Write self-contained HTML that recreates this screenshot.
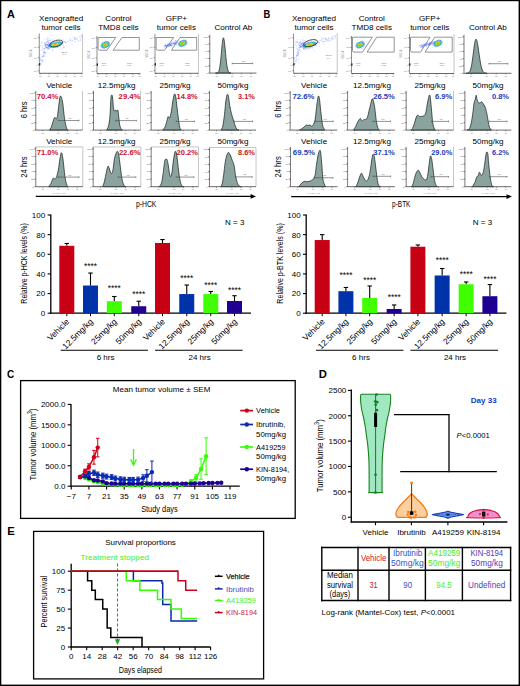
<!DOCTYPE html>
<html><head><meta charset="utf-8"><style>
html,body{margin:0;padding:0;background:#fff;}
svg{display:block;font-family:"Liberation Sans", sans-serif;}
</style></head><body>
<svg width="520" height="686" viewBox="0 0 520 686">
<rect width="520" height="686" fill="#fff"/>
<line x1="50.80" y1="214.50" x2="50.80" y2="313.80" stroke="#000" stroke-width="1.3"/>
<line x1="50.20" y1="313.20" x2="251.00" y2="313.20" stroke="#000" stroke-width="1.3"/>
<line x1="47.60" y1="313.20" x2="50.80" y2="313.20" stroke="#000" stroke-width="1.1"/>
<text x="45.20" y="316.10" font-size="8" text-anchor="end">0</text>
<line x1="47.60" y1="293.56" x2="50.80" y2="293.56" stroke="#000" stroke-width="1.1"/>
<text x="45.20" y="296.46" font-size="8" text-anchor="end">20</text>
<line x1="47.60" y1="273.92" x2="50.80" y2="273.92" stroke="#000" stroke-width="1.1"/>
<text x="45.20" y="276.82" font-size="8" text-anchor="end">40</text>
<line x1="47.60" y1="254.28" x2="50.80" y2="254.28" stroke="#000" stroke-width="1.1"/>
<text x="45.20" y="257.18" font-size="8" text-anchor="end">60</text>
<line x1="47.60" y1="234.64" x2="50.80" y2="234.64" stroke="#000" stroke-width="1.1"/>
<text x="45.20" y="237.54" font-size="8" text-anchor="end">80</text>
<line x1="47.60" y1="215.00" x2="50.80" y2="215.00" stroke="#000" stroke-width="1.1"/>
<text x="45.20" y="217.90" font-size="8" text-anchor="end">100</text>
<line x1="66.80" y1="245.83" x2="66.80" y2="243.48" stroke="#000" stroke-width="1.1"/>
<line x1="64.60" y1="243.48" x2="69.00" y2="243.48" stroke="#000" stroke-width="1.1"/>
<rect x="59.30" y="245.83" width="15.00" height="67.37" fill="#c80014"/>
<line x1="66.80" y1="313.20" x2="66.80" y2="316.20" stroke="#000" stroke-width="1.0"/>
<line x1="90.50" y1="285.51" x2="90.50" y2="273.04" stroke="#000" stroke-width="1.1"/>
<line x1="88.30" y1="273.04" x2="92.70" y2="273.04" stroke="#000" stroke-width="1.1"/>
<rect x="83.00" y="285.51" width="15.00" height="27.69" fill="#0033aa"/>
<line x1="90.50" y1="313.20" x2="90.50" y2="316.20" stroke="#000" stroke-width="1.0"/>
<text x="90.50" y="269.30" font-size="8.6" text-anchor="middle" textLength="13.00" lengthAdjust="spacingAndGlyphs">****</text>
<line x1="114.30" y1="301.22" x2="114.30" y2="296.51" stroke="#000" stroke-width="1.1"/>
<line x1="112.10" y1="296.51" x2="116.50" y2="296.51" stroke="#000" stroke-width="1.1"/>
<rect x="106.80" y="301.22" width="15.00" height="11.98" fill="#40ff00"/>
<line x1="114.30" y1="313.20" x2="114.30" y2="316.20" stroke="#000" stroke-width="1.0"/>
<text x="114.30" y="291.20" font-size="8.6" text-anchor="middle" textLength="13.00" lengthAdjust="spacingAndGlyphs">****</text>
<line x1="138.75" y1="306.23" x2="138.75" y2="301.22" stroke="#000" stroke-width="1.1"/>
<line x1="136.55" y1="301.22" x2="140.95" y2="301.22" stroke="#000" stroke-width="1.1"/>
<rect x="131.25" y="306.23" width="15.00" height="6.97" fill="#200090"/>
<line x1="138.75" y1="313.20" x2="138.75" y2="316.20" stroke="#000" stroke-width="1.0"/>
<text x="138.75" y="296.90" font-size="8.6" text-anchor="middle" textLength="13.00" lengthAdjust="spacingAndGlyphs">****</text>
<line x1="162.50" y1="242.99" x2="162.50" y2="239.55" stroke="#000" stroke-width="1.1"/>
<line x1="160.30" y1="239.55" x2="164.70" y2="239.55" stroke="#000" stroke-width="1.1"/>
<rect x="155.00" y="242.99" width="15.00" height="70.21" fill="#c80014"/>
<line x1="162.50" y1="313.20" x2="162.50" y2="316.20" stroke="#000" stroke-width="1.0"/>
<line x1="186.75" y1="294.05" x2="186.75" y2="285.02" stroke="#000" stroke-width="1.1"/>
<line x1="184.55" y1="285.02" x2="188.95" y2="285.02" stroke="#000" stroke-width="1.1"/>
<rect x="179.25" y="294.05" width="15.00" height="19.15" fill="#0033aa"/>
<line x1="186.75" y1="313.20" x2="186.75" y2="316.20" stroke="#000" stroke-width="1.0"/>
<text x="186.75" y="280.70" font-size="8.6" text-anchor="middle" textLength="13.00" lengthAdjust="spacingAndGlyphs">****</text>
<line x1="210.75" y1="294.05" x2="210.75" y2="291.50" stroke="#000" stroke-width="1.1"/>
<line x1="208.55" y1="291.50" x2="212.95" y2="291.50" stroke="#000" stroke-width="1.1"/>
<rect x="203.25" y="294.05" width="15.00" height="19.15" fill="#40ff00"/>
<line x1="210.75" y1="313.20" x2="210.75" y2="316.20" stroke="#000" stroke-width="1.0"/>
<text x="210.75" y="287.70" font-size="8.6" text-anchor="middle" textLength="13.00" lengthAdjust="spacingAndGlyphs">****</text>
<line x1="234.50" y1="301.02" x2="234.50" y2="295.72" stroke="#000" stroke-width="1.1"/>
<line x1="232.30" y1="295.72" x2="236.70" y2="295.72" stroke="#000" stroke-width="1.1"/>
<rect x="227.00" y="301.02" width="15.00" height="12.18" fill="#200090"/>
<line x1="234.50" y1="313.20" x2="234.50" y2="316.20" stroke="#000" stroke-width="1.0"/>
<text x="234.50" y="293.20" font-size="8.6" text-anchor="middle" textLength="13.00" lengthAdjust="spacingAndGlyphs">****</text>
<text x="0" y="0" font-size="9.2" text-anchor="middle" textLength="80.50" lengthAdjust="spacingAndGlyphs" transform="translate(27.20,263.40) rotate(-90)">Relative p-HCK levels (%)</text>
<text x="0" y="0" font-size="8.4" text-anchor="end" transform="translate(69.80,322.20) rotate(-45)">Vehicle</text>
<text x="0" y="0" font-size="8.4" text-anchor="end" transform="translate(93.50,322.20) rotate(-45)">12.5mg/kg</text>
<text x="0" y="0" font-size="8.4" text-anchor="end" transform="translate(117.30,322.20) rotate(-45)">25mg/kg</text>
<text x="0" y="0" font-size="8.4" text-anchor="end" transform="translate(141.75,322.20) rotate(-45)">50mg/kg</text>
<text x="0" y="0" font-size="8.4" text-anchor="end" transform="translate(165.50,322.20) rotate(-45)">Vehicle</text>
<text x="0" y="0" font-size="8.4" text-anchor="end" transform="translate(189.75,322.20) rotate(-45)">12.5mg/kg</text>
<text x="0" y="0" font-size="8.4" text-anchor="end" transform="translate(213.75,322.20) rotate(-45)">25mg/kg</text>
<text x="0" y="0" font-size="8.4" text-anchor="end" transform="translate(237.50,322.20) rotate(-45)">50mg/kg</text>
<line x1="60.60" y1="350.20" x2="148.00" y2="350.20" stroke="#000" stroke-width="1.1"/>
<line x1="155.00" y1="350.20" x2="242.60" y2="350.20" stroke="#000" stroke-width="1.1"/>
<text x="105.60" y="360.30" font-size="8" text-anchor="middle">6 hrs</text>
<text x="199.60" y="360.30" font-size="8" text-anchor="middle">24 hrs</text>
<text x="234.70" y="225.00" font-size="8" text-anchor="middle">N = 3</text>
<line x1="306.20" y1="214.50" x2="306.20" y2="313.80" stroke="#000" stroke-width="1.3"/>
<line x1="305.60" y1="313.20" x2="506.40" y2="313.20" stroke="#000" stroke-width="1.3"/>
<line x1="303.00" y1="313.20" x2="306.20" y2="313.20" stroke="#000" stroke-width="1.1"/>
<text x="300.60" y="316.10" font-size="8" text-anchor="end">0</text>
<line x1="303.00" y1="293.56" x2="306.20" y2="293.56" stroke="#000" stroke-width="1.1"/>
<text x="300.60" y="296.46" font-size="8" text-anchor="end">20</text>
<line x1="303.00" y1="273.92" x2="306.20" y2="273.92" stroke="#000" stroke-width="1.1"/>
<text x="300.60" y="276.82" font-size="8" text-anchor="end">40</text>
<line x1="303.00" y1="254.28" x2="306.20" y2="254.28" stroke="#000" stroke-width="1.1"/>
<text x="300.60" y="257.18" font-size="8" text-anchor="end">60</text>
<line x1="303.00" y1="234.64" x2="306.20" y2="234.64" stroke="#000" stroke-width="1.1"/>
<text x="300.60" y="237.54" font-size="8" text-anchor="end">80</text>
<line x1="303.00" y1="215.00" x2="306.20" y2="215.00" stroke="#000" stroke-width="1.1"/>
<text x="300.60" y="217.90" font-size="8" text-anchor="end">100</text>
<line x1="322.20" y1="240.04" x2="322.20" y2="234.64" stroke="#000" stroke-width="1.1"/>
<line x1="320.00" y1="234.64" x2="324.40" y2="234.64" stroke="#000" stroke-width="1.1"/>
<rect x="314.70" y="240.04" width="15.00" height="73.16" fill="#c80014"/>
<line x1="322.20" y1="313.20" x2="322.20" y2="316.20" stroke="#000" stroke-width="1.0"/>
<line x1="345.90" y1="291.20" x2="345.90" y2="287.47" stroke="#000" stroke-width="1.1"/>
<line x1="343.70" y1="287.47" x2="348.10" y2="287.47" stroke="#000" stroke-width="1.1"/>
<rect x="338.40" y="291.20" width="15.00" height="22.00" fill="#0033aa"/>
<line x1="345.90" y1="313.20" x2="345.90" y2="316.20" stroke="#000" stroke-width="1.0"/>
<text x="345.90" y="277.90" font-size="8.6" text-anchor="middle" textLength="13.00" lengthAdjust="spacingAndGlyphs">****</text>
<line x1="369.70" y1="297.98" x2="369.70" y2="286.00" stroke="#000" stroke-width="1.1"/>
<line x1="367.50" y1="286.00" x2="371.90" y2="286.00" stroke="#000" stroke-width="1.1"/>
<rect x="362.20" y="297.98" width="15.00" height="15.22" fill="#40ff00"/>
<line x1="369.70" y1="313.20" x2="369.70" y2="316.20" stroke="#000" stroke-width="1.0"/>
<text x="369.70" y="282.90" font-size="8.6" text-anchor="middle" textLength="13.00" lengthAdjust="spacingAndGlyphs">****</text>
<line x1="394.15" y1="308.98" x2="394.15" y2="304.95" stroke="#000" stroke-width="1.1"/>
<line x1="391.95" y1="304.95" x2="396.35" y2="304.95" stroke="#000" stroke-width="1.1"/>
<rect x="386.65" y="308.98" width="15.00" height="4.22" fill="#200090"/>
<line x1="394.15" y1="313.20" x2="394.15" y2="316.20" stroke="#000" stroke-width="1.0"/>
<text x="394.15" y="300.40" font-size="8.6" text-anchor="middle" textLength="13.00" lengthAdjust="spacingAndGlyphs">****</text>
<line x1="417.90" y1="246.72" x2="417.90" y2="244.95" stroke="#000" stroke-width="1.1"/>
<line x1="415.70" y1="244.95" x2="420.10" y2="244.95" stroke="#000" stroke-width="1.1"/>
<rect x="410.40" y="246.72" width="15.00" height="66.48" fill="#c80014"/>
<line x1="417.90" y1="313.20" x2="417.90" y2="316.20" stroke="#000" stroke-width="1.0"/>
<line x1="442.15" y1="275.49" x2="442.15" y2="268.52" stroke="#000" stroke-width="1.1"/>
<line x1="439.95" y1="268.52" x2="444.35" y2="268.52" stroke="#000" stroke-width="1.1"/>
<rect x="434.65" y="275.49" width="15.00" height="37.71" fill="#0033aa"/>
<line x1="442.15" y1="313.20" x2="442.15" y2="316.20" stroke="#000" stroke-width="1.0"/>
<text x="442.15" y="263.20" font-size="8.6" text-anchor="middle" textLength="13.00" lengthAdjust="spacingAndGlyphs">****</text>
<line x1="466.15" y1="284.23" x2="466.15" y2="281.97" stroke="#000" stroke-width="1.1"/>
<line x1="463.95" y1="281.97" x2="468.35" y2="281.97" stroke="#000" stroke-width="1.1"/>
<rect x="458.65" y="284.23" width="15.00" height="28.97" fill="#40ff00"/>
<line x1="466.15" y1="313.20" x2="466.15" y2="316.20" stroke="#000" stroke-width="1.0"/>
<text x="466.15" y="276.90" font-size="8.6" text-anchor="middle" textLength="13.00" lengthAdjust="spacingAndGlyphs">****</text>
<line x1="489.90" y1="296.21" x2="489.90" y2="284.53" stroke="#000" stroke-width="1.1"/>
<line x1="487.70" y1="284.53" x2="492.10" y2="284.53" stroke="#000" stroke-width="1.1"/>
<rect x="482.40" y="296.21" width="15.00" height="16.99" fill="#200090"/>
<line x1="489.90" y1="313.20" x2="489.90" y2="316.20" stroke="#000" stroke-width="1.0"/>
<text x="489.90" y="281.90" font-size="8.6" text-anchor="middle" textLength="13.00" lengthAdjust="spacingAndGlyphs">****</text>
<text x="0" y="0" font-size="9.2" text-anchor="middle" textLength="80.50" lengthAdjust="spacingAndGlyphs" transform="translate(282.60,263.40) rotate(-90)">Relative p-BTK levels (%)</text>
<text x="0" y="0" font-size="8.4" text-anchor="end" transform="translate(325.20,322.20) rotate(-45)">Vehicle</text>
<text x="0" y="0" font-size="8.4" text-anchor="end" transform="translate(348.90,322.20) rotate(-45)">12.5mg/kg</text>
<text x="0" y="0" font-size="8.4" text-anchor="end" transform="translate(372.70,322.20) rotate(-45)">25mg/kg</text>
<text x="0" y="0" font-size="8.4" text-anchor="end" transform="translate(397.15,322.20) rotate(-45)">50mg/kg</text>
<text x="0" y="0" font-size="8.4" text-anchor="end" transform="translate(420.90,322.20) rotate(-45)">Vehicle</text>
<text x="0" y="0" font-size="8.4" text-anchor="end" transform="translate(445.15,322.20) rotate(-45)">12.5mg/kg</text>
<text x="0" y="0" font-size="8.4" text-anchor="end" transform="translate(469.15,322.20) rotate(-45)">25mg/kg</text>
<text x="0" y="0" font-size="8.4" text-anchor="end" transform="translate(492.90,322.20) rotate(-45)">50mg/kg</text>
<line x1="316.00" y1="350.20" x2="403.40" y2="350.20" stroke="#000" stroke-width="1.1"/>
<line x1="410.40" y1="350.20" x2="498.00" y2="350.20" stroke="#000" stroke-width="1.1"/>
<text x="361.00" y="360.30" font-size="8" text-anchor="middle">6 hrs</text>
<text x="455.00" y="360.30" font-size="8" text-anchor="middle">24 hrs</text>
<text x="482.50" y="225.00" font-size="8" text-anchor="middle">N = 3</text>
<text x="61.10" y="21.20" font-size="8.1" text-anchor="middle">Xenografted</text>
<text x="61.10" y="30.00" font-size="8.1" text-anchor="middle">tumor cells</text>
<text x="118.40" y="21.20" font-size="8.1" text-anchor="middle">Control</text>
<text x="118.40" y="30.00" font-size="8.1" text-anchor="middle">TMD8 cells</text>
<text x="176.40" y="21.20" font-size="8.1" text-anchor="middle">GFP+</text>
<text x="176.40" y="30.00" font-size="8.1" text-anchor="middle">tumor cells</text>
<text x="314.00" y="21.20" font-size="8.1" text-anchor="middle">Xenografted</text>
<text x="314.00" y="30.00" font-size="8.1" text-anchor="middle">tumor cells</text>
<text x="371.70" y="21.20" font-size="8.1" text-anchor="middle">Control</text>
<text x="371.70" y="30.00" font-size="8.1" text-anchor="middle">TMD8 cells</text>
<text x="429.70" y="21.20" font-size="8.1" text-anchor="middle">GFP+</text>
<text x="429.70" y="30.00" font-size="8.1" text-anchor="middle">tumor cells</text>
<text x="233.40" y="30.00" font-size="8.1" text-anchor="middle">Control Ab</text>
<text x="487.90" y="30.00" font-size="8.1" text-anchor="middle">Control Ab</text>
<rect x="20.60" y="380.60" width="274.60" height="137.80" fill="none" stroke="#000" stroke-width="1.3"/>
<text x="161.60" y="392.20" font-size="8" text-anchor="middle" textLength="97.50" lengthAdjust="spacingAndGlyphs">Mean tumor volume ± SEM</text>
<line x1="71.00" y1="404.00" x2="71.00" y2="486.80" stroke="#000" stroke-width="1.3"/>
<line x1="70.40" y1="486.20" x2="239.80" y2="486.20" stroke="#000" stroke-width="1.3"/>
<line x1="67.60" y1="486.20" x2="71.00" y2="486.20" stroke="#000" stroke-width="1.1"/>
<text x="65.40" y="489.10" font-size="8" text-anchor="end">0.0</text>
<line x1="67.60" y1="465.75" x2="71.00" y2="465.75" stroke="#000" stroke-width="1.1"/>
<text x="65.40" y="468.65" font-size="8" text-anchor="end">500.0</text>
<line x1="67.60" y1="445.30" x2="71.00" y2="445.30" stroke="#000" stroke-width="1.1"/>
<text x="65.40" y="448.20" font-size="8" text-anchor="end">1000.0</text>
<line x1="67.60" y1="424.85" x2="71.00" y2="424.85" stroke="#000" stroke-width="1.1"/>
<text x="65.40" y="427.75" font-size="8" text-anchor="end">1500.0</text>
<line x1="67.60" y1="404.40" x2="71.00" y2="404.40" stroke="#000" stroke-width="1.1"/>
<text x="65.40" y="407.30" font-size="8" text-anchor="end">2000.0</text>
<line x1="71.28" y1="486.20" x2="71.28" y2="489.40" stroke="#000" stroke-width="1.1"/>
<text x="71.28" y="499.30" font-size="8" text-anchor="middle">−7</text>
<line x1="88.92" y1="486.20" x2="88.92" y2="489.40" stroke="#000" stroke-width="1.1"/>
<text x="88.92" y="499.30" font-size="8" text-anchor="middle">7</text>
<line x1="106.56" y1="486.20" x2="106.56" y2="489.40" stroke="#000" stroke-width="1.1"/>
<text x="106.56" y="499.30" font-size="8" text-anchor="middle">21</text>
<line x1="124.20" y1="486.20" x2="124.20" y2="489.40" stroke="#000" stroke-width="1.1"/>
<text x="124.20" y="499.30" font-size="8" text-anchor="middle">35</text>
<line x1="141.84" y1="486.20" x2="141.84" y2="489.40" stroke="#000" stroke-width="1.1"/>
<text x="141.84" y="499.30" font-size="8" text-anchor="middle">49</text>
<line x1="159.48" y1="486.20" x2="159.48" y2="489.40" stroke="#000" stroke-width="1.1"/>
<text x="159.48" y="499.30" font-size="8" text-anchor="middle">63</text>
<line x1="177.12" y1="486.20" x2="177.12" y2="489.40" stroke="#000" stroke-width="1.1"/>
<text x="177.12" y="499.30" font-size="8" text-anchor="middle">77</text>
<line x1="194.76" y1="486.20" x2="194.76" y2="489.40" stroke="#000" stroke-width="1.1"/>
<text x="194.76" y="499.30" font-size="8" text-anchor="middle">91</text>
<line x1="212.40" y1="486.20" x2="212.40" y2="489.40" stroke="#000" stroke-width="1.1"/>
<text x="212.40" y="499.30" font-size="8" text-anchor="middle">105</text>
<line x1="230.04" y1="486.20" x2="230.04" y2="489.40" stroke="#000" stroke-width="1.1"/>
<text x="230.04" y="499.30" font-size="8" text-anchor="middle">119</text>
<text x="159.40" y="511.60" font-size="9" text-anchor="middle" textLength="36.50" lengthAdjust="spacingAndGlyphs">Study days</text>
<text x="0" y="0" font-size="9.2" text-anchor="middle" transform="translate(35.7,444.5) rotate(-90)" textLength="72" lengthAdjust="spacingAndGlyphs">Tumor volume (mm<tspan font-size="6.8" dy="-3.6">3</tspan><tspan dy="3.6">)</tspan></text>
<path d="M80.10,477.00 L85.14,478.02 L88.92,479.45 L93.96,481.29 L97.74,482.31 L102.78,483.13 L106.56,483.95 L111.60,484.36 L115.38,484.65 L120.42,484.89 L124.20,485.05 L129.24,485.05 L133.02,485.05 L138.06,485.05 L141.84,485.05 L146.88,485.05 L150.66,485.05 L155.70,485.05 L159.48,485.05 L164.52,485.05 L168.30,485.05 L173.34,485.05 L177.12,484.97 L182.16,484.77 L185.94,483.95 L190.98,481.21 L196.02,478.02 L201.06,469.02 L206.10,456.22" fill="none" stroke="#33ff00" stroke-width="1.5" stroke-linejoin="round"/>
<line x1="80.10" y1="476.18" x2="80.10" y2="477.82" stroke="#33ff00" stroke-width="1.0"/>
<line x1="78.30" y1="476.18" x2="81.90" y2="476.18" stroke="#33ff00" stroke-width="1.0"/>
<line x1="78.30" y1="477.82" x2="81.90" y2="477.82" stroke="#33ff00" stroke-width="1.0"/>
<line x1="85.14" y1="477.20" x2="85.14" y2="478.84" stroke="#33ff00" stroke-width="1.0"/>
<line x1="83.34" y1="477.20" x2="86.94" y2="477.20" stroke="#33ff00" stroke-width="1.0"/>
<line x1="83.34" y1="478.84" x2="86.94" y2="478.84" stroke="#33ff00" stroke-width="1.0"/>
<line x1="88.92" y1="478.72" x2="88.92" y2="480.19" stroke="#33ff00" stroke-width="1.0"/>
<line x1="87.12" y1="478.72" x2="90.72" y2="478.72" stroke="#33ff00" stroke-width="1.0"/>
<line x1="87.12" y1="480.19" x2="90.72" y2="480.19" stroke="#33ff00" stroke-width="1.0"/>
<line x1="93.96" y1="480.68" x2="93.96" y2="481.91" stroke="#33ff00" stroke-width="1.0"/>
<line x1="92.16" y1="480.68" x2="95.76" y2="480.68" stroke="#33ff00" stroke-width="1.0"/>
<line x1="92.16" y1="481.91" x2="95.76" y2="481.91" stroke="#33ff00" stroke-width="1.0"/>
<line x1="97.74" y1="481.82" x2="97.74" y2="482.81" stroke="#33ff00" stroke-width="1.0"/>
<line x1="95.94" y1="481.82" x2="99.54" y2="481.82" stroke="#33ff00" stroke-width="1.0"/>
<line x1="95.94" y1="482.81" x2="99.54" y2="482.81" stroke="#33ff00" stroke-width="1.0"/>
<line x1="102.78" y1="482.72" x2="102.78" y2="483.54" stroke="#33ff00" stroke-width="1.0"/>
<line x1="100.98" y1="482.72" x2="104.58" y2="482.72" stroke="#33ff00" stroke-width="1.0"/>
<line x1="100.98" y1="483.54" x2="104.58" y2="483.54" stroke="#33ff00" stroke-width="1.0"/>
<line x1="106.56" y1="483.62" x2="106.56" y2="484.28" stroke="#33ff00" stroke-width="1.0"/>
<line x1="104.76" y1="483.62" x2="108.36" y2="483.62" stroke="#33ff00" stroke-width="1.0"/>
<line x1="104.76" y1="484.28" x2="108.36" y2="484.28" stroke="#33ff00" stroke-width="1.0"/>
<line x1="111.60" y1="484.03" x2="111.60" y2="484.69" stroke="#33ff00" stroke-width="1.0"/>
<line x1="109.80" y1="484.03" x2="113.40" y2="484.03" stroke="#33ff00" stroke-width="1.0"/>
<line x1="109.80" y1="484.69" x2="113.40" y2="484.69" stroke="#33ff00" stroke-width="1.0"/>
<line x1="115.38" y1="484.40" x2="115.38" y2="484.89" stroke="#33ff00" stroke-width="1.0"/>
<line x1="113.58" y1="484.40" x2="117.18" y2="484.40" stroke="#33ff00" stroke-width="1.0"/>
<line x1="113.58" y1="484.89" x2="117.18" y2="484.89" stroke="#33ff00" stroke-width="1.0"/>
<line x1="120.42" y1="484.65" x2="120.42" y2="485.14" stroke="#33ff00" stroke-width="1.0"/>
<line x1="118.62" y1="484.65" x2="122.22" y2="484.65" stroke="#33ff00" stroke-width="1.0"/>
<line x1="118.62" y1="485.14" x2="122.22" y2="485.14" stroke="#33ff00" stroke-width="1.0"/>
<line x1="124.20" y1="484.81" x2="124.20" y2="485.30" stroke="#33ff00" stroke-width="1.0"/>
<line x1="122.40" y1="484.81" x2="126.00" y2="484.81" stroke="#33ff00" stroke-width="1.0"/>
<line x1="122.40" y1="485.30" x2="126.00" y2="485.30" stroke="#33ff00" stroke-width="1.0"/>
<line x1="129.24" y1="484.81" x2="129.24" y2="485.30" stroke="#33ff00" stroke-width="1.0"/>
<line x1="127.44" y1="484.81" x2="131.04" y2="484.81" stroke="#33ff00" stroke-width="1.0"/>
<line x1="127.44" y1="485.30" x2="131.04" y2="485.30" stroke="#33ff00" stroke-width="1.0"/>
<line x1="133.02" y1="484.81" x2="133.02" y2="485.30" stroke="#33ff00" stroke-width="1.0"/>
<line x1="131.22" y1="484.81" x2="134.82" y2="484.81" stroke="#33ff00" stroke-width="1.0"/>
<line x1="131.22" y1="485.30" x2="134.82" y2="485.30" stroke="#33ff00" stroke-width="1.0"/>
<line x1="138.06" y1="484.81" x2="138.06" y2="485.30" stroke="#33ff00" stroke-width="1.0"/>
<line x1="136.26" y1="484.81" x2="139.86" y2="484.81" stroke="#33ff00" stroke-width="1.0"/>
<line x1="136.26" y1="485.30" x2="139.86" y2="485.30" stroke="#33ff00" stroke-width="1.0"/>
<line x1="141.84" y1="484.81" x2="141.84" y2="485.30" stroke="#33ff00" stroke-width="1.0"/>
<line x1="140.04" y1="484.81" x2="143.64" y2="484.81" stroke="#33ff00" stroke-width="1.0"/>
<line x1="140.04" y1="485.30" x2="143.64" y2="485.30" stroke="#33ff00" stroke-width="1.0"/>
<line x1="146.88" y1="484.81" x2="146.88" y2="485.30" stroke="#33ff00" stroke-width="1.0"/>
<line x1="145.08" y1="484.81" x2="148.68" y2="484.81" stroke="#33ff00" stroke-width="1.0"/>
<line x1="145.08" y1="485.30" x2="148.68" y2="485.30" stroke="#33ff00" stroke-width="1.0"/>
<line x1="150.66" y1="484.81" x2="150.66" y2="485.30" stroke="#33ff00" stroke-width="1.0"/>
<line x1="148.86" y1="484.81" x2="152.46" y2="484.81" stroke="#33ff00" stroke-width="1.0"/>
<line x1="148.86" y1="485.30" x2="152.46" y2="485.30" stroke="#33ff00" stroke-width="1.0"/>
<line x1="155.70" y1="484.81" x2="155.70" y2="485.30" stroke="#33ff00" stroke-width="1.0"/>
<line x1="153.90" y1="484.81" x2="157.50" y2="484.81" stroke="#33ff00" stroke-width="1.0"/>
<line x1="153.90" y1="485.30" x2="157.50" y2="485.30" stroke="#33ff00" stroke-width="1.0"/>
<line x1="159.48" y1="484.81" x2="159.48" y2="485.30" stroke="#33ff00" stroke-width="1.0"/>
<line x1="157.68" y1="484.81" x2="161.28" y2="484.81" stroke="#33ff00" stroke-width="1.0"/>
<line x1="157.68" y1="485.30" x2="161.28" y2="485.30" stroke="#33ff00" stroke-width="1.0"/>
<line x1="164.52" y1="484.81" x2="164.52" y2="485.30" stroke="#33ff00" stroke-width="1.0"/>
<line x1="162.72" y1="484.81" x2="166.32" y2="484.81" stroke="#33ff00" stroke-width="1.0"/>
<line x1="162.72" y1="485.30" x2="166.32" y2="485.30" stroke="#33ff00" stroke-width="1.0"/>
<line x1="168.30" y1="484.81" x2="168.30" y2="485.30" stroke="#33ff00" stroke-width="1.0"/>
<line x1="166.50" y1="484.81" x2="170.10" y2="484.81" stroke="#33ff00" stroke-width="1.0"/>
<line x1="166.50" y1="485.30" x2="170.10" y2="485.30" stroke="#33ff00" stroke-width="1.0"/>
<line x1="173.34" y1="484.81" x2="173.34" y2="485.30" stroke="#33ff00" stroke-width="1.0"/>
<line x1="171.54" y1="484.81" x2="175.14" y2="484.81" stroke="#33ff00" stroke-width="1.0"/>
<line x1="171.54" y1="485.30" x2="175.14" y2="485.30" stroke="#33ff00" stroke-width="1.0"/>
<line x1="177.12" y1="484.73" x2="177.12" y2="485.22" stroke="#33ff00" stroke-width="1.0"/>
<line x1="175.32" y1="484.73" x2="178.92" y2="484.73" stroke="#33ff00" stroke-width="1.0"/>
<line x1="175.32" y1="485.22" x2="178.92" y2="485.22" stroke="#33ff00" stroke-width="1.0"/>
<line x1="182.16" y1="484.44" x2="182.16" y2="485.10" stroke="#33ff00" stroke-width="1.0"/>
<line x1="180.36" y1="484.44" x2="183.96" y2="484.44" stroke="#33ff00" stroke-width="1.0"/>
<line x1="180.36" y1="485.10" x2="183.96" y2="485.10" stroke="#33ff00" stroke-width="1.0"/>
<line x1="185.94" y1="483.46" x2="185.94" y2="484.44" stroke="#33ff00" stroke-width="1.0"/>
<line x1="184.14" y1="483.46" x2="187.74" y2="483.46" stroke="#33ff00" stroke-width="1.0"/>
<line x1="184.14" y1="484.44" x2="187.74" y2="484.44" stroke="#33ff00" stroke-width="1.0"/>
<line x1="190.98" y1="479.98" x2="190.98" y2="482.44" stroke="#33ff00" stroke-width="1.0"/>
<line x1="189.18" y1="479.98" x2="192.78" y2="479.98" stroke="#33ff00" stroke-width="1.0"/>
<line x1="189.18" y1="482.44" x2="192.78" y2="482.44" stroke="#33ff00" stroke-width="1.0"/>
<line x1="196.02" y1="474.75" x2="196.02" y2="481.29" stroke="#33ff00" stroke-width="1.0"/>
<line x1="194.22" y1="474.75" x2="197.82" y2="474.75" stroke="#33ff00" stroke-width="1.0"/>
<line x1="194.22" y1="481.29" x2="197.82" y2="481.29" stroke="#33ff00" stroke-width="1.0"/>
<line x1="201.06" y1="458.80" x2="201.06" y2="479.25" stroke="#33ff00" stroke-width="1.0"/>
<line x1="199.26" y1="458.80" x2="202.86" y2="458.80" stroke="#33ff00" stroke-width="1.0"/>
<line x1="199.26" y1="479.25" x2="202.86" y2="479.25" stroke="#33ff00" stroke-width="1.0"/>
<line x1="206.10" y1="437.82" x2="206.10" y2="474.63" stroke="#33ff00" stroke-width="1.0"/>
<line x1="204.30" y1="437.82" x2="207.90" y2="437.82" stroke="#33ff00" stroke-width="1.0"/>
<line x1="204.30" y1="474.63" x2="207.90" y2="474.63" stroke="#33ff00" stroke-width="1.0"/>
<circle cx="80.10" cy="477.00" r="2.2" fill="#33ff00"/>
<circle cx="85.14" cy="478.02" r="2.2" fill="#33ff00"/>
<circle cx="88.92" cy="479.45" r="2.2" fill="#33ff00"/>
<circle cx="93.96" cy="481.29" r="2.2" fill="#33ff00"/>
<circle cx="97.74" cy="482.31" r="2.2" fill="#33ff00"/>
<circle cx="102.78" cy="483.13" r="2.2" fill="#33ff00"/>
<circle cx="106.56" cy="483.95" r="2.2" fill="#33ff00"/>
<circle cx="111.60" cy="484.36" r="2.2" fill="#33ff00"/>
<circle cx="115.38" cy="484.65" r="2.2" fill="#33ff00"/>
<circle cx="120.42" cy="484.89" r="2.2" fill="#33ff00"/>
<circle cx="124.20" cy="485.05" r="2.2" fill="#33ff00"/>
<circle cx="129.24" cy="485.05" r="2.2" fill="#33ff00"/>
<circle cx="133.02" cy="485.05" r="2.2" fill="#33ff00"/>
<circle cx="138.06" cy="485.05" r="2.2" fill="#33ff00"/>
<circle cx="141.84" cy="485.05" r="2.2" fill="#33ff00"/>
<circle cx="146.88" cy="485.05" r="2.2" fill="#33ff00"/>
<circle cx="150.66" cy="485.05" r="2.2" fill="#33ff00"/>
<circle cx="155.70" cy="485.05" r="2.2" fill="#33ff00"/>
<circle cx="159.48" cy="485.05" r="2.2" fill="#33ff00"/>
<circle cx="164.52" cy="485.05" r="2.2" fill="#33ff00"/>
<circle cx="168.30" cy="485.05" r="2.2" fill="#33ff00"/>
<circle cx="173.34" cy="485.05" r="2.2" fill="#33ff00"/>
<circle cx="177.12" cy="484.97" r="2.2" fill="#33ff00"/>
<circle cx="182.16" cy="484.77" r="2.2" fill="#33ff00"/>
<circle cx="185.94" cy="483.95" r="2.2" fill="#33ff00"/>
<circle cx="190.98" cy="481.21" r="2.2" fill="#33ff00"/>
<circle cx="196.02" cy="478.02" r="2.2" fill="#33ff00"/>
<circle cx="201.06" cy="469.02" r="2.2" fill="#33ff00"/>
<circle cx="206.10" cy="456.22" r="2.2" fill="#33ff00"/>
<path d="M80.10,477.00 L85.14,476.30 L88.92,478.02 L93.96,480.19 L97.74,480.51 L102.78,481.41 L106.56,483.13 L111.60,483.50 L115.38,483.66 L120.42,483.66 L124.20,483.66 L129.24,483.66 L133.02,483.66 L138.06,483.66 L141.84,483.66 L146.88,483.66 L150.66,483.66 L155.70,483.66 L159.48,483.66 L164.52,483.66 L168.30,483.66 L173.34,483.66 L177.12,483.66 L182.16,483.66 L185.94,483.66 L190.98,483.58 L194.76,483.50 L199.80,483.34 L203.58,483.17 L208.62,483.01 L212.40,482.93 L217.44,482.85 L221.22,482.76" fill="none" stroke="#1e0096" stroke-width="1.5" stroke-linejoin="round"/>
<line x1="80.10" y1="476.59" x2="80.10" y2="477.41" stroke="#1e0096" stroke-width="1.0"/>
<line x1="78.30" y1="476.59" x2="81.90" y2="476.59" stroke="#1e0096" stroke-width="1.0"/>
<line x1="78.30" y1="477.41" x2="81.90" y2="477.41" stroke="#1e0096" stroke-width="1.0"/>
<line x1="85.14" y1="475.89" x2="85.14" y2="476.71" stroke="#1e0096" stroke-width="1.0"/>
<line x1="83.34" y1="475.89" x2="86.94" y2="475.89" stroke="#1e0096" stroke-width="1.0"/>
<line x1="83.34" y1="476.71" x2="86.94" y2="476.71" stroke="#1e0096" stroke-width="1.0"/>
<line x1="88.92" y1="477.61" x2="88.92" y2="478.43" stroke="#1e0096" stroke-width="1.0"/>
<line x1="87.12" y1="477.61" x2="90.72" y2="477.61" stroke="#1e0096" stroke-width="1.0"/>
<line x1="87.12" y1="478.43" x2="90.72" y2="478.43" stroke="#1e0096" stroke-width="1.0"/>
<line x1="93.96" y1="479.78" x2="93.96" y2="480.60" stroke="#1e0096" stroke-width="1.0"/>
<line x1="92.16" y1="479.78" x2="95.76" y2="479.78" stroke="#1e0096" stroke-width="1.0"/>
<line x1="92.16" y1="480.60" x2="95.76" y2="480.60" stroke="#1e0096" stroke-width="1.0"/>
<line x1="97.74" y1="480.11" x2="97.74" y2="480.92" stroke="#1e0096" stroke-width="1.0"/>
<line x1="95.94" y1="480.11" x2="99.54" y2="480.11" stroke="#1e0096" stroke-width="1.0"/>
<line x1="95.94" y1="480.92" x2="99.54" y2="480.92" stroke="#1e0096" stroke-width="1.0"/>
<line x1="102.78" y1="481.01" x2="102.78" y2="481.82" stroke="#1e0096" stroke-width="1.0"/>
<line x1="100.98" y1="481.01" x2="104.58" y2="481.01" stroke="#1e0096" stroke-width="1.0"/>
<line x1="100.98" y1="481.82" x2="104.58" y2="481.82" stroke="#1e0096" stroke-width="1.0"/>
<line x1="106.56" y1="482.72" x2="106.56" y2="483.54" stroke="#1e0096" stroke-width="1.0"/>
<line x1="104.76" y1="482.72" x2="108.36" y2="482.72" stroke="#1e0096" stroke-width="1.0"/>
<line x1="104.76" y1="483.54" x2="108.36" y2="483.54" stroke="#1e0096" stroke-width="1.0"/>
<line x1="111.60" y1="483.09" x2="111.60" y2="483.91" stroke="#1e0096" stroke-width="1.0"/>
<line x1="109.80" y1="483.09" x2="113.40" y2="483.09" stroke="#1e0096" stroke-width="1.0"/>
<line x1="109.80" y1="483.91" x2="113.40" y2="483.91" stroke="#1e0096" stroke-width="1.0"/>
<line x1="115.38" y1="483.26" x2="115.38" y2="484.07" stroke="#1e0096" stroke-width="1.0"/>
<line x1="113.58" y1="483.26" x2="117.18" y2="483.26" stroke="#1e0096" stroke-width="1.0"/>
<line x1="113.58" y1="484.07" x2="117.18" y2="484.07" stroke="#1e0096" stroke-width="1.0"/>
<line x1="120.42" y1="483.26" x2="120.42" y2="484.07" stroke="#1e0096" stroke-width="1.0"/>
<line x1="118.62" y1="483.26" x2="122.22" y2="483.26" stroke="#1e0096" stroke-width="1.0"/>
<line x1="118.62" y1="484.07" x2="122.22" y2="484.07" stroke="#1e0096" stroke-width="1.0"/>
<line x1="124.20" y1="483.26" x2="124.20" y2="484.07" stroke="#1e0096" stroke-width="1.0"/>
<line x1="122.40" y1="483.26" x2="126.00" y2="483.26" stroke="#1e0096" stroke-width="1.0"/>
<line x1="122.40" y1="484.07" x2="126.00" y2="484.07" stroke="#1e0096" stroke-width="1.0"/>
<line x1="129.24" y1="483.26" x2="129.24" y2="484.07" stroke="#1e0096" stroke-width="1.0"/>
<line x1="127.44" y1="483.26" x2="131.04" y2="483.26" stroke="#1e0096" stroke-width="1.0"/>
<line x1="127.44" y1="484.07" x2="131.04" y2="484.07" stroke="#1e0096" stroke-width="1.0"/>
<line x1="133.02" y1="483.26" x2="133.02" y2="484.07" stroke="#1e0096" stroke-width="1.0"/>
<line x1="131.22" y1="483.26" x2="134.82" y2="483.26" stroke="#1e0096" stroke-width="1.0"/>
<line x1="131.22" y1="484.07" x2="134.82" y2="484.07" stroke="#1e0096" stroke-width="1.0"/>
<line x1="138.06" y1="483.26" x2="138.06" y2="484.07" stroke="#1e0096" stroke-width="1.0"/>
<line x1="136.26" y1="483.26" x2="139.86" y2="483.26" stroke="#1e0096" stroke-width="1.0"/>
<line x1="136.26" y1="484.07" x2="139.86" y2="484.07" stroke="#1e0096" stroke-width="1.0"/>
<line x1="141.84" y1="483.26" x2="141.84" y2="484.07" stroke="#1e0096" stroke-width="1.0"/>
<line x1="140.04" y1="483.26" x2="143.64" y2="483.26" stroke="#1e0096" stroke-width="1.0"/>
<line x1="140.04" y1="484.07" x2="143.64" y2="484.07" stroke="#1e0096" stroke-width="1.0"/>
<line x1="146.88" y1="483.26" x2="146.88" y2="484.07" stroke="#1e0096" stroke-width="1.0"/>
<line x1="145.08" y1="483.26" x2="148.68" y2="483.26" stroke="#1e0096" stroke-width="1.0"/>
<line x1="145.08" y1="484.07" x2="148.68" y2="484.07" stroke="#1e0096" stroke-width="1.0"/>
<line x1="150.66" y1="483.26" x2="150.66" y2="484.07" stroke="#1e0096" stroke-width="1.0"/>
<line x1="148.86" y1="483.26" x2="152.46" y2="483.26" stroke="#1e0096" stroke-width="1.0"/>
<line x1="148.86" y1="484.07" x2="152.46" y2="484.07" stroke="#1e0096" stroke-width="1.0"/>
<line x1="155.70" y1="483.26" x2="155.70" y2="484.07" stroke="#1e0096" stroke-width="1.0"/>
<line x1="153.90" y1="483.26" x2="157.50" y2="483.26" stroke="#1e0096" stroke-width="1.0"/>
<line x1="153.90" y1="484.07" x2="157.50" y2="484.07" stroke="#1e0096" stroke-width="1.0"/>
<line x1="159.48" y1="483.26" x2="159.48" y2="484.07" stroke="#1e0096" stroke-width="1.0"/>
<line x1="157.68" y1="483.26" x2="161.28" y2="483.26" stroke="#1e0096" stroke-width="1.0"/>
<line x1="157.68" y1="484.07" x2="161.28" y2="484.07" stroke="#1e0096" stroke-width="1.0"/>
<line x1="164.52" y1="483.26" x2="164.52" y2="484.07" stroke="#1e0096" stroke-width="1.0"/>
<line x1="162.72" y1="483.26" x2="166.32" y2="483.26" stroke="#1e0096" stroke-width="1.0"/>
<line x1="162.72" y1="484.07" x2="166.32" y2="484.07" stroke="#1e0096" stroke-width="1.0"/>
<line x1="168.30" y1="483.26" x2="168.30" y2="484.07" stroke="#1e0096" stroke-width="1.0"/>
<line x1="166.50" y1="483.26" x2="170.10" y2="483.26" stroke="#1e0096" stroke-width="1.0"/>
<line x1="166.50" y1="484.07" x2="170.10" y2="484.07" stroke="#1e0096" stroke-width="1.0"/>
<line x1="173.34" y1="483.26" x2="173.34" y2="484.07" stroke="#1e0096" stroke-width="1.0"/>
<line x1="171.54" y1="483.26" x2="175.14" y2="483.26" stroke="#1e0096" stroke-width="1.0"/>
<line x1="171.54" y1="484.07" x2="175.14" y2="484.07" stroke="#1e0096" stroke-width="1.0"/>
<line x1="177.12" y1="483.26" x2="177.12" y2="484.07" stroke="#1e0096" stroke-width="1.0"/>
<line x1="175.32" y1="483.26" x2="178.92" y2="483.26" stroke="#1e0096" stroke-width="1.0"/>
<line x1="175.32" y1="484.07" x2="178.92" y2="484.07" stroke="#1e0096" stroke-width="1.0"/>
<line x1="182.16" y1="483.26" x2="182.16" y2="484.07" stroke="#1e0096" stroke-width="1.0"/>
<line x1="180.36" y1="483.26" x2="183.96" y2="483.26" stroke="#1e0096" stroke-width="1.0"/>
<line x1="180.36" y1="484.07" x2="183.96" y2="484.07" stroke="#1e0096" stroke-width="1.0"/>
<line x1="185.94" y1="483.26" x2="185.94" y2="484.07" stroke="#1e0096" stroke-width="1.0"/>
<line x1="184.14" y1="483.26" x2="187.74" y2="483.26" stroke="#1e0096" stroke-width="1.0"/>
<line x1="184.14" y1="484.07" x2="187.74" y2="484.07" stroke="#1e0096" stroke-width="1.0"/>
<line x1="190.98" y1="483.17" x2="190.98" y2="483.99" stroke="#1e0096" stroke-width="1.0"/>
<line x1="189.18" y1="483.17" x2="192.78" y2="483.17" stroke="#1e0096" stroke-width="1.0"/>
<line x1="189.18" y1="483.99" x2="192.78" y2="483.99" stroke="#1e0096" stroke-width="1.0"/>
<line x1="194.76" y1="483.09" x2="194.76" y2="483.91" stroke="#1e0096" stroke-width="1.0"/>
<line x1="192.96" y1="483.09" x2="196.56" y2="483.09" stroke="#1e0096" stroke-width="1.0"/>
<line x1="192.96" y1="483.91" x2="196.56" y2="483.91" stroke="#1e0096" stroke-width="1.0"/>
<line x1="199.80" y1="482.93" x2="199.80" y2="483.75" stroke="#1e0096" stroke-width="1.0"/>
<line x1="198.00" y1="482.93" x2="201.60" y2="482.93" stroke="#1e0096" stroke-width="1.0"/>
<line x1="198.00" y1="483.75" x2="201.60" y2="483.75" stroke="#1e0096" stroke-width="1.0"/>
<line x1="203.58" y1="482.76" x2="203.58" y2="483.58" stroke="#1e0096" stroke-width="1.0"/>
<line x1="201.78" y1="482.76" x2="205.38" y2="482.76" stroke="#1e0096" stroke-width="1.0"/>
<line x1="201.78" y1="483.58" x2="205.38" y2="483.58" stroke="#1e0096" stroke-width="1.0"/>
<line x1="208.62" y1="482.60" x2="208.62" y2="483.42" stroke="#1e0096" stroke-width="1.0"/>
<line x1="206.82" y1="482.60" x2="210.42" y2="482.60" stroke="#1e0096" stroke-width="1.0"/>
<line x1="206.82" y1="483.42" x2="210.42" y2="483.42" stroke="#1e0096" stroke-width="1.0"/>
<line x1="212.40" y1="482.52" x2="212.40" y2="483.34" stroke="#1e0096" stroke-width="1.0"/>
<line x1="210.60" y1="482.52" x2="214.20" y2="482.52" stroke="#1e0096" stroke-width="1.0"/>
<line x1="210.60" y1="483.34" x2="214.20" y2="483.34" stroke="#1e0096" stroke-width="1.0"/>
<line x1="217.44" y1="482.44" x2="217.44" y2="483.26" stroke="#1e0096" stroke-width="1.0"/>
<line x1="215.64" y1="482.44" x2="219.24" y2="482.44" stroke="#1e0096" stroke-width="1.0"/>
<line x1="215.64" y1="483.26" x2="219.24" y2="483.26" stroke="#1e0096" stroke-width="1.0"/>
<line x1="221.22" y1="482.36" x2="221.22" y2="483.17" stroke="#1e0096" stroke-width="1.0"/>
<line x1="219.42" y1="482.36" x2="223.02" y2="482.36" stroke="#1e0096" stroke-width="1.0"/>
<line x1="219.42" y1="483.17" x2="223.02" y2="483.17" stroke="#1e0096" stroke-width="1.0"/>
<circle cx="80.10" cy="477.00" r="2.2" fill="#1e0096"/>
<circle cx="85.14" cy="476.30" r="2.2" fill="#1e0096"/>
<circle cx="88.92" cy="478.02" r="2.2" fill="#1e0096"/>
<circle cx="93.96" cy="480.19" r="2.2" fill="#1e0096"/>
<circle cx="97.74" cy="480.51" r="2.2" fill="#1e0096"/>
<circle cx="102.78" cy="481.41" r="2.2" fill="#1e0096"/>
<circle cx="106.56" cy="483.13" r="2.2" fill="#1e0096"/>
<circle cx="111.60" cy="483.50" r="2.2" fill="#1e0096"/>
<circle cx="115.38" cy="483.66" r="2.2" fill="#1e0096"/>
<circle cx="120.42" cy="483.66" r="2.2" fill="#1e0096"/>
<circle cx="124.20" cy="483.66" r="2.2" fill="#1e0096"/>
<circle cx="129.24" cy="483.66" r="2.2" fill="#1e0096"/>
<circle cx="133.02" cy="483.66" r="2.2" fill="#1e0096"/>
<circle cx="138.06" cy="483.66" r="2.2" fill="#1e0096"/>
<circle cx="141.84" cy="483.66" r="2.2" fill="#1e0096"/>
<circle cx="146.88" cy="483.66" r="2.2" fill="#1e0096"/>
<circle cx="150.66" cy="483.66" r="2.2" fill="#1e0096"/>
<circle cx="155.70" cy="483.66" r="2.2" fill="#1e0096"/>
<circle cx="159.48" cy="483.66" r="2.2" fill="#1e0096"/>
<circle cx="164.52" cy="483.66" r="2.2" fill="#1e0096"/>
<circle cx="168.30" cy="483.66" r="2.2" fill="#1e0096"/>
<circle cx="173.34" cy="483.66" r="2.2" fill="#1e0096"/>
<circle cx="177.12" cy="483.66" r="2.2" fill="#1e0096"/>
<circle cx="182.16" cy="483.66" r="2.2" fill="#1e0096"/>
<circle cx="185.94" cy="483.66" r="2.2" fill="#1e0096"/>
<circle cx="190.98" cy="483.58" r="2.2" fill="#1e0096"/>
<circle cx="194.76" cy="483.50" r="2.2" fill="#1e0096"/>
<circle cx="199.80" cy="483.34" r="2.2" fill="#1e0096"/>
<circle cx="203.58" cy="483.17" r="2.2" fill="#1e0096"/>
<circle cx="208.62" cy="483.01" r="2.2" fill="#1e0096"/>
<circle cx="212.40" cy="482.93" r="2.2" fill="#1e0096"/>
<circle cx="217.44" cy="482.85" r="2.2" fill="#1e0096"/>
<circle cx="221.22" cy="482.76" r="2.2" fill="#1e0096"/>
<path d="M80.10,477.00 L85.14,475.97 L88.92,473.77 L93.96,472.78 L97.74,474.71 L102.78,475.69 L106.56,476.59 L111.60,477.12 L115.38,478.43 L120.42,479.25 L124.20,479.66 L129.24,479.86 L133.02,479.86 L138.06,479.66 L143.10,478.02 L146.88,475.81 L151.92,472.09" fill="none" stroke="#0a2ab0" stroke-width="1.5" stroke-linejoin="round"/>
<line x1="80.10" y1="476.18" x2="80.10" y2="477.82" stroke="#0a2ab0" stroke-width="1.0"/>
<line x1="78.30" y1="476.18" x2="81.90" y2="476.18" stroke="#0a2ab0" stroke-width="1.0"/>
<line x1="78.30" y1="477.82" x2="81.90" y2="477.82" stroke="#0a2ab0" stroke-width="1.0"/>
<line x1="85.14" y1="474.34" x2="85.14" y2="477.61" stroke="#0a2ab0" stroke-width="1.0"/>
<line x1="83.34" y1="474.34" x2="86.94" y2="474.34" stroke="#0a2ab0" stroke-width="1.0"/>
<line x1="83.34" y1="477.61" x2="86.94" y2="477.61" stroke="#0a2ab0" stroke-width="1.0"/>
<line x1="88.92" y1="471.52" x2="88.92" y2="476.02" stroke="#0a2ab0" stroke-width="1.0"/>
<line x1="87.12" y1="471.52" x2="90.72" y2="471.52" stroke="#0a2ab0" stroke-width="1.0"/>
<line x1="87.12" y1="476.02" x2="90.72" y2="476.02" stroke="#0a2ab0" stroke-width="1.0"/>
<line x1="93.96" y1="470.13" x2="93.96" y2="475.44" stroke="#0a2ab0" stroke-width="1.0"/>
<line x1="92.16" y1="470.13" x2="95.76" y2="470.13" stroke="#0a2ab0" stroke-width="1.0"/>
<line x1="92.16" y1="475.44" x2="95.76" y2="475.44" stroke="#0a2ab0" stroke-width="1.0"/>
<line x1="97.74" y1="472.05" x2="97.74" y2="477.37" stroke="#0a2ab0" stroke-width="1.0"/>
<line x1="95.94" y1="472.05" x2="99.54" y2="472.05" stroke="#0a2ab0" stroke-width="1.0"/>
<line x1="95.94" y1="477.37" x2="99.54" y2="477.37" stroke="#0a2ab0" stroke-width="1.0"/>
<line x1="102.78" y1="473.15" x2="102.78" y2="478.22" stroke="#0a2ab0" stroke-width="1.0"/>
<line x1="100.98" y1="473.15" x2="104.58" y2="473.15" stroke="#0a2ab0" stroke-width="1.0"/>
<line x1="100.98" y1="478.22" x2="104.58" y2="478.22" stroke="#0a2ab0" stroke-width="1.0"/>
<line x1="106.56" y1="474.13" x2="106.56" y2="479.04" stroke="#0a2ab0" stroke-width="1.0"/>
<line x1="104.76" y1="474.13" x2="108.36" y2="474.13" stroke="#0a2ab0" stroke-width="1.0"/>
<line x1="104.76" y1="479.04" x2="108.36" y2="479.04" stroke="#0a2ab0" stroke-width="1.0"/>
<line x1="111.60" y1="474.67" x2="111.60" y2="479.57" stroke="#0a2ab0" stroke-width="1.0"/>
<line x1="109.80" y1="474.67" x2="113.40" y2="474.67" stroke="#0a2ab0" stroke-width="1.0"/>
<line x1="109.80" y1="479.57" x2="113.40" y2="479.57" stroke="#0a2ab0" stroke-width="1.0"/>
<line x1="115.38" y1="475.97" x2="115.38" y2="480.88" stroke="#0a2ab0" stroke-width="1.0"/>
<line x1="113.58" y1="475.97" x2="117.18" y2="475.97" stroke="#0a2ab0" stroke-width="1.0"/>
<line x1="113.58" y1="480.88" x2="117.18" y2="480.88" stroke="#0a2ab0" stroke-width="1.0"/>
<line x1="120.42" y1="476.79" x2="120.42" y2="481.70" stroke="#0a2ab0" stroke-width="1.0"/>
<line x1="118.62" y1="476.79" x2="122.22" y2="476.79" stroke="#0a2ab0" stroke-width="1.0"/>
<line x1="118.62" y1="481.70" x2="122.22" y2="481.70" stroke="#0a2ab0" stroke-width="1.0"/>
<line x1="124.20" y1="477.20" x2="124.20" y2="482.11" stroke="#0a2ab0" stroke-width="1.0"/>
<line x1="122.40" y1="477.20" x2="126.00" y2="477.20" stroke="#0a2ab0" stroke-width="1.0"/>
<line x1="122.40" y1="482.11" x2="126.00" y2="482.11" stroke="#0a2ab0" stroke-width="1.0"/>
<line x1="129.24" y1="477.41" x2="129.24" y2="482.31" stroke="#0a2ab0" stroke-width="1.0"/>
<line x1="127.44" y1="477.41" x2="131.04" y2="477.41" stroke="#0a2ab0" stroke-width="1.0"/>
<line x1="127.44" y1="482.31" x2="131.04" y2="482.31" stroke="#0a2ab0" stroke-width="1.0"/>
<line x1="133.02" y1="477.41" x2="133.02" y2="482.31" stroke="#0a2ab0" stroke-width="1.0"/>
<line x1="131.22" y1="477.41" x2="134.82" y2="477.41" stroke="#0a2ab0" stroke-width="1.0"/>
<line x1="131.22" y1="482.31" x2="134.82" y2="482.31" stroke="#0a2ab0" stroke-width="1.0"/>
<line x1="138.06" y1="477.12" x2="138.06" y2="482.19" stroke="#0a2ab0" stroke-width="1.0"/>
<line x1="136.26" y1="477.12" x2="139.86" y2="477.12" stroke="#0a2ab0" stroke-width="1.0"/>
<line x1="136.26" y1="482.19" x2="139.86" y2="482.19" stroke="#0a2ab0" stroke-width="1.0"/>
<line x1="143.10" y1="474.75" x2="143.10" y2="481.29" stroke="#0a2ab0" stroke-width="1.0"/>
<line x1="141.30" y1="474.75" x2="144.90" y2="474.75" stroke="#0a2ab0" stroke-width="1.0"/>
<line x1="141.30" y1="481.29" x2="144.90" y2="481.29" stroke="#0a2ab0" stroke-width="1.0"/>
<line x1="146.88" y1="469.68" x2="146.88" y2="481.95" stroke="#0a2ab0" stroke-width="1.0"/>
<line x1="145.08" y1="469.68" x2="148.68" y2="469.68" stroke="#0a2ab0" stroke-width="1.0"/>
<line x1="145.08" y1="481.95" x2="148.68" y2="481.95" stroke="#0a2ab0" stroke-width="1.0"/>
<line x1="151.92" y1="461.05" x2="151.92" y2="483.13" stroke="#0a2ab0" stroke-width="1.0"/>
<line x1="150.12" y1="461.05" x2="153.72" y2="461.05" stroke="#0a2ab0" stroke-width="1.0"/>
<line x1="150.12" y1="483.13" x2="153.72" y2="483.13" stroke="#0a2ab0" stroke-width="1.0"/>
<circle cx="80.10" cy="477.00" r="2.2" fill="#0a2ab0"/>
<circle cx="85.14" cy="475.97" r="2.2" fill="#0a2ab0"/>
<circle cx="88.92" cy="473.77" r="2.2" fill="#0a2ab0"/>
<circle cx="93.96" cy="472.78" r="2.2" fill="#0a2ab0"/>
<circle cx="97.74" cy="474.71" r="2.2" fill="#0a2ab0"/>
<circle cx="102.78" cy="475.69" r="2.2" fill="#0a2ab0"/>
<circle cx="106.56" cy="476.59" r="2.2" fill="#0a2ab0"/>
<circle cx="111.60" cy="477.12" r="2.2" fill="#0a2ab0"/>
<circle cx="115.38" cy="478.43" r="2.2" fill="#0a2ab0"/>
<circle cx="120.42" cy="479.25" r="2.2" fill="#0a2ab0"/>
<circle cx="124.20" cy="479.66" r="2.2" fill="#0a2ab0"/>
<circle cx="129.24" cy="479.86" r="2.2" fill="#0a2ab0"/>
<circle cx="133.02" cy="479.86" r="2.2" fill="#0a2ab0"/>
<circle cx="138.06" cy="479.66" r="2.2" fill="#0a2ab0"/>
<circle cx="143.10" cy="478.02" r="2.2" fill="#0a2ab0"/>
<circle cx="146.88" cy="475.81" r="2.2" fill="#0a2ab0"/>
<circle cx="151.92" cy="472.09" r="2.2" fill="#0a2ab0"/>
<path d="M80.10,477.00 L85.14,471.19 L88.92,466.90 L93.96,457.28 L97.74,447.59" fill="none" stroke="#cc0018" stroke-width="1.5" stroke-linejoin="round"/>
<line x1="80.10" y1="476.18" x2="80.10" y2="477.82" stroke="#cc0018" stroke-width="1.0"/>
<line x1="78.30" y1="476.18" x2="81.90" y2="476.18" stroke="#cc0018" stroke-width="1.0"/>
<line x1="78.30" y1="477.82" x2="81.90" y2="477.82" stroke="#cc0018" stroke-width="1.0"/>
<line x1="85.14" y1="469.14" x2="85.14" y2="473.23" stroke="#cc0018" stroke-width="1.0"/>
<line x1="83.34" y1="469.14" x2="86.94" y2="469.14" stroke="#cc0018" stroke-width="1.0"/>
<line x1="83.34" y1="473.23" x2="86.94" y2="473.23" stroke="#cc0018" stroke-width="1.0"/>
<line x1="88.92" y1="463.83" x2="88.92" y2="469.96" stroke="#cc0018" stroke-width="1.0"/>
<line x1="87.12" y1="463.83" x2="90.72" y2="463.83" stroke="#cc0018" stroke-width="1.0"/>
<line x1="87.12" y1="469.96" x2="90.72" y2="469.96" stroke="#cc0018" stroke-width="1.0"/>
<line x1="93.96" y1="450.41" x2="93.96" y2="464.15" stroke="#cc0018" stroke-width="1.0"/>
<line x1="92.16" y1="450.41" x2="95.76" y2="450.41" stroke="#cc0018" stroke-width="1.0"/>
<line x1="92.16" y1="464.15" x2="95.76" y2="464.15" stroke="#cc0018" stroke-width="1.0"/>
<line x1="97.74" y1="438.31" x2="97.74" y2="456.87" stroke="#cc0018" stroke-width="1.0"/>
<line x1="95.94" y1="438.31" x2="99.54" y2="438.31" stroke="#cc0018" stroke-width="1.0"/>
<line x1="95.94" y1="456.87" x2="99.54" y2="456.87" stroke="#cc0018" stroke-width="1.0"/>
<circle cx="80.10" cy="477.00" r="2.2" fill="#cc0018"/>
<circle cx="85.14" cy="471.19" r="2.2" fill="#cc0018"/>
<circle cx="88.92" cy="466.90" r="2.2" fill="#cc0018"/>
<circle cx="93.96" cy="457.28" r="2.2" fill="#cc0018"/>
<circle cx="97.74" cy="447.59" r="2.2" fill="#cc0018"/>
<path d="M133.5,449 L133.5,464" fill="none" stroke="#33ff00" stroke-width="1.3"/>
<path d="M130.6,459.2 L133.5,465.2 L136.4,459.2" fill="none" stroke="#33ff00" stroke-width="1.3" fill="none"/>
<line x1="240.20" y1="410.60" x2="253.00" y2="410.60" stroke="#cc0018" stroke-width="1.7"/>
<circle cx="246.8" cy="410.6" r="2.2" fill="#cc0018"/>
<text x="256.10" y="413.30" font-size="7.8" textLength="23.90" lengthAdjust="spacingAndGlyphs">Vehicle</text>
<line x1="240.20" y1="424.50" x2="253.00" y2="424.50" stroke="#0a2ab0" stroke-width="1.7"/>
<circle cx="246.8" cy="424.5" r="2.2" fill="#0a2ab0"/>
<text x="256.10" y="427.20" font-size="7.8" textLength="29.40" lengthAdjust="spacingAndGlyphs">Ibrutinib,</text>
<text x="256.10" y="436.70" font-size="7.8" textLength="30.00" lengthAdjust="spacingAndGlyphs">50mg/kg</text>
<line x1="240.20" y1="447.00" x2="253.00" y2="447.00" stroke="#33ff00" stroke-width="1.7"/>
<circle cx="246.8" cy="447.0" r="2.2" fill="#33ff00"/>
<text x="256.10" y="449.70" font-size="7.8" textLength="29.40" lengthAdjust="spacingAndGlyphs">A419259</text>
<text x="256.10" y="459.20" font-size="7.8" textLength="30.00" lengthAdjust="spacingAndGlyphs">50mg/kg</text>
<line x1="240.20" y1="469.20" x2="253.00" y2="469.20" stroke="#1e0096" stroke-width="1.7"/>
<circle cx="246.8" cy="469.2" r="2.2" fill="#1e0096"/>
<text x="256.10" y="471.90" font-size="7.8" textLength="33.10" lengthAdjust="spacingAndGlyphs">KIN-8194,</text>
<text x="256.10" y="481.40" font-size="7.8" textLength="30.00" lengthAdjust="spacingAndGlyphs">50mg/kg</text>
<line x1="351.30" y1="389.60" x2="351.30" y2="522.60" stroke="#000" stroke-width="1.3"/>
<line x1="350.70" y1="522.00" x2="507.40" y2="522.00" stroke="#000" stroke-width="1.3"/>
<line x1="347.90" y1="517.20" x2="351.30" y2="517.20" stroke="#000" stroke-width="1.1"/>
<text x="346.30" y="520.10" font-size="8" text-anchor="end">0</text>
<line x1="347.90" y1="491.84" x2="351.30" y2="491.84" stroke="#000" stroke-width="1.1"/>
<text x="346.30" y="494.74" font-size="8" text-anchor="end">500</text>
<line x1="347.90" y1="466.48" x2="351.30" y2="466.48" stroke="#000" stroke-width="1.1"/>
<text x="346.30" y="469.38" font-size="8" text-anchor="end">1000</text>
<line x1="347.90" y1="441.12" x2="351.30" y2="441.12" stroke="#000" stroke-width="1.1"/>
<text x="346.30" y="444.02" font-size="8" text-anchor="end">1500</text>
<line x1="347.90" y1="415.76" x2="351.30" y2="415.76" stroke="#000" stroke-width="1.1"/>
<text x="346.30" y="418.66" font-size="8" text-anchor="end">2000</text>
<line x1="347.90" y1="390.40" x2="351.30" y2="390.40" stroke="#000" stroke-width="1.1"/>
<text x="346.30" y="393.30" font-size="8" text-anchor="end">2500</text>
<line x1="375.50" y1="522.00" x2="375.50" y2="525.20" stroke="#000" stroke-width="1.1"/>
<text x="375.50" y="535.20" font-size="8" text-anchor="middle">Vehicle</text>
<line x1="411.40" y1="522.00" x2="411.40" y2="525.20" stroke="#000" stroke-width="1.1"/>
<text x="411.40" y="535.20" font-size="8" text-anchor="middle">Ibrutinib</text>
<line x1="447.90" y1="522.00" x2="447.90" y2="525.20" stroke="#000" stroke-width="1.1"/>
<text x="447.90" y="535.20" font-size="8" text-anchor="middle">A419259</text>
<line x1="483.60" y1="522.00" x2="483.60" y2="525.20" stroke="#000" stroke-width="1.1"/>
<text x="483.60" y="535.20" font-size="8" text-anchor="middle">KIN-8194</text>
<text x="0" y="0" font-size="9.2" text-anchor="middle" transform="translate(323.0,455.7) rotate(-90)" textLength="73" lengthAdjust="spacingAndGlyphs">Tumor volume (mm<tspan font-size="6.8" dy="-3.6">3</tspan><tspan dy="3.6">)</tspan></text>
<text x="483.70" y="403.30" font-size="8" text-anchor="middle" font-weight="bold" fill="#1040c4" textLength="26.00" lengthAdjust="spacingAndGlyphs">Day 33</text>
<line x1="394.00" y1="414.60" x2="449.00" y2="414.60" stroke="#000" stroke-width="1.3"/>
<line x1="449.00" y1="414.00" x2="449.00" y2="472.20" stroke="#000" stroke-width="1.3"/>
<line x1="400.20" y1="471.60" x2="496.80" y2="471.60" stroke="#000" stroke-width="1.3"/>
<text x="456.6" y="437.7" font-size="8" textLength="33.2" lengthAdjust="spacingAndGlyphs"><tspan font-style="italic">P</tspan>&lt;0.0001</text>
<path d="M362.00,394.30 C361.83,394.35 361.25,394.20 361.00,394.60 C360.75,395.00 360.50,394.97 360.50,396.70 C360.50,398.43 360.72,402.45 361.00,405.00 C361.28,407.55 361.73,409.73 362.20,412.00 C362.67,414.27 363.28,416.10 363.80,418.60 C364.32,421.10 364.87,424.22 365.30,427.00 C365.73,429.78 366.03,432.63 366.40,435.30 C366.77,437.97 367.17,440.20 367.50,443.00 C367.83,445.80 368.17,449.27 368.40,452.10 C368.63,454.93 368.78,457.20 368.90,460.00 C369.02,462.80 369.06,465.57 369.10,468.90 C369.14,472.23 369.14,476.23 369.15,480.00 C369.16,483.77 369.08,489.43 369.15,491.50 C369.23,493.57 367.53,492.25 369.60,492.40 C371.68,492.55 379.53,492.55 381.60,492.40 C383.68,492.25 381.98,493.57 382.05,491.50 C382.12,489.43 382.04,483.77 382.05,480.00 C382.06,476.23 382.06,472.23 382.10,468.90 C382.14,465.57 382.18,462.80 382.30,460.00 C382.42,457.20 382.57,454.93 382.80,452.10 C383.03,449.27 383.37,445.80 383.70,443.00 C384.03,440.20 384.43,437.97 384.80,435.30 C385.17,432.63 385.47,429.78 385.90,427.00 C386.33,424.22 386.88,421.10 387.40,418.60 C387.92,416.10 388.53,414.27 389.00,412.00 C389.47,409.73 389.92,407.55 390.20,405.00 C390.48,402.45 390.70,398.43 390.70,396.70 C390.70,394.97 390.45,395.00 390.20,394.60 C389.95,394.20 389.37,394.35 389.20,394.30 Z" fill="#a0e8c0" stroke="#18801e" stroke-width="1.1" stroke-linejoin="round"/>
<line x1="375.60" y1="395.00" x2="375.60" y2="492.50" stroke="#2a3a2a" stroke-width="0.8"/>
<rect x="374.10" y="412.70" width="3.00" height="14.30" fill="#000"/>
<circle cx="376.50" cy="394.50" r="1.35" fill="#177a30"/>
<circle cx="375.30" cy="401.30" r="1.35" fill="#177a30"/>
<circle cx="377.20" cy="402.20" r="1.35" fill="#177a30"/>
<circle cx="375.70" cy="404.80" r="1.35" fill="#177a30"/>
<circle cx="376.90" cy="410.20" r="1.35" fill="#177a30"/>
<circle cx="375.50" cy="474.80" r="1.35" fill="#177a30"/>
<circle cx="375.50" cy="492.50" r="1.35" fill="#177a30"/>
<path d="M411.20,493.90 C410.90,494.25 410.17,495.15 409.40,496.00 C408.63,496.85 407.60,498.00 406.60,499.00 C405.60,500.00 404.65,500.70 403.40,502.00 C402.15,503.30 400.27,505.18 399.10,506.80 C397.93,508.42 396.92,510.33 396.40,511.70 C395.88,513.07 395.80,514.15 396.00,515.00 C396.20,515.85 397.08,516.42 397.60,516.80 C398.12,517.18 394.68,517.22 399.10,517.30 C403.52,517.38 419.68,517.38 424.10,517.30 C428.52,517.22 425.08,517.18 425.60,516.80 C426.12,516.42 427.00,515.85 427.20,515.00 C427.40,514.15 427.32,513.07 426.80,511.70 C426.28,510.33 425.27,508.42 424.10,506.80 C422.93,505.18 421.05,503.30 419.80,502.00 C418.55,500.70 417.60,500.00 416.60,499.00 C415.60,498.00 414.57,496.85 413.80,496.00 C413.03,495.15 412.30,494.25 412.00,493.90 Z" fill="#fccf9f" stroke="#f57a14" stroke-width="1.2" stroke-linejoin="round"/>
<line x1="411.60" y1="483.00" x2="411.60" y2="513.00" stroke="#3a2008" stroke-width="0.9"/>
<circle cx="411.6" cy="482.9" r="1.4" fill="#f57a14"/>
<circle cx="408.20" cy="512.00" r="1.2" fill="#f57a14"/>
<circle cx="415.30" cy="511.80" r="1.2" fill="#f57a14"/>
<circle cx="409.60" cy="517.00" r="1.2" fill="#f57a14"/>
<circle cx="414.40" cy="517.40" r="1.2" fill="#f57a14"/>
<circle cx="411.20" cy="518.00" r="1.2" fill="#f57a14"/>
<circle cx="407.60" cy="514.60" r="1.2" fill="#f57a14"/>
<circle cx="416.00" cy="515.00" r="1.2" fill="#f57a14"/>
<rect x="409.80" y="511.30" width="3.60" height="3.60" fill="#000"/>
<path d="M447.60,511.20 C446.90,511.42 445.10,512.10 443.40,512.50 C441.70,512.90 439.28,513.25 437.40,513.60 C435.52,513.95 432.10,514.27 432.10,514.60 C432.10,514.93 435.52,515.23 437.40,515.60 C439.28,515.97 441.70,516.37 443.40,516.80 C445.10,517.23 446.80,517.97 447.60,518.20 C448.40,518.43 447.40,518.43 448.20,518.20 C449.00,517.97 450.70,517.23 452.40,516.80 C454.10,516.37 456.52,515.97 458.40,515.60 C460.28,515.23 463.70,514.93 463.70,514.60 C463.70,514.27 460.28,513.95 458.40,513.60 C456.52,513.25 454.10,512.90 452.40,512.50 C450.70,512.10 448.90,511.42 448.20,511.20 Z" fill="#6a8ee0" stroke="#1440c0" stroke-width="1.1" stroke-linejoin="round"/>
<line x1="437.00" y1="514.60" x2="459.00" y2="514.60" stroke="#1746c8" stroke-width="0.6" stroke-dasharray="1,1"/>
<rect x="446.30" y="513.60" width="3.20" height="2.00" fill="#0a1a60"/>
<path d="M483.30,509.60 C482.68,509.65 481.05,509.67 479.60,509.90 C478.15,510.13 476.10,510.52 474.60,511.00 C473.10,511.48 471.63,512.13 470.60,512.80 C469.57,513.47 468.83,514.33 468.40,515.00 C467.97,515.67 467.88,516.33 468.00,516.80 C468.12,517.27 464.08,517.63 469.10,517.80 C474.12,517.97 493.08,517.97 498.10,517.80 C503.12,517.63 499.08,517.27 499.20,516.80 C499.32,516.33 499.23,515.67 498.80,515.00 C498.37,514.33 497.63,513.47 496.60,512.80 C495.57,512.13 494.10,511.48 492.60,511.00 C491.10,510.52 489.05,510.13 487.60,509.90 C486.15,509.67 484.52,509.65 483.90,509.60 Z" fill="#f08ed0" stroke="#d8103a" stroke-width="1.1" stroke-linejoin="round"/>
<rect x="482.00" y="511.60" width="3.40" height="5.00" fill="#1a0a0a"/>
<circle cx="483.60" cy="509.80" r="1.0" fill="#dd1038"/>
<circle cx="483.60" cy="518.00" r="1.0" fill="#dd1038"/>
<circle cx="487.80" cy="514.40" r="1.0" fill="#dd1038"/>
<circle cx="480.00" cy="514.00" r="1.0" fill="#dd1038"/>
<line x1="321.80" y1="546.80" x2="321.80" y2="601.20" stroke="#000" stroke-width="1.4"/>
<line x1="358.00" y1="546.80" x2="358.00" y2="601.20" stroke="#000" stroke-width="1.4"/>
<line x1="389.00" y1="546.80" x2="389.00" y2="601.20" stroke="#000" stroke-width="1.4"/>
<line x1="425.40" y1="546.80" x2="425.40" y2="601.20" stroke="#000" stroke-width="1.4"/>
<line x1="462.40" y1="546.80" x2="462.40" y2="601.20" stroke="#000" stroke-width="1.4"/>
<line x1="510.60" y1="546.80" x2="510.60" y2="601.20" stroke="#000" stroke-width="1.4"/>
<line x1="321.10" y1="547.50" x2="511.30" y2="547.50" stroke="#000" stroke-width="1.4"/>
<line x1="321.10" y1="570.30" x2="511.30" y2="570.30" stroke="#000" stroke-width="1.4"/>
<line x1="321.10" y1="600.50" x2="511.30" y2="600.50" stroke="#000" stroke-width="1.4"/>
<text x="373.60" y="561.20" font-size="8.4" text-anchor="middle" fill="#d0142e" textLength="25.40" lengthAdjust="spacingAndGlyphs">Vehicle</text>
<text x="407.70" y="556.30" font-size="8.4" text-anchor="middle" fill="#2a58c8" textLength="29.30" lengthAdjust="spacingAndGlyphs">Ibrutinib</text>
<text x="407.40" y="565.90" font-size="8.4" text-anchor="middle" fill="#2a58c8" textLength="32.80" lengthAdjust="spacingAndGlyphs">50mg/kg</text>
<text x="444.20" y="556.30" font-size="8.4" text-anchor="middle" fill="#44ee22" textLength="32.30" lengthAdjust="spacingAndGlyphs">A419259</text>
<text x="444.20" y="565.90" font-size="8.4" text-anchor="middle" fill="#44ee22" textLength="32.30" lengthAdjust="spacingAndGlyphs">50mg/kg</text>
<text x="486.80" y="556.30" font-size="8.4" text-anchor="middle" fill="#4c3cbc" textLength="32.80" lengthAdjust="spacingAndGlyphs">KIN-8194</text>
<text x="486.90" y="565.90" font-size="8.4" text-anchor="middle" fill="#4c3cbc" textLength="31.80" lengthAdjust="spacingAndGlyphs">50mg/kg</text>
<text x="339.90" y="578.20" font-size="8.4" text-anchor="middle" textLength="26.00" lengthAdjust="spacingAndGlyphs">Median</text>
<text x="339.90" y="587.70" font-size="8.4" text-anchor="middle" textLength="26.00" lengthAdjust="spacingAndGlyphs">survival</text>
<text x="339.90" y="596.60" font-size="8.4" text-anchor="middle" textLength="20.60" lengthAdjust="spacingAndGlyphs">(days)</text>
<text x="373.55" y="587.90" font-size="8.4" text-anchor="middle" fill="#d0142e" textLength="8.30" lengthAdjust="spacingAndGlyphs">31</text>
<text x="407.70" y="587.90" font-size="8.4" text-anchor="middle" fill="#2a58c8" textLength="8.80" lengthAdjust="spacingAndGlyphs">90</text>
<text x="443.90" y="588.10" font-size="8.4" text-anchor="middle" fill="#44ee22" textLength="15.20" lengthAdjust="spacingAndGlyphs">94.5</text>
<text x="486.70" y="588.10" font-size="8.4" text-anchor="middle" fill="#4c3cbc" textLength="37.20" lengthAdjust="spacingAndGlyphs">Undefined</text>
<text x="321.6" y="614.8" font-size="8" textLength="133.4" lengthAdjust="spacingAndGlyphs">Log-rank (Mantel-Cox) test, <tspan font-style="italic">P</tspan>&lt;0.0001</text>
<rect x="33.60" y="531.40" width="230.00" height="147.50" fill="none" stroke="#000" stroke-width="1.3"/>
<text x="140.50" y="545.30" font-size="8" text-anchor="middle">Survival proportions</text>
<text x="114.80" y="560.30" font-size="8" text-anchor="middle" fill="#3ef01c" textLength="68.50" lengthAdjust="spacingAndGlyphs">Treatment stopped</text>
<line x1="71.20" y1="563.70" x2="71.20" y2="647.60" stroke="#000" stroke-width="1.3"/>
<line x1="70.60" y1="647.00" x2="210.60" y2="647.00" stroke="#000" stroke-width="1.3"/>
<line x1="67.80" y1="647.00" x2="71.20" y2="647.00" stroke="#000" stroke-width="1.1"/>
<text x="65.20" y="649.90" font-size="8" text-anchor="end">0</text>
<line x1="67.80" y1="628.05" x2="71.20" y2="628.05" stroke="#000" stroke-width="1.1"/>
<text x="65.20" y="630.95" font-size="8" text-anchor="end">25</text>
<line x1="67.80" y1="609.10" x2="71.20" y2="609.10" stroke="#000" stroke-width="1.1"/>
<text x="65.20" y="612.00" font-size="8" text-anchor="end">50</text>
<line x1="67.80" y1="590.15" x2="71.20" y2="590.15" stroke="#000" stroke-width="1.1"/>
<text x="65.20" y="593.05" font-size="8" text-anchor="end">75</text>
<line x1="67.80" y1="571.20" x2="71.20" y2="571.20" stroke="#000" stroke-width="1.1"/>
<text x="65.20" y="574.10" font-size="8" text-anchor="end">100</text>
<line x1="71.20" y1="647.00" x2="71.20" y2="650.20" stroke="#000" stroke-width="1.1"/>
<text x="71.20" y="659.30" font-size="8" text-anchor="middle">0</text>
<line x1="86.69" y1="647.00" x2="86.69" y2="650.20" stroke="#000" stroke-width="1.1"/>
<text x="86.69" y="659.30" font-size="8" text-anchor="middle">14</text>
<line x1="102.18" y1="647.00" x2="102.18" y2="650.20" stroke="#000" stroke-width="1.1"/>
<text x="102.18" y="659.30" font-size="8" text-anchor="middle">28</text>
<line x1="117.67" y1="647.00" x2="117.67" y2="650.20" stroke="#000" stroke-width="1.1"/>
<text x="117.67" y="659.30" font-size="8" text-anchor="middle">42</text>
<line x1="133.16" y1="647.00" x2="133.16" y2="650.20" stroke="#000" stroke-width="1.1"/>
<text x="133.16" y="659.30" font-size="8" text-anchor="middle">56</text>
<line x1="148.66" y1="647.00" x2="148.66" y2="650.20" stroke="#000" stroke-width="1.1"/>
<text x="148.66" y="659.30" font-size="8" text-anchor="middle">70</text>
<line x1="164.15" y1="647.00" x2="164.15" y2="650.20" stroke="#000" stroke-width="1.1"/>
<text x="164.15" y="659.30" font-size="8" text-anchor="middle">84</text>
<line x1="179.64" y1="647.00" x2="179.64" y2="650.20" stroke="#000" stroke-width="1.1"/>
<text x="179.64" y="659.30" font-size="8" text-anchor="middle">98</text>
<line x1="195.13" y1="647.00" x2="195.13" y2="650.20" stroke="#000" stroke-width="1.1"/>
<text x="195.13" y="659.30" font-size="8" text-anchor="middle">112</text>
<line x1="210.62" y1="647.00" x2="210.62" y2="650.20" stroke="#000" stroke-width="1.1"/>
<text x="210.62" y="659.30" font-size="8" text-anchor="middle">126</text>
<text x="140.30" y="672.50" font-size="9" text-anchor="middle" textLength="43.10" lengthAdjust="spacingAndGlyphs">Days elapsed</text>
<text x="0" y="0" font-size="9.2" text-anchor="middle" textLength="51.50" lengthAdjust="spacingAndGlyphs" transform="translate(47.00,601.70) rotate(-90)">Percent survival</text>
<line x1="117.50" y1="563.50" x2="117.50" y2="641.00" stroke="#1fa02a" stroke-width="1.1" stroke-dasharray="3,2"/>
<path d="M114.9,639.2 L117.5,645.0 L120.1,639.2 Z" fill="#1fa02a" stroke="none" stroke-width="1"/>
<path d="M71.20,571.20 L87.58,571.20 L87.58,580.68 L91.78,580.68 L91.78,590.15 L95.32,590.15 L95.32,599.62 L102.74,599.62 L102.74,609.10 L107.16,609.10 L107.16,628.05 L110.81,628.05 L110.81,637.52 L142.02,637.52 L142.02,647.00 L142.02,647.00" fill="none" stroke="#000" stroke-width="1.5" stroke-linejoin="miter"/>
<path d="M71.20,571.20 L133.39,571.20 L133.39,580.68 L161.93,580.68 L161.93,582.95 L162.71,582.95 L162.71,604.40 L171.01,604.40 L171.01,620.92 L197.12,620.92" fill="none" stroke="#0a2aa8" stroke-width="1.5" stroke-linejoin="miter"/>
<path d="M71.20,571.20 L126.30,571.20 L126.30,580.68 L139.80,580.68 L139.80,590.15 L157.51,590.15 L157.51,599.62 L171.01,599.62 L171.01,609.10 L181.30,609.10 L181.30,618.58 L197.12,618.58" fill="none" stroke="#33ff00" stroke-width="1.5" stroke-linejoin="miter"/>
<path d="M71.20,571.20 L177.98,571.20 L177.98,580.68 L185.72,580.68 L185.72,590.15 L197.12,590.15" fill="none" stroke="#cc0018" stroke-width="1.5" stroke-linejoin="miter"/>
<line x1="71.20" y1="571.20" x2="177.98" y2="571.20" stroke="#cc0018" stroke-width="1.6"/>
<line x1="214.90" y1="576.30" x2="222.60" y2="576.30" stroke="#000" stroke-width="1.5"/>
<line x1="218.70" y1="574.70" x2="218.70" y2="576.30" stroke="#000" stroke-width="1.4"/>
<text x="226.10" y="578.90" font-size="7.5" fill="#222" textLength="23.50" lengthAdjust="spacingAndGlyphs" stroke="#222" stroke-width="0.25">Vehicle</text>
<line x1="214.90" y1="588.90" x2="222.60" y2="588.90" stroke="#0a2aa8" stroke-width="1.5"/>
<line x1="218.70" y1="587.30" x2="218.70" y2="588.90" stroke="#0a2aa8" stroke-width="1.4"/>
<text x="226.10" y="591.50" font-size="7.5" fill="#3556c4" textLength="27.80" lengthAdjust="spacingAndGlyphs">Ibrutinib</text>
<line x1="214.90" y1="600.50" x2="222.60" y2="600.50" stroke="#33ff00" stroke-width="1.5"/>
<line x1="218.70" y1="598.90" x2="218.70" y2="600.50" stroke="#33ff00" stroke-width="1.4"/>
<text x="226.10" y="603.10" font-size="7.5" fill="#3cf01e" textLength="29.70" lengthAdjust="spacingAndGlyphs">A419259</text>
<line x1="214.90" y1="612.60" x2="222.60" y2="612.60" stroke="#cc0018" stroke-width="1.5"/>
<line x1="218.70" y1="611.00" x2="218.70" y2="612.60" stroke="#cc0018" stroke-width="1.4"/>
<text x="226.10" y="615.20" font-size="7.5" fill="#d0203e" textLength="31.00" lengthAdjust="spacingAndGlyphs">KIN-8194</text>
<defs><filter id="bl" x="-50%" y="-50%" width="200%" height="200%"><feGaussianBlur stdDeviation="0.4"/></filter><filter id="bl2" x="-50%" y="-50%" width="200%" height="200%"><feGaussianBlur stdDeviation="0.9"/></filter></defs>
<line x1="82.50" y1="33.50" x2="82.50" y2="73.30" stroke="#b8b8b8" stroke-width="0.8"/>
<line x1="39.30" y1="33.50" x2="39.30" y2="73.30" stroke="#444" stroke-width="0.6"/>
<line x1="39.30" y1="73.30" x2="82.50" y2="73.30" stroke="#444" stroke-width="0.8"/>
<line x1="38.00" y1="70.70" x2="39.30" y2="70.70" stroke="#444" stroke-width="0.5"/>
<text x="37.50" y="71.60" font-size="2.4" fill="#6a6a6a" text-anchor="end">-10²</text>
<line x1="38.00" y1="64.70" x2="39.30" y2="64.70" stroke="#444" stroke-width="0.5"/>
<text x="37.50" y="65.60" font-size="2.4" fill="#6a6a6a" text-anchor="end">0</text>
<line x1="38.00" y1="57.70" x2="39.30" y2="57.70" stroke="#444" stroke-width="0.5"/>
<text x="37.50" y="58.60" font-size="2.4" fill="#6a6a6a" text-anchor="end">10²</text>
<line x1="38.00" y1="47.30" x2="39.30" y2="47.30" stroke="#444" stroke-width="0.5"/>
<text x="37.50" y="48.20" font-size="2.4" fill="#6a6a6a" text-anchor="end">10³</text>
<line x1="38.00" y1="37.80" x2="39.30" y2="37.80" stroke="#444" stroke-width="0.5"/>
<text x="37.50" y="38.70" font-size="2.4" fill="#6a6a6a" text-anchor="end">10⁴</text>
<line x1="40.16" y1="73.30" x2="40.16" y2="74.50" stroke="#444" stroke-width="0.5"/>
<text x="40.16" y="76.90" font-size="2.3" fill="#6a6a6a" text-anchor="middle">10</text>
<line x1="48.80" y1="73.30" x2="48.80" y2="74.50" stroke="#444" stroke-width="0.5"/>
<text x="48.80" y="76.90" font-size="2.3" fill="#6a6a6a" text-anchor="middle">10</text>
<line x1="57.44" y1="73.30" x2="57.44" y2="74.50" stroke="#444" stroke-width="0.5"/>
<text x="57.44" y="76.90" font-size="2.3" fill="#6a6a6a" text-anchor="middle">10</text>
<line x1="66.08" y1="73.30" x2="66.08" y2="74.50" stroke="#444" stroke-width="0.5"/>
<text x="66.08" y="76.90" font-size="2.3" fill="#6a6a6a" text-anchor="middle">10</text>
<line x1="74.72" y1="73.30" x2="74.72" y2="74.50" stroke="#444" stroke-width="0.5"/>
<text x="74.72" y="76.90" font-size="2.3" fill="#6a6a6a" text-anchor="middle">10</text>
<line x1="81.64" y1="73.30" x2="81.64" y2="74.50" stroke="#444" stroke-width="0.5"/>
<text x="81.64" y="76.90" font-size="2.3" fill="#6a6a6a" text-anchor="middle">10</text>
<text x="0" y="0" font-size="2.6" fill="#888" text-anchor="middle" transform="translate(31.80,53.40) rotate(-90)">SSC-A</text>
<rect x="39.10" y="63.10" width="1.20" height="2.40" fill="#222"/>
<g fill="#4f6fff" fill-opacity="0.50"><circle cx="51.0" cy="47.6" r="0.42"/><circle cx="45.3" cy="43.9" r="0.42"/><circle cx="47.4" cy="44.5" r="0.42"/><circle cx="42.3" cy="61.8" r="0.42"/><circle cx="57.7" cy="45.8" r="0.42"/><circle cx="81.2" cy="36.3" r="0.42"/><circle cx="52.9" cy="49.1" r="0.42"/><circle cx="50.1" cy="45.3" r="0.42"/><circle cx="49.6" cy="45.2" r="0.42"/><circle cx="74.7" cy="38.4" r="0.42"/><circle cx="47.2" cy="44.2" r="0.42"/><circle cx="49.6" cy="48.3" r="0.42"/><circle cx="41.7" cy="56.3" r="0.42"/><circle cx="49.7" cy="40.6" r="0.42"/><circle cx="44.8" cy="43.1" r="0.42"/><circle cx="54.7" cy="42.6" r="0.42"/><circle cx="59.0" cy="46.3" r="0.42"/><circle cx="64.5" cy="41.3" r="0.42"/><circle cx="77.4" cy="38.7" r="0.42"/><circle cx="44.9" cy="49.1" r="0.42"/><circle cx="73.5" cy="36.7" r="0.42"/><circle cx="57.8" cy="41.1" r="0.42"/><circle cx="49.1" cy="43.4" r="0.42"/><circle cx="48.3" cy="45.5" r="0.42"/><circle cx="43.7" cy="52.3" r="0.42"/><circle cx="48.8" cy="45.2" r="0.42"/><circle cx="64.0" cy="42.2" r="0.42"/><circle cx="43.3" cy="47.8" r="0.42"/><circle cx="44.5" cy="45.5" r="0.42"/><circle cx="59.4" cy="40.3" r="0.42"/><circle cx="45.7" cy="45.7" r="0.42"/><circle cx="58.0" cy="44.2" r="0.42"/><circle cx="48.6" cy="46.4" r="0.42"/><circle cx="44.0" cy="52.4" r="0.42"/><circle cx="40.7" cy="54.8" r="0.42"/><circle cx="72.1" cy="38.1" r="0.42"/><circle cx="45.1" cy="48.2" r="0.42"/><circle cx="50.1" cy="45.3" r="0.42"/><circle cx="40.7" cy="60.3" r="0.42"/><circle cx="47.4" cy="44.9" r="0.42"/><circle cx="50.1" cy="44.6" r="0.42"/><circle cx="48.3" cy="46.5" r="0.42"/><circle cx="50.1" cy="47.0" r="0.42"/><circle cx="45.2" cy="44.5" r="0.42"/><circle cx="51.3" cy="48.1" r="0.42"/><circle cx="62.0" cy="41.9" r="0.42"/><circle cx="49.1" cy="46.4" r="0.42"/><circle cx="50.1" cy="45.2" r="0.42"/><circle cx="46.6" cy="47.5" r="0.42"/><circle cx="47.1" cy="43.9" r="0.42"/><circle cx="45.9" cy="46.9" r="0.42"/><circle cx="44.6" cy="43.4" r="0.42"/><circle cx="72.5" cy="40.6" r="0.42"/><circle cx="68.2" cy="41.3" r="0.42"/><circle cx="64.2" cy="47.2" r="0.42"/><circle cx="48.0" cy="44.5" r="0.42"/><circle cx="42.2" cy="56.5" r="0.42"/><circle cx="48.4" cy="44.3" r="0.42"/><circle cx="62.9" cy="39.3" r="0.42"/><circle cx="59.0" cy="46.8" r="0.42"/><circle cx="47.4" cy="44.7" r="0.42"/><circle cx="50.4" cy="40.5" r="0.42"/><circle cx="47.7" cy="41.1" r="0.42"/><circle cx="56.1" cy="47.6" r="0.42"/><circle cx="58.9" cy="45.4" r="0.42"/><circle cx="40.4" cy="59.5" r="0.42"/><circle cx="50.8" cy="47.0" r="0.42"/><circle cx="45.7" cy="46.1" r="0.42"/><circle cx="46.4" cy="47.8" r="0.42"/><circle cx="64.0" cy="47.3" r="0.42"/><circle cx="62.6" cy="43.4" r="0.42"/><circle cx="41.0" cy="63.3" r="0.42"/><circle cx="72.4" cy="40.2" r="0.42"/><circle cx="45.9" cy="46.6" r="0.42"/><circle cx="56.1" cy="46.4" r="0.42"/><circle cx="48.6" cy="47.9" r="0.42"/><circle cx="46.8" cy="45.2" r="0.42"/><circle cx="51.8" cy="46.7" r="0.42"/><circle cx="80.3" cy="34.8" r="0.42"/><circle cx="44.8" cy="53.0" r="0.42"/><circle cx="42.0" cy="61.3" r="0.42"/><circle cx="48.4" cy="40.4" r="0.42"/><circle cx="43.0" cy="55.2" r="0.42"/><circle cx="54.5" cy="47.0" r="0.42"/><circle cx="50.8" cy="43.7" r="0.42"/><circle cx="45.6" cy="52.9" r="0.42"/><circle cx="42.0" cy="50.5" r="0.42"/><circle cx="70.8" cy="40.2" r="0.42"/><circle cx="44.9" cy="53.5" r="0.42"/><circle cx="58.8" cy="43.9" r="0.42"/><circle cx="46.1" cy="45.7" r="0.42"/><circle cx="47.1" cy="44.9" r="0.42"/><circle cx="52.6" cy="46.2" r="0.42"/><circle cx="57.5" cy="43.8" r="0.42"/><circle cx="75.2" cy="41.3" r="0.42"/><circle cx="63.3" cy="45.7" r="0.42"/><circle cx="46.0" cy="56.3" r="0.42"/><circle cx="47.9" cy="41.7" r="0.42"/><circle cx="49.9" cy="45.3" r="0.42"/><circle cx="61.7" cy="43.7" r="0.42"/><circle cx="44.2" cy="54.9" r="0.42"/><circle cx="72.1" cy="44.2" r="0.42"/><circle cx="60.9" cy="45.7" r="0.42"/><circle cx="48.0" cy="48.9" r="0.42"/><circle cx="49.7" cy="46.4" r="0.42"/><circle cx="59.0" cy="45.4" r="0.42"/><circle cx="46.1" cy="47.5" r="0.42"/><circle cx="63.2" cy="41.0" r="0.42"/><circle cx="47.0" cy="42.0" r="0.42"/><circle cx="52.5" cy="43.1" r="0.42"/><circle cx="63.7" cy="47.0" r="0.42"/><circle cx="50.6" cy="42.3" r="0.42"/><circle cx="41.4" cy="42.6" r="0.42"/><circle cx="51.0" cy="46.8" r="0.42"/><circle cx="49.8" cy="45.5" r="0.42"/><circle cx="49.1" cy="46.6" r="0.42"/><circle cx="48.5" cy="42.4" r="0.42"/><circle cx="41.9" cy="59.5" r="0.42"/><circle cx="53.5" cy="44.9" r="0.42"/><circle cx="39.7" cy="59.5" r="0.42"/><circle cx="49.7" cy="42.0" r="0.42"/><circle cx="44.3" cy="49.0" r="0.42"/><circle cx="81.9" cy="35.9" r="0.42"/><circle cx="74.7" cy="41.8" r="0.42"/><circle cx="43.3" cy="56.6" r="0.42"/><circle cx="48.2" cy="42.5" r="0.42"/><circle cx="53.6" cy="47.0" r="0.42"/><circle cx="53.3" cy="42.9" r="0.42"/><circle cx="47.4" cy="47.3" r="0.42"/><circle cx="45.9" cy="45.2" r="0.42"/><circle cx="61.4" cy="44.1" r="0.42"/><circle cx="51.0" cy="44.0" r="0.42"/><circle cx="51.4" cy="44.5" r="0.42"/><circle cx="44.0" cy="55.1" r="0.42"/><circle cx="48.2" cy="45.6" r="0.42"/><circle cx="42.2" cy="61.7" r="0.42"/><circle cx="44.9" cy="42.9" r="0.42"/><circle cx="75.1" cy="38.5" r="0.42"/><circle cx="40.7" cy="57.4" r="0.42"/><circle cx="74.8" cy="39.2" r="0.42"/><circle cx="51.7" cy="39.8" r="0.42"/><circle cx="76.7" cy="39.2" r="0.42"/><circle cx="43.1" cy="54.8" r="0.42"/><circle cx="47.4" cy="40.2" r="0.42"/><circle cx="75.9" cy="37.3" r="0.42"/><circle cx="50.0" cy="44.8" r="0.42"/><circle cx="53.1" cy="47.5" r="0.42"/><circle cx="43.2" cy="50.3" r="0.42"/><circle cx="41.6" cy="60.3" r="0.42"/><circle cx="43.6" cy="52.8" r="0.42"/><circle cx="66.6" cy="42.4" r="0.42"/><circle cx="65.6" cy="42.0" r="0.42"/><circle cx="81.8" cy="36.1" r="0.42"/><circle cx="44.6" cy="50.9" r="0.42"/><circle cx="62.9" cy="39.9" r="0.42"/><circle cx="48.2" cy="48.8" r="0.42"/><circle cx="47.8" cy="44.3" r="0.42"/><circle cx="47.7" cy="48.4" r="0.42"/><circle cx="75.5" cy="38.6" r="0.42"/><circle cx="44.6" cy="56.2" r="0.42"/><circle cx="52.9" cy="50.5" r="0.42"/><circle cx="47.3" cy="39.8" r="0.42"/><circle cx="57.6" cy="42.8" r="0.42"/><circle cx="49.1" cy="46.2" r="0.42"/><circle cx="64.3" cy="41.4" r="0.42"/><circle cx="47.1" cy="47.7" r="0.42"/><circle cx="45.3" cy="46.4" r="0.42"/><circle cx="54.1" cy="44.6" r="0.42"/><circle cx="44.8" cy="44.6" r="0.42"/><circle cx="50.2" cy="46.3" r="0.42"/><circle cx="48.4" cy="44.4" r="0.42"/><circle cx="78.9" cy="41.0" r="0.42"/><circle cx="80.2" cy="40.5" r="0.42"/><circle cx="46.1" cy="46.4" r="0.42"/><circle cx="51.2" cy="43.4" r="0.42"/><circle cx="42.9" cy="57.8" r="0.42"/><circle cx="52.6" cy="50.1" r="0.42"/><circle cx="47.9" cy="47.6" r="0.42"/><circle cx="42.7" cy="49.1" r="0.42"/><circle cx="57.9" cy="41.5" r="0.42"/><circle cx="61.1" cy="43.5" r="0.42"/><circle cx="62.3" cy="42.1" r="0.42"/><circle cx="74.8" cy="37.5" r="0.42"/><circle cx="55.3" cy="46.3" r="0.42"/><circle cx="45.4" cy="44.9" r="0.42"/><circle cx="47.7" cy="37.4" r="0.42"/><circle cx="46.8" cy="42.7" r="0.42"/><circle cx="43.4" cy="56.2" r="0.42"/><circle cx="51.4" cy="42.8" r="0.42"/><circle cx="57.2" cy="39.6" r="0.42"/><circle cx="42.0" cy="60.4" r="0.42"/><circle cx="50.3" cy="45.5" r="0.42"/><circle cx="42.2" cy="42.2" r="0.42"/><circle cx="70.0" cy="38.8" r="0.42"/><circle cx="50.3" cy="44.0" r="0.42"/><circle cx="49.3" cy="45.8" r="0.42"/><circle cx="44.1" cy="52.1" r="0.42"/><circle cx="46.6" cy="44.5" r="0.42"/><circle cx="46.9" cy="47.5" r="0.42"/><circle cx="43.0" cy="48.5" r="0.42"/><circle cx="56.8" cy="41.5" r="0.42"/><circle cx="49.0" cy="39.9" r="0.42"/><circle cx="62.4" cy="48.6" r="0.42"/><circle cx="41.5" cy="45.7" r="0.42"/><circle cx="44.9" cy="52.5" r="0.42"/><circle cx="77.4" cy="37.8" r="0.42"/><circle cx="45.6" cy="53.4" r="0.42"/><circle cx="52.3" cy="42.7" r="0.42"/><circle cx="50.0" cy="45.9" r="0.42"/><circle cx="76.0" cy="39.5" r="0.42"/><circle cx="44.3" cy="51.7" r="0.42"/><circle cx="61.5" cy="43.2" r="0.42"/><circle cx="40.5" cy="46.1" r="0.42"/><circle cx="79.9" cy="36.9" r="0.42"/><circle cx="48.7" cy="48.4" r="0.42"/><circle cx="47.1" cy="47.5" r="0.42"/><circle cx="70.1" cy="40.7" r="0.42"/><circle cx="44.7" cy="39.4" r="0.42"/><circle cx="51.1" cy="45.0" r="0.42"/><circle cx="45.1" cy="52.7" r="0.42"/><circle cx="71.9" cy="41.2" r="0.42"/><circle cx="56.4" cy="45.3" r="0.42"/><circle cx="46.2" cy="44.6" r="0.42"/><circle cx="51.0" cy="43.1" r="0.42"/><circle cx="48.4" cy="41.2" r="0.42"/><circle cx="58.9" cy="46.1" r="0.42"/><circle cx="50.8" cy="45.9" r="0.42"/><circle cx="48.0" cy="46.9" r="0.42"/><circle cx="57.0" cy="47.5" r="0.42"/><circle cx="49.8" cy="46.5" r="0.42"/><circle cx="47.1" cy="48.5" r="0.42"/><circle cx="46.2" cy="43.2" r="0.42"/><circle cx="45.6" cy="43.7" r="0.42"/><circle cx="50.0" cy="44.0" r="0.42"/><circle cx="59.8" cy="49.0" r="0.42"/><circle cx="54.1" cy="41.5" r="0.42"/><circle cx="62.5" cy="43.9" r="0.42"/><circle cx="43.1" cy="56.7" r="0.42"/><circle cx="47.3" cy="45.0" r="0.42"/><circle cx="45.0" cy="48.5" r="0.42"/><circle cx="47.4" cy="49.9" r="0.42"/><circle cx="51.1" cy="44.4" r="0.42"/><circle cx="41.5" cy="43.6" r="0.42"/><circle cx="66.8" cy="45.2" r="0.42"/><circle cx="67.9" cy="40.9" r="0.42"/><circle cx="80.5" cy="38.1" r="0.42"/><circle cx="81.1" cy="38.9" r="0.42"/><circle cx="46.0" cy="47.2" r="0.42"/><circle cx="47.4" cy="41.8" r="0.42"/><circle cx="57.7" cy="46.4" r="0.42"/><circle cx="78.6" cy="41.0" r="0.42"/><circle cx="74.1" cy="38.8" r="0.42"/><circle cx="50.8" cy="44.7" r="0.42"/><circle cx="47.0" cy="44.5" r="0.42"/><circle cx="45.9" cy="47.7" r="0.42"/><circle cx="49.2" cy="49.8" r="0.42"/><circle cx="53.9" cy="44.5" r="0.42"/><circle cx="49.6" cy="40.4" r="0.42"/><circle cx="42.3" cy="56.9" r="0.42"/><circle cx="77.0" cy="39.9" r="0.42"/><circle cx="53.9" cy="43.6" r="0.42"/><circle cx="53.4" cy="47.6" r="0.42"/><circle cx="48.1" cy="42.8" r="0.42"/><circle cx="48.4" cy="46.0" r="0.42"/><circle cx="51.3" cy="43.6" r="0.42"/><circle cx="45.3" cy="45.4" r="0.42"/><circle cx="46.4" cy="38.6" r="0.42"/><circle cx="42.5" cy="45.3" r="0.42"/><circle cx="56.4" cy="44.2" r="0.42"/><circle cx="49.8" cy="45.6" r="0.42"/><circle cx="45.2" cy="41.8" r="0.42"/><circle cx="50.6" cy="42.4" r="0.42"/><circle cx="49.6" cy="38.3" r="0.42"/><circle cx="44.6" cy="42.4" r="0.42"/><circle cx="47.1" cy="45.6" r="0.42"/><circle cx="48.2" cy="48.0" r="0.42"/><circle cx="65.6" cy="42.9" r="0.42"/><circle cx="65.2" cy="41.7" r="0.42"/><circle cx="49.9" cy="48.9" r="0.42"/><circle cx="42.2" cy="61.9" r="0.42"/><circle cx="44.8" cy="51.8" r="0.42"/><circle cx="69.9" cy="40.2" r="0.42"/><circle cx="59.4" cy="43.4" r="0.42"/><circle cx="52.1" cy="40.0" r="0.42"/><circle cx="60.2" cy="43.6" r="0.42"/><circle cx="65.6" cy="42.3" r="0.42"/><circle cx="51.0" cy="42.9" r="0.42"/><circle cx="46.6" cy="47.4" r="0.42"/><circle cx="43.2" cy="59.7" r="0.42"/><circle cx="80.4" cy="39.8" r="0.42"/><circle cx="50.7" cy="43.0" r="0.42"/><circle cx="48.2" cy="38.6" r="0.42"/><circle cx="47.3" cy="39.8" r="0.42"/><circle cx="55.7" cy="45.0" r="0.42"/><circle cx="57.7" cy="47.3" r="0.42"/><circle cx="47.7" cy="46.8" r="0.42"/><circle cx="53.0" cy="41.3" r="0.42"/><circle cx="44.2" cy="44.9" r="0.42"/><circle cx="44.6" cy="48.3" r="0.42"/><circle cx="46.5" cy="42.0" r="0.42"/><circle cx="42.4" cy="60.2" r="0.42"/><circle cx="63.2" cy="47.6" r="0.42"/><circle cx="62.1" cy="42.8" r="0.42"/><circle cx="60.2" cy="46.8" r="0.42"/><circle cx="43.9" cy="52.8" r="0.42"/><circle cx="70.2" cy="39.4" r="0.42"/><circle cx="40.3" cy="60.9" r="0.42"/><circle cx="45.8" cy="44.9" r="0.42"/><circle cx="40.3" cy="58.7" r="0.42"/><circle cx="48.6" cy="43.5" r="0.42"/><circle cx="43.8" cy="55.3" r="0.42"/><circle cx="49.5" cy="44.0" r="0.42"/><circle cx="39.6" cy="60.2" r="0.42"/><circle cx="55.1" cy="47.7" r="0.42"/><circle cx="62.6" cy="44.1" r="0.42"/><circle cx="42.5" cy="47.5" r="0.42"/><circle cx="54.5" cy="45.8" r="0.42"/><circle cx="53.7" cy="45.4" r="0.42"/><circle cx="47.8" cy="44.6" r="0.42"/><circle cx="52.3" cy="43.9" r="0.42"/><circle cx="54.1" cy="38.7" r="0.42"/><circle cx="48.2" cy="44.3" r="0.42"/><circle cx="52.1" cy="46.1" r="0.42"/><circle cx="48.8" cy="48.1" r="0.42"/><circle cx="52.3" cy="46.7" r="0.42"/><circle cx="53.2" cy="40.9" r="0.42"/><circle cx="47.4" cy="46.8" r="0.42"/><circle cx="79.8" cy="36.6" r="0.42"/><circle cx="52.8" cy="44.3" r="0.42"/><circle cx="44.8" cy="52.4" r="0.42"/></g>
<g transform="translate(55.20,44.60) rotate(-15)" filter="url(#bl)"><ellipse cx="0" cy="0" rx="7.20" ry="2.60" fill="#4a66ff"/><ellipse cx="0" cy="0" rx="6.19" ry="2.24" fill="#22c0e8"/><ellipse cx="0" cy="0" rx="5.18" ry="1.87" fill="#3ee03a"/><ellipse cx="0" cy="0" rx="3.46" ry="1.25" fill="#c8e830"/><ellipse cx="0" cy="0" rx="2.30" ry="0.83" fill="#ff9a1a"/><ellipse cx="0" cy="0" rx="1.01" ry="0.36" fill="#f04a10"/></g>
<ellipse cx="56.30" cy="43.50" rx="6.7" ry="3.0" transform="rotate(-15 56.30 43.50)" fill="none" stroke="#222" stroke-width="0.7"/>
<text x="64.20" y="52.50" font-size="2.4" fill="#666" text-anchor="middle">CD45</text>
<text x="64.20" y="55.30" font-size="2.4" fill="#666" text-anchor="middle">0.1</text>
<line x1="337.20" y1="33.50" x2="337.20" y2="73.30" stroke="#b8b8b8" stroke-width="0.8"/>
<line x1="293.60" y1="33.50" x2="293.60" y2="73.30" stroke="#444" stroke-width="0.6"/>
<line x1="293.60" y1="73.30" x2="337.20" y2="73.30" stroke="#444" stroke-width="0.8"/>
<line x1="292.30" y1="70.70" x2="293.60" y2="70.70" stroke="#444" stroke-width="0.5"/>
<text x="291.80" y="71.60" font-size="2.4" fill="#6a6a6a" text-anchor="end">-10²</text>
<line x1="292.30" y1="64.70" x2="293.60" y2="64.70" stroke="#444" stroke-width="0.5"/>
<text x="291.80" y="65.60" font-size="2.4" fill="#6a6a6a" text-anchor="end">0</text>
<line x1="292.30" y1="57.70" x2="293.60" y2="57.70" stroke="#444" stroke-width="0.5"/>
<text x="291.80" y="58.60" font-size="2.4" fill="#6a6a6a" text-anchor="end">10²</text>
<line x1="292.30" y1="47.30" x2="293.60" y2="47.30" stroke="#444" stroke-width="0.5"/>
<text x="291.80" y="48.20" font-size="2.4" fill="#6a6a6a" text-anchor="end">10³</text>
<line x1="292.30" y1="37.80" x2="293.60" y2="37.80" stroke="#444" stroke-width="0.5"/>
<text x="291.80" y="38.70" font-size="2.4" fill="#6a6a6a" text-anchor="end">10⁴</text>
<line x1="294.47" y1="73.30" x2="294.47" y2="74.50" stroke="#444" stroke-width="0.5"/>
<text x="294.47" y="76.90" font-size="2.3" fill="#6a6a6a" text-anchor="middle">10</text>
<line x1="303.19" y1="73.30" x2="303.19" y2="74.50" stroke="#444" stroke-width="0.5"/>
<text x="303.19" y="76.90" font-size="2.3" fill="#6a6a6a" text-anchor="middle">10</text>
<line x1="311.91" y1="73.30" x2="311.91" y2="74.50" stroke="#444" stroke-width="0.5"/>
<text x="311.91" y="76.90" font-size="2.3" fill="#6a6a6a" text-anchor="middle">10</text>
<line x1="320.63" y1="73.30" x2="320.63" y2="74.50" stroke="#444" stroke-width="0.5"/>
<text x="320.63" y="76.90" font-size="2.3" fill="#6a6a6a" text-anchor="middle">10</text>
<line x1="329.35" y1="73.30" x2="329.35" y2="74.50" stroke="#444" stroke-width="0.5"/>
<text x="329.35" y="76.90" font-size="2.3" fill="#6a6a6a" text-anchor="middle">10</text>
<line x1="336.33" y1="73.30" x2="336.33" y2="74.50" stroke="#444" stroke-width="0.5"/>
<text x="336.33" y="76.90" font-size="2.3" fill="#6a6a6a" text-anchor="middle">10</text>
<text x="0" y="0" font-size="2.6" fill="#888" text-anchor="middle" transform="translate(286.10,53.40) rotate(-90)">SSC-A</text>
<rect x="293.40" y="63.10" width="1.20" height="2.40" fill="#222"/>
<g fill="#4f6fff" fill-opacity="0.50"><circle cx="297.3" cy="54.9" r="0.42"/><circle cx="302.6" cy="43.7" r="0.42"/><circle cx="309.4" cy="48.2" r="0.42"/><circle cx="303.3" cy="43.0" r="0.42"/><circle cx="303.4" cy="44.5" r="0.42"/><circle cx="300.1" cy="42.7" r="0.42"/><circle cx="300.4" cy="47.7" r="0.42"/><circle cx="316.1" cy="43.9" r="0.42"/><circle cx="302.6" cy="43.3" r="0.42"/><circle cx="328.0" cy="40.4" r="0.42"/><circle cx="300.0" cy="42.4" r="0.42"/><circle cx="304.8" cy="43.7" r="0.42"/><circle cx="306.4" cy="46.6" r="0.42"/><circle cx="310.6" cy="42.4" r="0.42"/><circle cx="307.2" cy="44.8" r="0.42"/><circle cx="296.5" cy="55.3" r="0.42"/><circle cx="309.2" cy="43.0" r="0.42"/><circle cx="315.5" cy="45.6" r="0.42"/><circle cx="298.2" cy="59.0" r="0.42"/><circle cx="295.4" cy="42.6" r="0.42"/><circle cx="304.0" cy="47.9" r="0.42"/><circle cx="298.8" cy="50.7" r="0.42"/><circle cx="302.3" cy="45.3" r="0.42"/><circle cx="311.2" cy="41.1" r="0.42"/><circle cx="305.6" cy="40.9" r="0.42"/><circle cx="298.4" cy="49.9" r="0.42"/><circle cx="302.7" cy="45.2" r="0.42"/><circle cx="302.6" cy="40.5" r="0.42"/><circle cx="308.7" cy="43.0" r="0.42"/><circle cx="297.9" cy="53.5" r="0.42"/><circle cx="297.4" cy="39.3" r="0.42"/><circle cx="303.0" cy="44.2" r="0.42"/><circle cx="303.1" cy="48.8" r="0.42"/><circle cx="309.5" cy="42.7" r="0.42"/><circle cx="307.8" cy="46.4" r="0.42"/><circle cx="304.4" cy="42.1" r="0.42"/><circle cx="336.2" cy="34.6" r="0.42"/><circle cx="333.6" cy="38.8" r="0.42"/><circle cx="298.2" cy="49.5" r="0.42"/><circle cx="301.7" cy="43.8" r="0.42"/><circle cx="310.3" cy="45.2" r="0.42"/><circle cx="305.3" cy="43.5" r="0.42"/><circle cx="303.5" cy="44.6" r="0.42"/><circle cx="328.9" cy="38.5" r="0.42"/><circle cx="297.7" cy="42.4" r="0.42"/><circle cx="307.0" cy="46.9" r="0.42"/><circle cx="296.5" cy="48.4" r="0.42"/><circle cx="301.4" cy="46.1" r="0.42"/><circle cx="304.0" cy="49.4" r="0.42"/><circle cx="311.7" cy="41.8" r="0.42"/><circle cx="321.6" cy="38.8" r="0.42"/><circle cx="307.0" cy="47.0" r="0.42"/><circle cx="301.2" cy="47.0" r="0.42"/><circle cx="302.5" cy="46.6" r="0.42"/><circle cx="323.3" cy="38.9" r="0.42"/><circle cx="302.0" cy="47.6" r="0.42"/><circle cx="297.4" cy="55.0" r="0.42"/><circle cx="326.9" cy="38.3" r="0.42"/><circle cx="303.5" cy="43.6" r="0.42"/><circle cx="309.7" cy="44.9" r="0.42"/><circle cx="303.3" cy="37.3" r="0.42"/><circle cx="298.9" cy="44.7" r="0.42"/><circle cx="311.9" cy="47.4" r="0.42"/><circle cx="303.8" cy="42.7" r="0.42"/><circle cx="308.9" cy="46.4" r="0.42"/><circle cx="326.1" cy="41.8" r="0.42"/><circle cx="305.5" cy="45.4" r="0.42"/><circle cx="302.1" cy="43.2" r="0.42"/><circle cx="296.7" cy="56.0" r="0.42"/><circle cx="308.3" cy="46.4" r="0.42"/><circle cx="302.9" cy="47.0" r="0.42"/><circle cx="300.4" cy="45.9" r="0.42"/><circle cx="297.6" cy="53.3" r="0.42"/><circle cx="322.9" cy="38.1" r="0.42"/><circle cx="306.1" cy="48.6" r="0.42"/><circle cx="331.2" cy="39.6" r="0.42"/><circle cx="327.8" cy="41.1" r="0.42"/><circle cx="296.1" cy="45.8" r="0.42"/><circle cx="303.6" cy="46.6" r="0.42"/><circle cx="333.3" cy="38.8" r="0.42"/><circle cx="304.1" cy="43.0" r="0.42"/><circle cx="306.0" cy="43.7" r="0.42"/><circle cx="312.5" cy="44.7" r="0.42"/><circle cx="307.3" cy="46.7" r="0.42"/><circle cx="312.5" cy="45.9" r="0.42"/><circle cx="294.8" cy="58.6" r="0.42"/><circle cx="301.4" cy="44.0" r="0.42"/><circle cx="299.5" cy="48.4" r="0.42"/><circle cx="325.3" cy="38.4" r="0.42"/><circle cx="300.0" cy="42.9" r="0.42"/><circle cx="334.7" cy="36.1" r="0.42"/><circle cx="324.4" cy="41.3" r="0.42"/><circle cx="301.5" cy="39.2" r="0.42"/><circle cx="330.3" cy="40.4" r="0.42"/><circle cx="325.1" cy="38.3" r="0.42"/><circle cx="301.6" cy="43.6" r="0.42"/><circle cx="299.0" cy="47.4" r="0.42"/><circle cx="299.5" cy="45.8" r="0.42"/><circle cx="324.2" cy="38.8" r="0.42"/><circle cx="296.0" cy="42.0" r="0.42"/><circle cx="296.4" cy="54.3" r="0.42"/><circle cx="296.2" cy="60.1" r="0.42"/><circle cx="293.6" cy="59.2" r="0.42"/><circle cx="326.4" cy="39.0" r="0.42"/><circle cx="333.0" cy="36.7" r="0.42"/><circle cx="308.9" cy="45.7" r="0.42"/><circle cx="300.7" cy="51.8" r="0.42"/><circle cx="309.0" cy="46.5" r="0.42"/><circle cx="295.7" cy="61.0" r="0.42"/><circle cx="323.0" cy="41.6" r="0.42"/><circle cx="303.4" cy="48.7" r="0.42"/><circle cx="306.1" cy="44.5" r="0.42"/><circle cx="306.9" cy="45.8" r="0.42"/><circle cx="303.6" cy="39.8" r="0.42"/><circle cx="325.5" cy="39.1" r="0.42"/><circle cx="308.2" cy="42.7" r="0.42"/><circle cx="315.3" cy="45.9" r="0.42"/><circle cx="299.3" cy="43.2" r="0.42"/><circle cx="308.8" cy="41.9" r="0.42"/><circle cx="307.5" cy="43.1" r="0.42"/><circle cx="296.9" cy="61.1" r="0.42"/><circle cx="302.7" cy="44.6" r="0.42"/><circle cx="298.4" cy="53.9" r="0.42"/><circle cx="299.0" cy="49.1" r="0.42"/><circle cx="299.9" cy="47.2" r="0.42"/><circle cx="300.0" cy="47.7" r="0.42"/><circle cx="315.9" cy="44.8" r="0.42"/><circle cx="307.1" cy="43.4" r="0.42"/><circle cx="304.0" cy="45.4" r="0.42"/><circle cx="303.1" cy="42.1" r="0.42"/><circle cx="307.3" cy="41.9" r="0.42"/><circle cx="306.0" cy="42.3" r="0.42"/><circle cx="304.4" cy="40.4" r="0.42"/><circle cx="311.4" cy="43.4" r="0.42"/><circle cx="326.7" cy="39.8" r="0.42"/><circle cx="304.2" cy="43.0" r="0.42"/><circle cx="301.7" cy="46.4" r="0.42"/><circle cx="305.5" cy="43.1" r="0.42"/><circle cx="298.0" cy="51.5" r="0.42"/><circle cx="301.0" cy="46.1" r="0.42"/><circle cx="297.8" cy="51.6" r="0.42"/><circle cx="299.4" cy="47.5" r="0.42"/><circle cx="316.2" cy="43.4" r="0.42"/><circle cx="329.9" cy="40.4" r="0.42"/><circle cx="307.7" cy="42.0" r="0.42"/><circle cx="309.2" cy="48.5" r="0.42"/><circle cx="322.7" cy="41.3" r="0.42"/><circle cx="305.8" cy="46.8" r="0.42"/><circle cx="299.5" cy="50.4" r="0.42"/><circle cx="298.6" cy="52.0" r="0.42"/><circle cx="304.7" cy="46.4" r="0.42"/><circle cx="293.9" cy="44.2" r="0.42"/><circle cx="332.2" cy="37.9" r="0.42"/><circle cx="305.0" cy="41.3" r="0.42"/><circle cx="305.9" cy="48.5" r="0.42"/><circle cx="311.6" cy="44.1" r="0.42"/><circle cx="302.3" cy="46.2" r="0.42"/><circle cx="309.7" cy="42.1" r="0.42"/><circle cx="305.0" cy="47.6" r="0.42"/><circle cx="328.8" cy="38.2" r="0.42"/><circle cx="328.1" cy="39.1" r="0.42"/><circle cx="325.2" cy="39.2" r="0.42"/><circle cx="317.7" cy="42.2" r="0.42"/><circle cx="334.8" cy="38.3" r="0.42"/><circle cx="323.3" cy="41.9" r="0.42"/><circle cx="295.1" cy="57.5" r="0.42"/><circle cx="305.8" cy="41.1" r="0.42"/><circle cx="312.6" cy="47.7" r="0.42"/><circle cx="304.0" cy="48.0" r="0.42"/><circle cx="301.2" cy="46.5" r="0.42"/><circle cx="298.4" cy="55.4" r="0.42"/><circle cx="296.4" cy="56.7" r="0.42"/><circle cx="305.4" cy="44.8" r="0.42"/><circle cx="303.1" cy="44.0" r="0.42"/><circle cx="307.3" cy="48.9" r="0.42"/><circle cx="306.0" cy="48.6" r="0.42"/><circle cx="303.2" cy="44.3" r="0.42"/><circle cx="300.5" cy="45.1" r="0.42"/><circle cx="301.8" cy="44.7" r="0.42"/><circle cx="330.5" cy="38.3" r="0.42"/><circle cx="300.0" cy="49.5" r="0.42"/><circle cx="315.8" cy="44.8" r="0.42"/><circle cx="310.3" cy="46.6" r="0.42"/><circle cx="319.1" cy="42.3" r="0.42"/><circle cx="307.9" cy="44.9" r="0.42"/><circle cx="299.5" cy="43.2" r="0.42"/><circle cx="318.6" cy="42.2" r="0.42"/><circle cx="328.8" cy="37.9" r="0.42"/><circle cx="297.9" cy="52.9" r="0.42"/><circle cx="305.8" cy="44.0" r="0.42"/><circle cx="307.5" cy="43.8" r="0.42"/><circle cx="306.2" cy="47.6" r="0.42"/><circle cx="312.9" cy="42.0" r="0.42"/><circle cx="296.6" cy="46.9" r="0.42"/><circle cx="300.9" cy="41.3" r="0.42"/><circle cx="311.0" cy="43.0" r="0.42"/><circle cx="302.3" cy="47.2" r="0.42"/><circle cx="332.7" cy="38.8" r="0.42"/><circle cx="308.6" cy="46.6" r="0.42"/><circle cx="294.9" cy="58.9" r="0.42"/><circle cx="334.8" cy="35.6" r="0.42"/><circle cx="306.1" cy="46.2" r="0.42"/><circle cx="312.2" cy="48.6" r="0.42"/><circle cx="310.3" cy="48.1" r="0.42"/><circle cx="325.4" cy="40.5" r="0.42"/><circle cx="332.2" cy="39.7" r="0.42"/><circle cx="296.4" cy="58.9" r="0.42"/><circle cx="296.6" cy="41.8" r="0.42"/><circle cx="304.0" cy="44.4" r="0.42"/><circle cx="319.6" cy="41.9" r="0.42"/><circle cx="323.2" cy="41.6" r="0.42"/><circle cx="296.8" cy="55.4" r="0.42"/><circle cx="305.7" cy="44.5" r="0.42"/><circle cx="298.8" cy="41.1" r="0.42"/><circle cx="300.2" cy="43.1" r="0.42"/><circle cx="298.5" cy="62.7" r="0.42"/><circle cx="303.2" cy="45.1" r="0.42"/><circle cx="303.2" cy="41.8" r="0.42"/><circle cx="310.6" cy="40.4" r="0.42"/><circle cx="309.6" cy="45.5" r="0.42"/><circle cx="303.2" cy="45.5" r="0.42"/><circle cx="296.5" cy="42.6" r="0.42"/><circle cx="300.4" cy="46.0" r="0.42"/><circle cx="323.9" cy="43.5" r="0.42"/><circle cx="308.1" cy="41.1" r="0.42"/><circle cx="306.8" cy="43.6" r="0.42"/><circle cx="295.3" cy="63.2" r="0.42"/><circle cx="300.5" cy="46.4" r="0.42"/><circle cx="303.2" cy="49.1" r="0.42"/><circle cx="303.4" cy="48.8" r="0.42"/><circle cx="329.2" cy="40.1" r="0.42"/><circle cx="312.2" cy="45.3" r="0.42"/><circle cx="335.3" cy="37.2" r="0.42"/><circle cx="331.5" cy="37.5" r="0.42"/><circle cx="301.5" cy="46.3" r="0.42"/><circle cx="300.7" cy="44.7" r="0.42"/><circle cx="305.6" cy="47.6" r="0.42"/><circle cx="302.2" cy="42.8" r="0.42"/><circle cx="304.6" cy="43.7" r="0.42"/><circle cx="316.6" cy="41.1" r="0.42"/><circle cx="301.2" cy="44.9" r="0.42"/><circle cx="313.5" cy="42.0" r="0.42"/><circle cx="297.6" cy="55.3" r="0.42"/><circle cx="318.6" cy="41.9" r="0.42"/><circle cx="327.2" cy="40.3" r="0.42"/><circle cx="304.3" cy="43.0" r="0.42"/><circle cx="295.9" cy="61.9" r="0.42"/><circle cx="304.4" cy="47.1" r="0.42"/><circle cx="303.9" cy="43.8" r="0.42"/><circle cx="319.5" cy="46.6" r="0.42"/><circle cx="320.0" cy="40.1" r="0.42"/><circle cx="303.0" cy="45.2" r="0.42"/><circle cx="314.1" cy="50.3" r="0.42"/><circle cx="302.5" cy="43.1" r="0.42"/><circle cx="309.2" cy="44.2" r="0.42"/><circle cx="305.5" cy="49.1" r="0.42"/><circle cx="303.2" cy="44.6" r="0.42"/><circle cx="309.8" cy="43.3" r="0.42"/><circle cx="299.9" cy="47.1" r="0.42"/><circle cx="306.7" cy="46.4" r="0.42"/><circle cx="319.7" cy="44.0" r="0.42"/><circle cx="306.3" cy="46.4" r="0.42"/><circle cx="297.1" cy="59.2" r="0.42"/><circle cx="332.6" cy="37.5" r="0.42"/><circle cx="301.5" cy="44.2" r="0.42"/><circle cx="316.8" cy="40.6" r="0.42"/><circle cx="304.7" cy="48.8" r="0.42"/><circle cx="308.7" cy="44.8" r="0.42"/><circle cx="299.6" cy="45.5" r="0.42"/><circle cx="305.0" cy="49.0" r="0.42"/><circle cx="304.2" cy="46.6" r="0.42"/><circle cx="315.7" cy="40.8" r="0.42"/><circle cx="295.9" cy="59.8" r="0.42"/><circle cx="300.6" cy="43.2" r="0.42"/><circle cx="300.6" cy="51.8" r="0.42"/><circle cx="313.4" cy="41.9" r="0.42"/><circle cx="298.1" cy="56.3" r="0.42"/><circle cx="303.7" cy="45.0" r="0.42"/><circle cx="304.0" cy="44.8" r="0.42"/><circle cx="301.9" cy="44.0" r="0.42"/><circle cx="300.6" cy="41.7" r="0.42"/><circle cx="298.1" cy="52.3" r="0.42"/><circle cx="316.5" cy="44.2" r="0.42"/><circle cx="298.8" cy="44.6" r="0.42"/><circle cx="305.0" cy="46.3" r="0.42"/><circle cx="297.3" cy="41.7" r="0.42"/><circle cx="297.8" cy="42.6" r="0.42"/><circle cx="306.1" cy="39.1" r="0.42"/><circle cx="298.2" cy="53.9" r="0.42"/><circle cx="300.3" cy="45.2" r="0.42"/><circle cx="300.9" cy="46.9" r="0.42"/><circle cx="313.3" cy="39.8" r="0.42"/><circle cx="310.6" cy="44.1" r="0.42"/><circle cx="300.9" cy="45.7" r="0.42"/><circle cx="297.8" cy="52.7" r="0.42"/><circle cx="299.1" cy="45.8" r="0.42"/><circle cx="308.0" cy="49.8" r="0.42"/><circle cx="335.3" cy="35.9" r="0.42"/><circle cx="302.8" cy="45.3" r="0.42"/><circle cx="321.2" cy="40.9" r="0.42"/><circle cx="321.3" cy="37.6" r="0.42"/><circle cx="320.9" cy="40.3" r="0.42"/><circle cx="298.4" cy="54.6" r="0.42"/><circle cx="301.6" cy="43.4" r="0.42"/><circle cx="335.7" cy="36.5" r="0.42"/><circle cx="298.0" cy="53.6" r="0.42"/><circle cx="303.9" cy="43.8" r="0.42"/><circle cx="305.7" cy="44.5" r="0.42"/><circle cx="300.0" cy="46.8" r="0.42"/><circle cx="319.8" cy="40.2" r="0.42"/><circle cx="325.3" cy="38.1" r="0.42"/><circle cx="296.5" cy="57.1" r="0.42"/><circle cx="298.0" cy="55.6" r="0.42"/><circle cx="302.3" cy="45.7" r="0.42"/><circle cx="297.3" cy="53.2" r="0.42"/><circle cx="311.8" cy="44.7" r="0.42"/><circle cx="300.7" cy="46.4" r="0.42"/><circle cx="300.1" cy="42.4" r="0.42"/><circle cx="317.9" cy="43.1" r="0.42"/><circle cx="307.7" cy="43.4" r="0.42"/><circle cx="301.0" cy="46.6" r="0.42"/><circle cx="328.5" cy="41.2" r="0.42"/><circle cx="297.6" cy="49.7" r="0.42"/><circle cx="297.6" cy="48.3" r="0.42"/><circle cx="295.7" cy="44.7" r="0.42"/><circle cx="327.9" cy="39.5" r="0.42"/><circle cx="299.3" cy="45.4" r="0.42"/><circle cx="314.4" cy="42.4" r="0.42"/><circle cx="299.2" cy="45.3" r="0.42"/><circle cx="321.8" cy="39.5" r="0.42"/></g>
<g transform="translate(309.60,44.80) rotate(-15)" filter="url(#bl)"><ellipse cx="0" cy="0" rx="7.20" ry="2.60" fill="#4a66ff"/><ellipse cx="0" cy="0" rx="6.19" ry="2.24" fill="#22c0e8"/><ellipse cx="0" cy="0" rx="5.18" ry="1.87" fill="#3ee03a"/><ellipse cx="0" cy="0" rx="3.46" ry="1.25" fill="#c8e830"/><ellipse cx="0" cy="0" rx="2.30" ry="0.83" fill="#ff9a1a"/><ellipse cx="0" cy="0" rx="1.01" ry="0.36" fill="#f04a10"/></g>
<ellipse cx="310.70" cy="43.10" rx="7.2" ry="3.1" transform="rotate(-15 310.70 43.10)" fill="none" stroke="#222" stroke-width="0.7"/>
<text x="328.50" y="56.20" font-size="2.4" fill="#666" text-anchor="middle">CD45</text>
<text x="328.50" y="59.00" font-size="2.4" fill="#666" text-anchor="middle">0.1</text>
<line x1="97.00" y1="36.00" x2="97.00" y2="73.60" stroke="#444" stroke-width="0.6"/>
<line x1="97.00" y1="73.60" x2="140.50" y2="73.60" stroke="#444" stroke-width="0.8"/>
<line x1="95.70" y1="71.00" x2="97.00" y2="71.00" stroke="#444" stroke-width="0.5"/>
<text x="95.20" y="71.90" font-size="2.4" fill="#6a6a6a" text-anchor="end">-10²</text>
<line x1="95.70" y1="65.00" x2="97.00" y2="65.00" stroke="#444" stroke-width="0.5"/>
<text x="95.20" y="65.90" font-size="2.4" fill="#6a6a6a" text-anchor="end">0</text>
<line x1="95.70" y1="58.00" x2="97.00" y2="58.00" stroke="#444" stroke-width="0.5"/>
<text x="95.20" y="58.90" font-size="2.4" fill="#6a6a6a" text-anchor="end">10²</text>
<line x1="95.70" y1="47.60" x2="97.00" y2="47.60" stroke="#444" stroke-width="0.5"/>
<text x="95.20" y="48.50" font-size="2.4" fill="#6a6a6a" text-anchor="end">10³</text>
<line x1="95.70" y1="38.10" x2="97.00" y2="38.10" stroke="#444" stroke-width="0.5"/>
<text x="95.20" y="39.00" font-size="2.4" fill="#6a6a6a" text-anchor="end">10⁴</text>
<line x1="97.87" y1="73.60" x2="97.87" y2="74.80" stroke="#444" stroke-width="0.5"/>
<text x="97.87" y="77.20" font-size="2.3" fill="#6a6a6a" text-anchor="middle">10</text>
<line x1="106.57" y1="73.60" x2="106.57" y2="74.80" stroke="#444" stroke-width="0.5"/>
<text x="106.57" y="77.20" font-size="2.3" fill="#6a6a6a" text-anchor="middle">10</text>
<line x1="115.27" y1="73.60" x2="115.27" y2="74.80" stroke="#444" stroke-width="0.5"/>
<text x="115.27" y="77.20" font-size="2.3" fill="#6a6a6a" text-anchor="middle">10</text>
<line x1="123.97" y1="73.60" x2="123.97" y2="74.80" stroke="#444" stroke-width="0.5"/>
<text x="123.97" y="77.20" font-size="2.3" fill="#6a6a6a" text-anchor="middle">10</text>
<line x1="132.67" y1="73.60" x2="132.67" y2="74.80" stroke="#444" stroke-width="0.5"/>
<text x="132.67" y="77.20" font-size="2.3" fill="#6a6a6a" text-anchor="middle">10</text>
<line x1="139.63" y1="73.60" x2="139.63" y2="74.80" stroke="#444" stroke-width="0.5"/>
<text x="139.63" y="77.20" font-size="2.3" fill="#6a6a6a" text-anchor="middle">10</text>
<text x="0" y="0" font-size="2.6" fill="#888" text-anchor="middle" transform="translate(89.50,54.80) rotate(-90)">SSC-A</text>
<rect x="96.80" y="63.40" width="1.20" height="2.40" fill="#222"/>
<path d="M98.10,37.50 L115.70,37.50 L107.00,50.20 L99.60,50.20 Q98.10,50.20 98.10,48.70 Z" fill="none" stroke="#707070" stroke-width="0.75" stroke-linejoin="round"/>
<path d="M122.00,37.50 L139.30,37.50 L139.30,50.20 L113.10,50.20 Z" fill="none" stroke="#707070" stroke-width="0.75" stroke-linejoin="round"/>
<g fill="#6b8cff" fill-opacity="0.50"><circle cx="107.8" cy="43.5" r="0.38"/><circle cx="107.2" cy="45.7" r="0.38"/><circle cx="99.7" cy="42.6" r="0.38"/><circle cx="105.4" cy="45.5" r="0.38"/><circle cx="107.7" cy="46.4" r="0.38"/><circle cx="108.5" cy="44.1" r="0.38"/><circle cx="104.8" cy="46.4" r="0.38"/><circle cx="104.1" cy="46.9" r="0.38"/><circle cx="100.6" cy="46.1" r="0.38"/><circle cx="104.9" cy="40.9" r="0.38"/><circle cx="108.3" cy="45.4" r="0.38"/><circle cx="105.5" cy="42.6" r="0.38"/><circle cx="104.0" cy="47.8" r="0.38"/><circle cx="102.9" cy="37.9" r="0.38"/><circle cx="102.8" cy="42.4" r="0.38"/><circle cx="105.0" cy="44.0" r="0.38"/><circle cx="102.7" cy="43.1" r="0.38"/><circle cx="108.5" cy="41.9" r="0.38"/><circle cx="111.3" cy="43.7" r="0.38"/><circle cx="102.1" cy="46.4" r="0.38"/><circle cx="107.1" cy="42.7" r="0.38"/><circle cx="107.6" cy="41.1" r="0.38"/><circle cx="102.6" cy="47.1" r="0.38"/><circle cx="104.6" cy="42.2" r="0.38"/><circle cx="106.9" cy="46.6" r="0.38"/><circle cx="105.3" cy="41.2" r="0.38"/><circle cx="104.4" cy="45.6" r="0.38"/><circle cx="107.7" cy="48.5" r="0.38"/><circle cx="104.6" cy="43.8" r="0.38"/><circle cx="105.3" cy="47.2" r="0.38"/><circle cx="102.6" cy="47.4" r="0.38"/><circle cx="97.2" cy="46.4" r="0.38"/><circle cx="103.4" cy="45.7" r="0.38"/><circle cx="107.5" cy="42.4" r="0.38"/><circle cx="105.1" cy="45.3" r="0.38"/><circle cx="107.2" cy="42.9" r="0.38"/><circle cx="102.4" cy="41.0" r="0.38"/><circle cx="113.0" cy="44.4" r="0.38"/><circle cx="104.7" cy="41.8" r="0.38"/><circle cx="108.2" cy="43.7" r="0.38"/></g>
<g transform="translate(105.40,44.80) rotate(-25)" filter="url(#bl)"><ellipse cx="0" cy="0" rx="4.60" ry="3.00" fill="#4a66ff"/><ellipse cx="0" cy="0" rx="3.96" ry="2.58" fill="#22c0e8"/><ellipse cx="0" cy="0" rx="3.31" ry="2.16" fill="#3ee03a"/><ellipse cx="0" cy="0" rx="2.21" ry="1.44" fill="#c8e830"/><ellipse cx="0" cy="0" rx="1.47" ry="0.96" fill="#ff9a1a"/><ellipse cx="0" cy="0" rx="0.64" ry="0.42" fill="#f04a10"/></g>
<text x="101.50" y="63.80" font-size="2.2" fill="#666" text-anchor="start">GFP-</text>
<text x="101.50" y="66.40" font-size="2.2" fill="#666" text-anchor="start">99.8</text>
<text x="127.00" y="63.80" font-size="2.2" fill="#666" text-anchor="start">GFP+</text>
<text x="127.00" y="66.40" font-size="2.2" fill="#666" text-anchor="start">0.02</text>
<line x1="351.50" y1="36.00" x2="351.50" y2="73.50" stroke="#444" stroke-width="0.6"/>
<line x1="351.50" y1="73.50" x2="394.20" y2="73.50" stroke="#444" stroke-width="0.8"/>
<line x1="350.20" y1="70.90" x2="351.50" y2="70.90" stroke="#444" stroke-width="0.5"/>
<text x="349.70" y="71.80" font-size="2.4" fill="#6a6a6a" text-anchor="end">-10²</text>
<line x1="350.20" y1="64.90" x2="351.50" y2="64.90" stroke="#444" stroke-width="0.5"/>
<text x="349.70" y="65.80" font-size="2.4" fill="#6a6a6a" text-anchor="end">0</text>
<line x1="350.20" y1="57.90" x2="351.50" y2="57.90" stroke="#444" stroke-width="0.5"/>
<text x="349.70" y="58.80" font-size="2.4" fill="#6a6a6a" text-anchor="end">10²</text>
<line x1="350.20" y1="47.50" x2="351.50" y2="47.50" stroke="#444" stroke-width="0.5"/>
<text x="349.70" y="48.40" font-size="2.4" fill="#6a6a6a" text-anchor="end">10³</text>
<line x1="350.20" y1="38.00" x2="351.50" y2="38.00" stroke="#444" stroke-width="0.5"/>
<text x="349.70" y="38.90" font-size="2.4" fill="#6a6a6a" text-anchor="end">10⁴</text>
<line x1="352.35" y1="73.50" x2="352.35" y2="74.70" stroke="#444" stroke-width="0.5"/>
<text x="352.35" y="77.10" font-size="2.3" fill="#6a6a6a" text-anchor="middle">10</text>
<line x1="360.89" y1="73.50" x2="360.89" y2="74.70" stroke="#444" stroke-width="0.5"/>
<text x="360.89" y="77.10" font-size="2.3" fill="#6a6a6a" text-anchor="middle">10</text>
<line x1="369.43" y1="73.50" x2="369.43" y2="74.70" stroke="#444" stroke-width="0.5"/>
<text x="369.43" y="77.10" font-size="2.3" fill="#6a6a6a" text-anchor="middle">10</text>
<line x1="377.97" y1="73.50" x2="377.97" y2="74.70" stroke="#444" stroke-width="0.5"/>
<text x="377.97" y="77.10" font-size="2.3" fill="#6a6a6a" text-anchor="middle">10</text>
<line x1="386.51" y1="73.50" x2="386.51" y2="74.70" stroke="#444" stroke-width="0.5"/>
<text x="386.51" y="77.10" font-size="2.3" fill="#6a6a6a" text-anchor="middle">10</text>
<line x1="393.35" y1="73.50" x2="393.35" y2="74.70" stroke="#444" stroke-width="0.5"/>
<text x="393.35" y="77.10" font-size="2.3" fill="#6a6a6a" text-anchor="middle">10</text>
<text x="0" y="0" font-size="2.6" fill="#888" text-anchor="middle" transform="translate(344.00,54.75) rotate(-90)">SSC-A</text>
<rect x="351.30" y="63.30" width="1.20" height="2.40" fill="#222"/>
<path d="M352.50,37.20 L372.30,37.20 L362.50,52.10 L354.00,52.10 Q352.50,52.10 352.50,50.60 Z" fill="none" stroke="#707070" stroke-width="0.75" stroke-linejoin="round"/>
<path d="M376.70,37.20 L394.20,37.20 L394.20,52.10 L367.10,52.10 Z" fill="none" stroke="#707070" stroke-width="0.75" stroke-linejoin="round"/>
<g fill="#6b8cff" fill-opacity="0.50"><circle cx="364.5" cy="46.5" r="0.38"/><circle cx="360.3" cy="46.3" r="0.38"/><circle cx="356.9" cy="44.1" r="0.38"/><circle cx="358.5" cy="42.3" r="0.38"/><circle cx="360.3" cy="44.5" r="0.38"/><circle cx="364.5" cy="38.1" r="0.38"/><circle cx="358.2" cy="43.0" r="0.38"/><circle cx="358.8" cy="45.6" r="0.38"/><circle cx="361.4" cy="44.9" r="0.38"/><circle cx="358.8" cy="45.8" r="0.38"/><circle cx="361.3" cy="41.1" r="0.38"/><circle cx="359.4" cy="42.1" r="0.38"/><circle cx="356.7" cy="45.1" r="0.38"/><circle cx="360.4" cy="45.0" r="0.38"/><circle cx="357.6" cy="44.4" r="0.38"/><circle cx="357.5" cy="45.6" r="0.38"/><circle cx="362.3" cy="48.3" r="0.38"/><circle cx="364.0" cy="43.2" r="0.38"/><circle cx="358.8" cy="42.9" r="0.38"/><circle cx="361.1" cy="48.8" r="0.38"/><circle cx="362.3" cy="40.4" r="0.38"/><circle cx="356.4" cy="42.2" r="0.38"/><circle cx="361.7" cy="44.8" r="0.38"/><circle cx="361.1" cy="48.4" r="0.38"/><circle cx="357.7" cy="43.1" r="0.38"/><circle cx="366.1" cy="45.5" r="0.38"/><circle cx="357.9" cy="40.7" r="0.38"/><circle cx="355.6" cy="39.9" r="0.38"/><circle cx="360.4" cy="44.9" r="0.38"/><circle cx="363.2" cy="44.5" r="0.38"/><circle cx="358.1" cy="43.3" r="0.38"/><circle cx="365.9" cy="41.3" r="0.38"/><circle cx="360.7" cy="44.9" r="0.38"/><circle cx="362.1" cy="44.0" r="0.38"/><circle cx="361.7" cy="46.4" r="0.38"/><circle cx="359.8" cy="43.9" r="0.38"/><circle cx="359.6" cy="42.9" r="0.38"/><circle cx="359.6" cy="44.2" r="0.38"/><circle cx="360.8" cy="47.5" r="0.38"/><circle cx="364.1" cy="43.9" r="0.38"/></g>
<g transform="translate(360.20,44.80) rotate(-25)" filter="url(#bl)"><ellipse cx="0" cy="0" rx="4.60" ry="3.00" fill="#4a66ff"/><ellipse cx="0" cy="0" rx="3.96" ry="2.58" fill="#22c0e8"/><ellipse cx="0" cy="0" rx="3.31" ry="2.16" fill="#3ee03a"/><ellipse cx="0" cy="0" rx="2.21" ry="1.44" fill="#c8e830"/><ellipse cx="0" cy="0" rx="1.47" ry="0.96" fill="#ff9a1a"/><ellipse cx="0" cy="0" rx="0.64" ry="0.42" fill="#f04a10"/></g>
<text x="356.00" y="63.70" font-size="2.2" fill="#666" text-anchor="start">GFP-</text>
<text x="356.00" y="66.30" font-size="2.2" fill="#666" text-anchor="start">99.8</text>
<text x="381.50" y="63.70" font-size="2.2" fill="#666" text-anchor="start">GFP+</text>
<text x="381.50" y="66.30" font-size="2.2" fill="#666" text-anchor="start">0.02</text>
<line x1="198.50" y1="34.00" x2="198.50" y2="73.30" stroke="#b8b8b8" stroke-width="0.8"/>
<line x1="155.00" y1="34.00" x2="155.00" y2="73.30" stroke="#444" stroke-width="0.6"/>
<line x1="155.00" y1="73.30" x2="198.50" y2="73.30" stroke="#444" stroke-width="0.8"/>
<line x1="153.70" y1="70.70" x2="155.00" y2="70.70" stroke="#444" stroke-width="0.5"/>
<text x="153.20" y="71.60" font-size="2.4" fill="#6a6a6a" text-anchor="end">-10²</text>
<line x1="153.70" y1="64.70" x2="155.00" y2="64.70" stroke="#444" stroke-width="0.5"/>
<text x="153.20" y="65.60" font-size="2.4" fill="#6a6a6a" text-anchor="end">0</text>
<line x1="153.70" y1="57.70" x2="155.00" y2="57.70" stroke="#444" stroke-width="0.5"/>
<text x="153.20" y="58.60" font-size="2.4" fill="#6a6a6a" text-anchor="end">10²</text>
<line x1="153.70" y1="47.30" x2="155.00" y2="47.30" stroke="#444" stroke-width="0.5"/>
<text x="153.20" y="48.20" font-size="2.4" fill="#6a6a6a" text-anchor="end">10³</text>
<line x1="153.70" y1="37.80" x2="155.00" y2="37.80" stroke="#444" stroke-width="0.5"/>
<text x="153.20" y="38.70" font-size="2.4" fill="#6a6a6a" text-anchor="end">10⁴</text>
<line x1="155.87" y1="73.30" x2="155.87" y2="74.50" stroke="#444" stroke-width="0.5"/>
<text x="155.87" y="76.90" font-size="2.3" fill="#6a6a6a" text-anchor="middle">10</text>
<line x1="164.57" y1="73.30" x2="164.57" y2="74.50" stroke="#444" stroke-width="0.5"/>
<text x="164.57" y="76.90" font-size="2.3" fill="#6a6a6a" text-anchor="middle">10</text>
<line x1="173.27" y1="73.30" x2="173.27" y2="74.50" stroke="#444" stroke-width="0.5"/>
<text x="173.27" y="76.90" font-size="2.3" fill="#6a6a6a" text-anchor="middle">10</text>
<line x1="181.97" y1="73.30" x2="181.97" y2="74.50" stroke="#444" stroke-width="0.5"/>
<text x="181.97" y="76.90" font-size="2.3" fill="#6a6a6a" text-anchor="middle">10</text>
<line x1="190.67" y1="73.30" x2="190.67" y2="74.50" stroke="#444" stroke-width="0.5"/>
<text x="190.67" y="76.90" font-size="2.3" fill="#6a6a6a" text-anchor="middle">10</text>
<line x1="197.63" y1="73.30" x2="197.63" y2="74.50" stroke="#444" stroke-width="0.5"/>
<text x="197.63" y="76.90" font-size="2.3" fill="#6a6a6a" text-anchor="middle">10</text>
<text x="0" y="0" font-size="2.6" fill="#888" text-anchor="middle" transform="translate(147.50,53.65) rotate(-90)">SSC-A</text>
<rect x="154.80" y="63.10" width="1.20" height="2.40" fill="#222"/>
<path d="M156.10,37.50 L173.70,37.50 L164.50,50.20 L157.60,50.20 Q156.10,50.20 156.10,48.70 Z" fill="none" stroke="#707070" stroke-width="0.75" stroke-linejoin="round"/>
<path d="M180.00,37.50 L196.70,37.50 L196.70,50.20 L171.40,50.20 Z" fill="none" stroke="#707070" stroke-width="0.75" stroke-linejoin="round"/>
<g fill="#4a6cff" fill-opacity="0.45"><circle cx="168.0" cy="45.4" r="0.45"/><circle cx="166.1" cy="45.9" r="0.45"/><circle cx="166.3" cy="45.6" r="0.45"/><circle cx="168.1" cy="45.4" r="0.45"/><circle cx="170.4" cy="45.1" r="0.45"/><circle cx="165.7" cy="44.8" r="0.45"/><circle cx="171.0" cy="45.2" r="0.45"/><circle cx="177.2" cy="41.1" r="0.45"/><circle cx="170.9" cy="45.2" r="0.45"/><circle cx="169.4" cy="46.2" r="0.45"/><circle cx="169.1" cy="44.7" r="0.45"/><circle cx="169.0" cy="45.8" r="0.45"/><circle cx="171.3" cy="43.2" r="0.45"/><circle cx="174.8" cy="41.7" r="0.45"/><circle cx="173.3" cy="43.3" r="0.45"/><circle cx="166.9" cy="46.8" r="0.45"/><circle cx="170.7" cy="44.7" r="0.45"/><circle cx="171.9" cy="43.0" r="0.45"/><circle cx="169.7" cy="45.7" r="0.45"/><circle cx="168.3" cy="46.4" r="0.45"/><circle cx="169.7" cy="43.5" r="0.45"/><circle cx="176.2" cy="44.0" r="0.45"/><circle cx="165.5" cy="45.8" r="0.45"/><circle cx="174.1" cy="42.7" r="0.45"/><circle cx="169.6" cy="43.7" r="0.45"/><circle cx="167.1" cy="45.7" r="0.45"/><circle cx="172.5" cy="43.5" r="0.45"/><circle cx="177.3" cy="41.8" r="0.45"/><circle cx="164.1" cy="46.8" r="0.45"/><circle cx="167.7" cy="45.2" r="0.45"/><circle cx="166.3" cy="45.8" r="0.45"/><circle cx="168.5" cy="46.2" r="0.45"/><circle cx="173.3" cy="42.9" r="0.45"/><circle cx="174.9" cy="43.1" r="0.45"/><circle cx="175.9" cy="42.5" r="0.45"/><circle cx="164.8" cy="47.0" r="0.45"/><circle cx="164.6" cy="46.3" r="0.45"/><circle cx="175.7" cy="43.0" r="0.45"/><circle cx="176.7" cy="43.9" r="0.45"/><circle cx="170.8" cy="44.5" r="0.45"/><circle cx="167.0" cy="46.9" r="0.45"/><circle cx="171.7" cy="45.6" r="0.45"/><circle cx="174.0" cy="43.4" r="0.45"/><circle cx="169.8" cy="45.5" r="0.45"/><circle cx="171.0" cy="42.3" r="0.45"/><circle cx="166.5" cy="45.9" r="0.45"/><circle cx="173.9" cy="43.2" r="0.45"/><circle cx="171.4" cy="45.0" r="0.45"/><circle cx="171.8" cy="43.8" r="0.45"/><circle cx="170.0" cy="44.2" r="0.45"/><circle cx="169.4" cy="45.9" r="0.45"/><circle cx="174.8" cy="43.2" r="0.45"/><circle cx="172.4" cy="41.9" r="0.45"/><circle cx="170.3" cy="44.2" r="0.45"/><circle cx="168.6" cy="45.0" r="0.45"/><circle cx="175.3" cy="41.0" r="0.45"/><circle cx="166.7" cy="45.0" r="0.45"/><circle cx="169.9" cy="44.4" r="0.45"/><circle cx="164.8" cy="45.7" r="0.45"/><circle cx="168.5" cy="46.1" r="0.45"/><circle cx="167.8" cy="45.2" r="0.45"/><circle cx="165.5" cy="45.5" r="0.45"/><circle cx="170.6" cy="44.9" r="0.45"/><circle cx="165.4" cy="47.9" r="0.45"/><circle cx="166.0" cy="45.6" r="0.45"/><circle cx="169.9" cy="44.5" r="0.45"/><circle cx="171.3" cy="44.7" r="0.45"/><circle cx="166.2" cy="47.6" r="0.45"/><circle cx="172.5" cy="44.6" r="0.45"/><circle cx="167.8" cy="45.3" r="0.45"/><circle cx="165.9" cy="46.6" r="0.45"/><circle cx="167.2" cy="45.5" r="0.45"/><circle cx="177.2" cy="42.8" r="0.45"/><circle cx="175.0" cy="43.3" r="0.45"/><circle cx="167.9" cy="45.5" r="0.45"/><circle cx="170.7" cy="44.1" r="0.45"/><circle cx="170.6" cy="45.0" r="0.45"/><circle cx="165.0" cy="45.1" r="0.45"/><circle cx="175.1" cy="41.9" r="0.45"/><circle cx="175.4" cy="40.7" r="0.45"/><circle cx="167.1" cy="45.3" r="0.45"/><circle cx="167.2" cy="45.9" r="0.45"/><circle cx="170.3" cy="44.7" r="0.45"/><circle cx="165.4" cy="45.8" r="0.45"/><circle cx="174.6" cy="44.6" r="0.45"/><circle cx="176.1" cy="42.4" r="0.45"/><circle cx="167.8" cy="44.5" r="0.45"/><circle cx="169.6" cy="43.9" r="0.45"/><circle cx="174.5" cy="44.1" r="0.45"/><circle cx="165.4" cy="45.4" r="0.45"/><circle cx="173.3" cy="43.3" r="0.45"/><circle cx="166.6" cy="45.6" r="0.45"/><circle cx="178.5" cy="43.2" r="0.45"/><circle cx="176.7" cy="42.8" r="0.45"/><circle cx="175.2" cy="43.7" r="0.45"/><circle cx="173.4" cy="43.1" r="0.45"/><circle cx="178.5" cy="40.4" r="0.45"/><circle cx="169.0" cy="44.0" r="0.45"/><circle cx="166.9" cy="46.9" r="0.45"/><circle cx="172.1" cy="45.4" r="0.45"/><circle cx="170.5" cy="43.8" r="0.45"/><circle cx="171.4" cy="43.0" r="0.45"/><circle cx="166.1" cy="46.7" r="0.45"/><circle cx="173.8" cy="45.1" r="0.45"/><circle cx="169.5" cy="46.1" r="0.45"/><circle cx="168.9" cy="44.1" r="0.45"/><circle cx="168.0" cy="45.0" r="0.45"/><circle cx="171.5" cy="43.6" r="0.45"/><circle cx="170.1" cy="45.3" r="0.45"/><circle cx="176.7" cy="40.8" r="0.45"/><circle cx="174.4" cy="44.8" r="0.45"/><circle cx="176.2" cy="44.2" r="0.45"/><circle cx="171.1" cy="45.6" r="0.45"/><circle cx="174.3" cy="43.8" r="0.45"/><circle cx="174.6" cy="43.2" r="0.45"/><circle cx="170.1" cy="45.8" r="0.45"/><circle cx="167.9" cy="45.0" r="0.45"/><circle cx="171.9" cy="45.3" r="0.45"/><circle cx="175.5" cy="40.3" r="0.45"/><circle cx="175.5" cy="42.9" r="0.45"/><circle cx="170.7" cy="44.9" r="0.45"/><circle cx="174.4" cy="43.0" r="0.45"/><circle cx="175.2" cy="44.2" r="0.45"/><circle cx="165.1" cy="46.0" r="0.45"/><circle cx="171.9" cy="43.9" r="0.45"/><circle cx="176.6" cy="41.6" r="0.45"/><circle cx="166.9" cy="43.9" r="0.45"/><circle cx="173.1" cy="43.7" r="0.45"/><circle cx="166.6" cy="46.1" r="0.45"/><circle cx="171.7" cy="43.4" r="0.45"/><circle cx="171.3" cy="45.7" r="0.45"/><circle cx="173.4" cy="43.2" r="0.45"/><circle cx="175.8" cy="42.6" r="0.45"/><circle cx="167.0" cy="43.9" r="0.45"/><circle cx="175.4" cy="43.1" r="0.45"/><circle cx="175.8" cy="42.0" r="0.45"/><circle cx="170.4" cy="45.1" r="0.45"/><circle cx="171.6" cy="45.4" r="0.45"/><circle cx="165.1" cy="45.8" r="0.45"/><circle cx="177.2" cy="41.8" r="0.45"/><circle cx="167.1" cy="45.0" r="0.45"/><circle cx="173.3" cy="43.0" r="0.45"/><circle cx="165.6" cy="45.8" r="0.45"/><circle cx="164.9" cy="43.8" r="0.45"/><circle cx="166.3" cy="47.1" r="0.45"/><circle cx="169.6" cy="45.0" r="0.45"/><circle cx="169.5" cy="44.2" r="0.45"/><circle cx="177.0" cy="42.0" r="0.45"/><circle cx="172.3" cy="43.9" r="0.45"/><circle cx="173.3" cy="41.8" r="0.45"/></g>
<g transform="translate(182.70,43.30) rotate(-25)" filter="url(#bl)"><ellipse cx="0" cy="0" rx="4.60" ry="3.00" fill="#4a66ff"/><ellipse cx="0" cy="0" rx="3.96" ry="2.58" fill="#22c0e8"/><ellipse cx="0" cy="0" rx="3.31" ry="2.16" fill="#3ee03a"/><ellipse cx="0" cy="0" rx="2.21" ry="1.44" fill="#c8e830"/><ellipse cx="0" cy="0" rx="1.47" ry="0.96" fill="#ff9a1a"/><ellipse cx="0" cy="0" rx="0.64" ry="0.42" fill="#f04a10"/></g>
<text x="159.50" y="63.50" font-size="2.2" fill="#666" text-anchor="start">GFP-</text>
<text x="159.50" y="66.10" font-size="2.2" fill="#666" text-anchor="start">99.8</text>
<text x="185.00" y="63.50" font-size="2.2" fill="#666" text-anchor="start">GFP+</text>
<text x="185.00" y="66.10" font-size="2.2" fill="#666" text-anchor="start">0.02</text>
<line x1="454.00" y1="34.00" x2="454.00" y2="73.50" stroke="#b8b8b8" stroke-width="0.8"/>
<line x1="409.50" y1="34.00" x2="409.50" y2="73.50" stroke="#444" stroke-width="0.6"/>
<line x1="409.50" y1="73.50" x2="454.00" y2="73.50" stroke="#444" stroke-width="0.8"/>
<line x1="408.20" y1="70.90" x2="409.50" y2="70.90" stroke="#444" stroke-width="0.5"/>
<text x="407.70" y="71.80" font-size="2.4" fill="#6a6a6a" text-anchor="end">-10²</text>
<line x1="408.20" y1="64.90" x2="409.50" y2="64.90" stroke="#444" stroke-width="0.5"/>
<text x="407.70" y="65.80" font-size="2.4" fill="#6a6a6a" text-anchor="end">0</text>
<line x1="408.20" y1="57.90" x2="409.50" y2="57.90" stroke="#444" stroke-width="0.5"/>
<text x="407.70" y="58.80" font-size="2.4" fill="#6a6a6a" text-anchor="end">10²</text>
<line x1="408.20" y1="47.50" x2="409.50" y2="47.50" stroke="#444" stroke-width="0.5"/>
<text x="407.70" y="48.40" font-size="2.4" fill="#6a6a6a" text-anchor="end">10³</text>
<line x1="408.20" y1="38.00" x2="409.50" y2="38.00" stroke="#444" stroke-width="0.5"/>
<text x="407.70" y="38.90" font-size="2.4" fill="#6a6a6a" text-anchor="end">10⁴</text>
<line x1="410.39" y1="73.50" x2="410.39" y2="74.70" stroke="#444" stroke-width="0.5"/>
<text x="410.39" y="77.10" font-size="2.3" fill="#6a6a6a" text-anchor="middle">10</text>
<line x1="419.29" y1="73.50" x2="419.29" y2="74.70" stroke="#444" stroke-width="0.5"/>
<text x="419.29" y="77.10" font-size="2.3" fill="#6a6a6a" text-anchor="middle">10</text>
<line x1="428.19" y1="73.50" x2="428.19" y2="74.70" stroke="#444" stroke-width="0.5"/>
<text x="428.19" y="77.10" font-size="2.3" fill="#6a6a6a" text-anchor="middle">10</text>
<line x1="437.09" y1="73.50" x2="437.09" y2="74.70" stroke="#444" stroke-width="0.5"/>
<text x="437.09" y="77.10" font-size="2.3" fill="#6a6a6a" text-anchor="middle">10</text>
<line x1="445.99" y1="73.50" x2="445.99" y2="74.70" stroke="#444" stroke-width="0.5"/>
<text x="445.99" y="77.10" font-size="2.3" fill="#6a6a6a" text-anchor="middle">10</text>
<line x1="453.11" y1="73.50" x2="453.11" y2="74.70" stroke="#444" stroke-width="0.5"/>
<text x="453.11" y="77.10" font-size="2.3" fill="#6a6a6a" text-anchor="middle">10</text>
<text x="0" y="0" font-size="2.6" fill="#888" text-anchor="middle" transform="translate(402.00,53.75) rotate(-90)">SSC-A</text>
<rect x="409.30" y="63.30" width="1.20" height="2.40" fill="#222"/>
<path d="M410.50,37.20 L430.10,37.20 L420.50,52.10 L412.00,52.10 Q410.50,52.10 410.50,50.60 Z" fill="none" stroke="#707070" stroke-width="0.75" stroke-linejoin="round"/>
<path d="M434.70,37.20 L452.20,37.20 L452.20,52.10 L425.10,52.10 Z" fill="none" stroke="#707070" stroke-width="0.75" stroke-linejoin="round"/>
<g fill="#4a6cff" fill-opacity="0.45"><circle cx="424.5" cy="44.6" r="0.45"/><circle cx="434.7" cy="43.8" r="0.45"/><circle cx="424.0" cy="45.3" r="0.45"/><circle cx="426.2" cy="43.7" r="0.45"/><circle cx="427.6" cy="43.8" r="0.45"/><circle cx="425.2" cy="43.8" r="0.45"/><circle cx="429.6" cy="43.9" r="0.45"/><circle cx="424.0" cy="45.2" r="0.45"/><circle cx="420.5" cy="47.1" r="0.45"/><circle cx="426.0" cy="43.8" r="0.45"/><circle cx="422.2" cy="46.4" r="0.45"/><circle cx="424.9" cy="44.9" r="0.45"/><circle cx="432.9" cy="41.2" r="0.45"/><circle cx="430.5" cy="44.4" r="0.45"/><circle cx="429.0" cy="44.7" r="0.45"/><circle cx="431.6" cy="41.4" r="0.45"/><circle cx="421.8" cy="44.3" r="0.45"/><circle cx="424.3" cy="45.2" r="0.45"/><circle cx="422.7" cy="45.6" r="0.45"/><circle cx="424.7" cy="45.0" r="0.45"/><circle cx="429.4" cy="44.6" r="0.45"/><circle cx="422.0" cy="45.4" r="0.45"/><circle cx="426.7" cy="45.2" r="0.45"/><circle cx="433.9" cy="42.3" r="0.45"/><circle cx="423.2" cy="43.9" r="0.45"/><circle cx="429.2" cy="44.2" r="0.45"/><circle cx="424.6" cy="45.0" r="0.45"/><circle cx="424.8" cy="44.3" r="0.45"/><circle cx="420.1" cy="46.0" r="0.45"/><circle cx="429.5" cy="43.1" r="0.45"/><circle cx="429.9" cy="43.8" r="0.45"/><circle cx="421.2" cy="47.5" r="0.45"/><circle cx="434.3" cy="43.2" r="0.45"/><circle cx="431.3" cy="43.1" r="0.45"/><circle cx="422.7" cy="46.8" r="0.45"/><circle cx="422.5" cy="46.5" r="0.45"/><circle cx="427.2" cy="43.1" r="0.45"/><circle cx="429.3" cy="42.9" r="0.45"/><circle cx="430.6" cy="43.1" r="0.45"/><circle cx="432.9" cy="43.2" r="0.45"/><circle cx="430.8" cy="44.0" r="0.45"/><circle cx="424.0" cy="43.1" r="0.45"/><circle cx="421.7" cy="46.9" r="0.45"/><circle cx="429.9" cy="43.7" r="0.45"/><circle cx="434.0" cy="42.3" r="0.45"/><circle cx="422.8" cy="46.6" r="0.45"/><circle cx="421.0" cy="45.1" r="0.45"/><circle cx="422.7" cy="46.5" r="0.45"/><circle cx="421.9" cy="46.5" r="0.45"/><circle cx="435.1" cy="42.5" r="0.45"/><circle cx="431.9" cy="43.1" r="0.45"/><circle cx="430.0" cy="43.7" r="0.45"/><circle cx="431.4" cy="42.1" r="0.45"/><circle cx="433.8" cy="43.6" r="0.45"/><circle cx="421.9" cy="45.6" r="0.45"/><circle cx="432.2" cy="43.7" r="0.45"/><circle cx="426.6" cy="46.5" r="0.45"/><circle cx="428.4" cy="43.8" r="0.45"/><circle cx="424.6" cy="44.7" r="0.45"/><circle cx="423.3" cy="45.7" r="0.45"/><circle cx="423.2" cy="45.8" r="0.45"/><circle cx="428.5" cy="44.9" r="0.45"/><circle cx="434.5" cy="42.4" r="0.45"/><circle cx="433.8" cy="42.6" r="0.45"/><circle cx="428.1" cy="44.7" r="0.45"/><circle cx="429.9" cy="42.6" r="0.45"/><circle cx="428.1" cy="44.4" r="0.45"/><circle cx="432.8" cy="41.5" r="0.45"/><circle cx="434.2" cy="43.4" r="0.45"/><circle cx="436.6" cy="42.0" r="0.45"/><circle cx="421.9" cy="46.1" r="0.45"/><circle cx="433.7" cy="43.3" r="0.45"/><circle cx="422.7" cy="46.7" r="0.45"/><circle cx="422.5" cy="45.0" r="0.45"/><circle cx="432.5" cy="45.1" r="0.45"/><circle cx="418.8" cy="46.5" r="0.45"/><circle cx="431.9" cy="44.4" r="0.45"/><circle cx="423.7" cy="45.1" r="0.45"/><circle cx="420.5" cy="47.2" r="0.45"/><circle cx="433.1" cy="43.3" r="0.45"/><circle cx="422.8" cy="45.4" r="0.45"/><circle cx="430.5" cy="44.3" r="0.45"/><circle cx="428.7" cy="44.9" r="0.45"/><circle cx="428.0" cy="45.0" r="0.45"/><circle cx="422.8" cy="47.4" r="0.45"/><circle cx="430.6" cy="43.1" r="0.45"/><circle cx="424.5" cy="45.6" r="0.45"/><circle cx="427.7" cy="43.2" r="0.45"/><circle cx="426.1" cy="46.2" r="0.45"/><circle cx="429.9" cy="42.5" r="0.45"/><circle cx="430.0" cy="45.2" r="0.45"/><circle cx="430.6" cy="42.6" r="0.45"/><circle cx="426.8" cy="45.5" r="0.45"/><circle cx="425.6" cy="44.3" r="0.45"/><circle cx="435.2" cy="43.2" r="0.45"/><circle cx="433.9" cy="42.3" r="0.45"/><circle cx="426.9" cy="44.8" r="0.45"/><circle cx="422.3" cy="46.8" r="0.45"/><circle cx="432.3" cy="43.7" r="0.45"/><circle cx="425.3" cy="44.4" r="0.45"/><circle cx="423.8" cy="45.1" r="0.45"/><circle cx="431.2" cy="43.8" r="0.45"/><circle cx="428.0" cy="44.5" r="0.45"/><circle cx="429.4" cy="43.6" r="0.45"/><circle cx="429.8" cy="42.4" r="0.45"/><circle cx="429.9" cy="43.4" r="0.45"/><circle cx="428.7" cy="43.1" r="0.45"/><circle cx="429.0" cy="43.6" r="0.45"/><circle cx="429.1" cy="44.2" r="0.45"/><circle cx="426.1" cy="44.4" r="0.45"/><circle cx="434.4" cy="41.2" r="0.45"/><circle cx="427.7" cy="44.4" r="0.45"/><circle cx="422.0" cy="46.2" r="0.45"/><circle cx="428.7" cy="44.5" r="0.45"/><circle cx="431.3" cy="43.4" r="0.45"/><circle cx="432.7" cy="42.9" r="0.45"/><circle cx="421.9" cy="45.8" r="0.45"/><circle cx="425.8" cy="45.3" r="0.45"/><circle cx="425.8" cy="45.2" r="0.45"/><circle cx="435.4" cy="41.7" r="0.45"/><circle cx="426.3" cy="44.8" r="0.45"/><circle cx="420.8" cy="45.5" r="0.45"/><circle cx="427.0" cy="44.2" r="0.45"/><circle cx="426.0" cy="44.8" r="0.45"/><circle cx="423.1" cy="45.3" r="0.45"/><circle cx="422.5" cy="45.6" r="0.45"/><circle cx="424.2" cy="45.1" r="0.45"/><circle cx="423.1" cy="44.9" r="0.45"/><circle cx="421.7" cy="44.2" r="0.45"/><circle cx="430.0" cy="43.5" r="0.45"/><circle cx="426.8" cy="43.6" r="0.45"/><circle cx="425.5" cy="44.1" r="0.45"/><circle cx="432.9" cy="42.3" r="0.45"/><circle cx="429.4" cy="44.4" r="0.45"/><circle cx="434.3" cy="41.9" r="0.45"/><circle cx="429.1" cy="43.3" r="0.45"/><circle cx="431.6" cy="42.3" r="0.45"/><circle cx="428.2" cy="45.5" r="0.45"/><circle cx="419.5" cy="45.5" r="0.45"/><circle cx="426.4" cy="44.9" r="0.45"/><circle cx="426.3" cy="45.1" r="0.45"/><circle cx="426.8" cy="42.6" r="0.45"/><circle cx="429.9" cy="43.4" r="0.45"/><circle cx="419.7" cy="45.8" r="0.45"/><circle cx="430.5" cy="43.1" r="0.45"/><circle cx="422.9" cy="47.0" r="0.45"/><circle cx="422.3" cy="47.3" r="0.45"/><circle cx="429.3" cy="45.2" r="0.45"/><circle cx="431.1" cy="43.0" r="0.45"/><circle cx="430.4" cy="42.4" r="0.45"/></g>
<g transform="translate(437.80,43.30) rotate(-25)" filter="url(#bl)"><ellipse cx="0" cy="0" rx="4.60" ry="3.00" fill="#4a66ff"/><ellipse cx="0" cy="0" rx="3.96" ry="2.58" fill="#22c0e8"/><ellipse cx="0" cy="0" rx="3.31" ry="2.16" fill="#3ee03a"/><ellipse cx="0" cy="0" rx="2.21" ry="1.44" fill="#c8e830"/><ellipse cx="0" cy="0" rx="1.47" ry="0.96" fill="#ff9a1a"/><ellipse cx="0" cy="0" rx="0.64" ry="0.42" fill="#f04a10"/></g>
<text x="414.00" y="63.70" font-size="2.2" fill="#666" text-anchor="start">GFP-</text>
<text x="414.00" y="66.30" font-size="2.2" fill="#666" text-anchor="start">99.8</text>
<text x="439.50" y="63.70" font-size="2.2" fill="#666" text-anchor="start">GFP+</text>
<text x="439.50" y="66.30" font-size="2.2" fill="#666" text-anchor="start">0.02</text>
<path d="M215.50,73.09 C215.56,73.09 215.76,73.09 215.89,73.09 C216.02,73.08 216.15,73.08 216.28,73.07 C216.40,73.06 216.53,73.05 216.66,73.03 C216.79,73.02 216.92,73.00 217.05,72.97 C217.18,72.94 217.31,72.90 217.44,72.84 C217.57,72.79 217.70,72.72 217.82,72.62 C217.95,72.52 218.08,72.41 218.21,72.25 C218.34,72.09 218.47,71.90 218.60,71.65 C218.73,71.39 218.86,71.10 218.99,70.72 C219.12,70.34 219.25,69.90 219.38,69.36 C219.50,68.81 219.63,68.19 219.76,67.45 C219.89,66.71 220.02,65.88 220.15,64.93 C220.28,63.98 220.41,62.91 220.54,61.75 C220.67,60.60 220.80,59.31 220.93,57.99 C221.05,56.66 221.18,55.22 221.31,53.80 C221.44,52.37 221.57,50.86 221.70,49.44 C221.83,48.03 221.96,46.58 222.09,45.29 C222.22,44.01 222.35,42.76 222.47,41.74 C222.60,40.73 222.73,39.82 222.86,39.18 C222.99,38.55 223.12,38.10 223.25,37.91 C223.38,37.72 223.51,37.79 223.64,38.05 C223.77,38.31 223.90,38.82 224.03,39.48 C224.15,40.15 224.28,41.05 224.41,42.05 C224.54,43.04 224.67,44.24 224.80,45.47 C224.93,46.70 225.06,48.08 225.19,49.42 C225.32,50.77 225.45,52.20 225.57,53.56 C225.70,54.92 225.83,56.29 225.96,57.57 C226.09,58.84 226.22,60.08 226.35,61.21 C226.48,62.33 226.61,63.38 226.74,64.33 C226.87,65.27 227.00,66.12 227.12,66.87 C227.25,67.62 227.38,68.27 227.51,68.84 C227.64,69.41 227.77,69.88 227.90,70.29 C228.03,70.70 228.16,71.03 228.29,71.32 C228.42,71.60 228.55,71.82 228.68,72.01 C228.80,72.20 228.93,72.34 229.06,72.46 C229.19,72.58 229.32,72.66 229.45,72.74 C229.58,72.81 229.71,72.86 229.84,72.90 C229.97,72.94 230.10,72.97 230.22,73.00 C230.35,73.02 230.48,73.03 230.61,73.05 C230.74,73.06 230.94,73.07 231.00,73.07 L231.00,73.10 L215.50,73.10 Z" fill="#8ba39f" stroke="#253030" stroke-width="0.8" stroke-linejoin="round"/>
<line x1="209.75" y1="34.75" x2="209.75" y2="73.10" stroke="#444" stroke-width="0.7"/>
<line x1="209.75" y1="73.10" x2="256.50" y2="73.10" stroke="#444" stroke-width="0.8"/>
<line x1="208.25" y1="73.10" x2="209.75" y2="73.10" stroke="#333" stroke-width="0.6"/>
<text x="207.75" y="74.00" font-size="2.4" fill="#555" text-anchor="end">0</text>
<line x1="208.25" y1="65.83" x2="209.75" y2="65.83" stroke="#333" stroke-width="0.6"/>
<text x="207.75" y="66.73" font-size="2.4" fill="#555" text-anchor="end">20</text>
<line x1="208.25" y1="58.56" x2="209.75" y2="58.56" stroke="#333" stroke-width="0.6"/>
<text x="207.75" y="59.46" font-size="2.4" fill="#555" text-anchor="end">40</text>
<line x1="208.25" y1="51.29" x2="209.75" y2="51.29" stroke="#333" stroke-width="0.6"/>
<text x="207.75" y="52.19" font-size="2.4" fill="#555" text-anchor="end">60</text>
<line x1="208.25" y1="44.02" x2="209.75" y2="44.02" stroke="#333" stroke-width="0.6"/>
<text x="207.75" y="44.92" font-size="2.4" fill="#555" text-anchor="end">80</text>
<line x1="208.25" y1="36.75" x2="209.75" y2="36.75" stroke="#333" stroke-width="0.6"/>
<text x="207.75" y="37.65" font-size="2.4" fill="#555" text-anchor="end">100</text>
<line x1="216.76" y1="73.10" x2="216.76" y2="74.40" stroke="#444" stroke-width="0.5"/>
<text x="216.76" y="76.70" font-size="2.3" fill="#6a6a6a" text-anchor="middle">10</text>
<line x1="232.19" y1="73.10" x2="232.19" y2="74.40" stroke="#444" stroke-width="0.5"/>
<text x="232.19" y="76.70" font-size="2.3" fill="#6a6a6a" text-anchor="middle">10</text>
<line x1="241.54" y1="73.10" x2="241.54" y2="74.40" stroke="#444" stroke-width="0.5"/>
<text x="241.54" y="76.70" font-size="2.3" fill="#6a6a6a" text-anchor="middle">10</text>
<line x1="250.89" y1="73.10" x2="250.89" y2="74.40" stroke="#444" stroke-width="0.5"/>
<text x="250.89" y="76.70" font-size="2.3" fill="#6a6a6a" text-anchor="middle">10</text>
<line x1="232.25" y1="63.50" x2="252.75" y2="63.50" stroke="#4a4a4a" stroke-width="0.6"/>
<line x1="232.25" y1="62.70" x2="232.25" y2="64.30" stroke="#4a4a4a" stroke-width="0.6"/>
<line x1="252.75" y1="62.70" x2="252.75" y2="64.30" stroke="#4a4a4a" stroke-width="0.6"/>
<text x="243.50" y="61.90" font-size="2.4" fill="#666" text-anchor="middle">M1</text>
<path d="M466.00,73.28 C466.09,73.28 466.35,73.27 466.52,73.26 C466.70,73.24 466.88,73.23 467.05,73.21 C467.23,73.19 467.40,73.16 467.57,73.12 C467.75,73.08 467.93,73.03 468.10,72.96 C468.28,72.89 468.45,72.81 468.62,72.69 C468.80,72.57 468.97,72.43 469.15,72.24 C469.32,72.05 469.50,71.83 469.68,71.53 C469.85,71.24 470.02,70.90 470.20,70.47 C470.38,70.04 470.55,69.54 470.73,68.95 C470.90,68.35 471.07,67.67 471.25,66.87 C471.43,66.08 471.60,65.19 471.77,64.19 C471.95,63.20 472.12,62.09 472.30,60.91 C472.48,59.73 472.65,58.44 472.82,57.12 C473.00,55.81 473.18,54.39 473.35,53.01 C473.53,51.64 473.70,50.20 473.88,48.88 C474.05,47.56 474.22,46.23 474.40,45.08 C474.57,43.93 474.75,42.85 474.93,41.99 C475.10,41.14 475.27,40.42 475.45,39.95 C475.62,39.49 475.80,39.24 475.98,39.20 C476.15,39.16 476.32,39.36 476.50,39.70 C476.68,40.05 476.85,40.59 477.02,41.26 C477.20,41.94 477.38,42.80 477.55,43.74 C477.73,44.68 477.90,45.78 478.07,46.90 C478.25,48.03 478.43,49.27 478.60,50.49 C478.78,51.71 478.95,52.99 479.12,54.22 C479.30,55.45 479.47,56.69 479.65,57.86 C479.82,59.02 480.00,60.16 480.18,61.20 C480.35,62.25 480.52,63.23 480.70,64.13 C480.88,65.02 481.05,65.84 481.23,66.57 C481.40,67.30 481.57,67.95 481.75,68.52 C481.93,69.10 482.10,69.59 482.27,70.02 C482.45,70.45 482.62,70.81 482.80,71.12 C482.98,71.43 483.15,71.68 483.32,71.90 C483.50,72.11 483.68,72.28 483.85,72.43 C484.03,72.57 484.20,72.68 484.38,72.77 C484.55,72.87 484.72,72.93 484.90,72.99 C485.07,73.05 485.25,73.09 485.43,73.13 C485.60,73.16 485.77,73.18 485.95,73.21 C486.12,73.23 486.30,73.24 486.48,73.25 C486.65,73.26 486.91,73.27 487.00,73.27 L487.00,73.30 L466.00,73.30 Z" fill="#8ba39f" stroke="#253030" stroke-width="0.8" stroke-linejoin="round"/>
<line x1="464.00" y1="34.75" x2="464.00" y2="73.30" stroke="#444" stroke-width="0.7"/>
<line x1="464.00" y1="73.30" x2="511.50" y2="73.30" stroke="#444" stroke-width="0.8"/>
<line x1="462.50" y1="73.30" x2="464.00" y2="73.30" stroke="#333" stroke-width="0.6"/>
<text x="462.00" y="74.20" font-size="2.4" fill="#555" text-anchor="end">0</text>
<line x1="462.50" y1="65.99" x2="464.00" y2="65.99" stroke="#333" stroke-width="0.6"/>
<text x="462.00" y="66.89" font-size="2.4" fill="#555" text-anchor="end">20</text>
<line x1="462.50" y1="58.68" x2="464.00" y2="58.68" stroke="#333" stroke-width="0.6"/>
<text x="462.00" y="59.58" font-size="2.4" fill="#555" text-anchor="end">40</text>
<line x1="462.50" y1="51.37" x2="464.00" y2="51.37" stroke="#333" stroke-width="0.6"/>
<text x="462.00" y="52.27" font-size="2.4" fill="#555" text-anchor="end">60</text>
<line x1="462.50" y1="44.06" x2="464.00" y2="44.06" stroke="#333" stroke-width="0.6"/>
<text x="462.00" y="44.96" font-size="2.4" fill="#555" text-anchor="end">80</text>
<line x1="462.50" y1="36.75" x2="464.00" y2="36.75" stroke="#333" stroke-width="0.6"/>
<text x="462.00" y="37.65" font-size="2.4" fill="#555" text-anchor="end">100</text>
<line x1="471.12" y1="73.30" x2="471.12" y2="74.60" stroke="#444" stroke-width="0.5"/>
<text x="471.12" y="76.90" font-size="2.3" fill="#6a6a6a" text-anchor="middle">10</text>
<line x1="486.80" y1="73.30" x2="486.80" y2="74.60" stroke="#444" stroke-width="0.5"/>
<text x="486.80" y="76.90" font-size="2.3" fill="#6a6a6a" text-anchor="middle">10</text>
<line x1="496.30" y1="73.30" x2="496.30" y2="74.60" stroke="#444" stroke-width="0.5"/>
<text x="496.30" y="76.90" font-size="2.3" fill="#6a6a6a" text-anchor="middle">10</text>
<line x1="505.80" y1="73.30" x2="505.80" y2="74.60" stroke="#444" stroke-width="0.5"/>
<text x="505.80" y="76.90" font-size="2.3" fill="#6a6a6a" text-anchor="middle">10</text>
<line x1="489.00" y1="63.70" x2="507.80" y2="63.70" stroke="#4a4a4a" stroke-width="0.6"/>
<line x1="489.00" y1="62.90" x2="489.00" y2="64.50" stroke="#4a4a4a" stroke-width="0.6"/>
<line x1="507.80" y1="62.90" x2="507.80" y2="64.50" stroke="#4a4a4a" stroke-width="0.6"/>
<text x="499.40" y="62.10" font-size="2.4" fill="#666" text-anchor="middle">M1</text>
<line x1="82.50" y1="90.90" x2="82.50" y2="130.10" stroke="#b8b8b8" stroke-width="0.8"/>
<path d="M49.60,130.10 C49.88,129.62 50.72,128.65 51.30,127.20 C51.88,125.75 52.62,122.90 53.10,121.40 C53.58,119.90 53.87,118.87 54.20,118.20 C54.53,117.53 54.75,117.28 55.10,117.40 C55.45,117.52 55.90,119.18 56.30,118.90 C56.70,118.62 57.08,117.97 57.50,115.70 C57.92,113.43 58.35,108.53 58.80,105.30 C59.25,102.07 59.72,97.45 60.20,96.30 C60.68,95.15 61.25,97.10 61.70,98.40 C62.15,99.70 62.52,101.42 62.90,104.10 C63.28,106.78 63.62,111.42 64.00,114.50 C64.38,117.58 64.75,120.28 65.20,122.60 C65.65,124.92 66.22,127.15 66.70,128.40 C67.18,129.65 67.87,129.82 68.10,130.10 L68.10,130.10 L49.60,130.10 Z" fill="#8ba39f" stroke="#253030" stroke-width="0.8" stroke-linejoin="round"/>
<line x1="35.80" y1="90.90" x2="35.80" y2="130.10" stroke="#444" stroke-width="0.7"/>
<line x1="35.80" y1="130.10" x2="82.50" y2="130.10" stroke="#444" stroke-width="0.8"/>
<line x1="34.30" y1="130.10" x2="35.80" y2="130.10" stroke="#333" stroke-width="0.6"/>
<text x="33.80" y="131.00" font-size="2.4" fill="#555" text-anchor="end">0</text>
<line x1="34.30" y1="122.66" x2="35.80" y2="122.66" stroke="#333" stroke-width="0.6"/>
<text x="33.80" y="123.56" font-size="2.4" fill="#555" text-anchor="end">20</text>
<line x1="34.30" y1="115.22" x2="35.80" y2="115.22" stroke="#333" stroke-width="0.6"/>
<text x="33.80" y="116.12" font-size="2.4" fill="#555" text-anchor="end">40</text>
<line x1="34.30" y1="107.78" x2="35.80" y2="107.78" stroke="#333" stroke-width="0.6"/>
<text x="33.80" y="108.68" font-size="2.4" fill="#555" text-anchor="end">60</text>
<line x1="34.30" y1="100.34" x2="35.80" y2="100.34" stroke="#333" stroke-width="0.6"/>
<text x="33.80" y="101.24" font-size="2.4" fill="#555" text-anchor="end">80</text>
<line x1="34.30" y1="92.90" x2="35.80" y2="92.90" stroke="#333" stroke-width="0.6"/>
<text x="33.80" y="93.80" font-size="2.4" fill="#555" text-anchor="end">100</text>
<line x1="42.80" y1="130.10" x2="42.80" y2="131.40" stroke="#444" stroke-width="0.5"/>
<text x="42.80" y="133.70" font-size="2.3" fill="#6a6a6a" text-anchor="middle">10</text>
<line x1="58.22" y1="130.10" x2="58.22" y2="131.40" stroke="#444" stroke-width="0.5"/>
<text x="58.22" y="133.70" font-size="2.3" fill="#6a6a6a" text-anchor="middle">10</text>
<line x1="67.56" y1="130.10" x2="67.56" y2="131.40" stroke="#444" stroke-width="0.5"/>
<text x="67.56" y="133.70" font-size="2.3" fill="#6a6a6a" text-anchor="middle">10</text>
<line x1="76.90" y1="130.10" x2="76.90" y2="131.40" stroke="#444" stroke-width="0.5"/>
<text x="76.90" y="133.70" font-size="2.3" fill="#6a6a6a" text-anchor="middle">10</text>
<line x1="58.30" y1="120.50" x2="79.00" y2="120.50" stroke="#4a4a4a" stroke-width="0.6"/>
<line x1="58.30" y1="119.70" x2="58.30" y2="121.30" stroke="#4a4a4a" stroke-width="0.6"/>
<line x1="79.00" y1="119.70" x2="79.00" y2="121.30" stroke="#4a4a4a" stroke-width="0.6"/>
<text x="69.65" y="118.90" font-size="2.4" fill="#666" text-anchor="middle">M1</text>
<text x="36.70" y="98.60" font-size="7.5" font-weight="bold" fill="#d0101e" textLength="21.60" lengthAdjust="spacingAndGlyphs">70.4%</text>
<line x1="140.50" y1="90.90" x2="140.50" y2="130.10" stroke="#b8b8b8" stroke-width="0.8"/>
<path d="M106.50,130.10 C106.83,129.43 107.93,128.32 108.50,126.10 C109.07,123.88 109.55,120.47 109.90,116.80 C110.25,113.13 110.40,107.45 110.60,104.10 C110.80,100.75 110.93,98.18 111.10,96.70 C111.27,95.22 111.37,95.20 111.60,95.20 C111.83,95.20 112.17,94.43 112.50,96.70 C112.83,98.97 113.22,106.40 113.60,108.80 C113.98,111.20 114.45,110.90 114.80,111.10 C115.15,111.30 115.37,110.00 115.70,110.00 C116.03,110.00 116.45,111.08 116.80,111.10 C117.15,111.12 117.50,109.33 117.80,110.10 C118.10,110.87 118.28,113.23 118.60,115.70 C118.92,118.17 119.23,122.60 119.70,124.90 C120.17,127.20 120.92,128.63 121.40,129.50 C121.88,130.37 122.40,130.00 122.60,130.10 L122.60,130.10 L106.50,130.10 Z" fill="#8ba39f" stroke="#253030" stroke-width="0.8" stroke-linejoin="round"/>
<line x1="93.50" y1="90.90" x2="93.50" y2="130.10" stroke="#444" stroke-width="0.7"/>
<line x1="93.50" y1="130.10" x2="140.50" y2="130.10" stroke="#444" stroke-width="0.8"/>
<line x1="92.00" y1="130.10" x2="93.50" y2="130.10" stroke="#333" stroke-width="0.6"/>
<text x="91.50" y="131.00" font-size="2.4" fill="#555" text-anchor="end">0</text>
<line x1="92.00" y1="122.66" x2="93.50" y2="122.66" stroke="#333" stroke-width="0.6"/>
<text x="91.50" y="123.56" font-size="2.4" fill="#555" text-anchor="end">20</text>
<line x1="92.00" y1="115.22" x2="93.50" y2="115.22" stroke="#333" stroke-width="0.6"/>
<text x="91.50" y="116.12" font-size="2.4" fill="#555" text-anchor="end">40</text>
<line x1="92.00" y1="107.78" x2="93.50" y2="107.78" stroke="#333" stroke-width="0.6"/>
<text x="91.50" y="108.68" font-size="2.4" fill="#555" text-anchor="end">60</text>
<line x1="92.00" y1="100.34" x2="93.50" y2="100.34" stroke="#333" stroke-width="0.6"/>
<text x="91.50" y="101.24" font-size="2.4" fill="#555" text-anchor="end">80</text>
<line x1="92.00" y1="92.90" x2="93.50" y2="92.90" stroke="#333" stroke-width="0.6"/>
<text x="91.50" y="93.80" font-size="2.4" fill="#555" text-anchor="end">100</text>
<line x1="100.55" y1="130.10" x2="100.55" y2="131.40" stroke="#444" stroke-width="0.5"/>
<text x="100.55" y="133.70" font-size="2.3" fill="#6a6a6a" text-anchor="middle">10</text>
<line x1="116.06" y1="130.10" x2="116.06" y2="131.40" stroke="#444" stroke-width="0.5"/>
<text x="116.06" y="133.70" font-size="2.3" fill="#6a6a6a" text-anchor="middle">10</text>
<line x1="125.46" y1="130.10" x2="125.46" y2="131.40" stroke="#444" stroke-width="0.5"/>
<text x="125.46" y="133.70" font-size="2.3" fill="#6a6a6a" text-anchor="middle">10</text>
<line x1="134.86" y1="130.10" x2="134.86" y2="131.40" stroke="#444" stroke-width="0.5"/>
<text x="134.86" y="133.70" font-size="2.3" fill="#6a6a6a" text-anchor="middle">10</text>
<line x1="115.70" y1="120.60" x2="136.40" y2="120.60" stroke="#4a4a4a" stroke-width="0.6"/>
<line x1="115.70" y1="119.80" x2="115.70" y2="121.40" stroke="#4a4a4a" stroke-width="0.6"/>
<line x1="136.40" y1="119.80" x2="136.40" y2="121.40" stroke="#4a4a4a" stroke-width="0.6"/>
<text x="127.05" y="119.00" font-size="2.4" fill="#666" text-anchor="middle">M1</text>
<text x="118.60" y="98.60" font-size="7.5" font-weight="bold" fill="#d0101e" textLength="21.90" lengthAdjust="spacingAndGlyphs">29.4%</text>
<path d="M162.70,130.10 C163.08,129.62 164.32,128.65 165.00,127.20 C165.68,125.75 166.28,123.17 166.80,121.40 C167.32,119.63 167.63,117.13 168.10,116.60 C168.57,116.07 169.05,119.12 169.60,118.20 C170.15,117.28 170.82,114.22 171.40,111.10 C171.98,107.98 172.57,102.35 173.10,99.50 C173.63,96.65 174.15,94.38 174.60,94.00 C175.05,93.62 175.42,95.12 175.80,97.20 C176.18,99.28 176.48,103.03 176.90,106.50 C177.32,109.97 177.83,114.55 178.30,118.00 C178.77,121.45 179.22,125.18 179.70,127.20 C180.18,129.22 180.95,129.62 181.20,130.10 L181.20,130.10 L162.70,130.10 Z" fill="#8ba39f" stroke="#253030" stroke-width="0.8" stroke-linejoin="round"/>
<line x1="151.20" y1="90.90" x2="151.20" y2="130.10" stroke="#444" stroke-width="0.7"/>
<line x1="151.20" y1="130.10" x2="198.50" y2="130.10" stroke="#444" stroke-width="0.8"/>
<line x1="149.70" y1="130.10" x2="151.20" y2="130.10" stroke="#333" stroke-width="0.6"/>
<text x="149.20" y="131.00" font-size="2.4" fill="#555" text-anchor="end">0</text>
<line x1="149.70" y1="122.66" x2="151.20" y2="122.66" stroke="#333" stroke-width="0.6"/>
<text x="149.20" y="123.56" font-size="2.4" fill="#555" text-anchor="end">20</text>
<line x1="149.70" y1="115.22" x2="151.20" y2="115.22" stroke="#333" stroke-width="0.6"/>
<text x="149.20" y="116.12" font-size="2.4" fill="#555" text-anchor="end">40</text>
<line x1="149.70" y1="107.78" x2="151.20" y2="107.78" stroke="#333" stroke-width="0.6"/>
<text x="149.20" y="108.68" font-size="2.4" fill="#555" text-anchor="end">60</text>
<line x1="149.70" y1="100.34" x2="151.20" y2="100.34" stroke="#333" stroke-width="0.6"/>
<text x="149.20" y="101.24" font-size="2.4" fill="#555" text-anchor="end">80</text>
<line x1="149.70" y1="92.90" x2="151.20" y2="92.90" stroke="#333" stroke-width="0.6"/>
<text x="149.20" y="93.80" font-size="2.4" fill="#555" text-anchor="end">100</text>
<line x1="158.29" y1="130.10" x2="158.29" y2="131.40" stroke="#444" stroke-width="0.5"/>
<text x="158.29" y="133.70" font-size="2.3" fill="#6a6a6a" text-anchor="middle">10</text>
<line x1="173.90" y1="130.10" x2="173.90" y2="131.40" stroke="#444" stroke-width="0.5"/>
<text x="173.90" y="133.70" font-size="2.3" fill="#6a6a6a" text-anchor="middle">10</text>
<line x1="183.36" y1="130.10" x2="183.36" y2="131.40" stroke="#444" stroke-width="0.5"/>
<text x="183.36" y="133.70" font-size="2.3" fill="#6a6a6a" text-anchor="middle">10</text>
<line x1="192.82" y1="130.10" x2="192.82" y2="131.40" stroke="#444" stroke-width="0.5"/>
<text x="192.82" y="133.70" font-size="2.3" fill="#6a6a6a" text-anchor="middle">10</text>
<line x1="176.20" y1="121.40" x2="194.40" y2="121.40" stroke="#4a4a4a" stroke-width="0.6"/>
<line x1="176.20" y1="120.60" x2="176.20" y2="122.20" stroke="#4a4a4a" stroke-width="0.6"/>
<line x1="194.40" y1="120.60" x2="194.40" y2="122.20" stroke="#4a4a4a" stroke-width="0.6"/>
<text x="186.30" y="119.80" font-size="2.4" fill="#666" text-anchor="middle">M1</text>
<text x="176.60" y="98.60" font-size="7.5" font-weight="bold" fill="#d0101e" textLength="21.10" lengthAdjust="spacingAndGlyphs">14.8%</text>
<path d="M221.00,130.10 C221.30,129.43 222.22,128.70 222.80,126.10 C223.38,123.50 224.03,118.35 224.50,114.50 C224.97,110.65 225.22,106.07 225.60,103.00 C225.98,99.93 226.47,97.55 226.80,96.10 C227.13,94.65 227.32,94.20 227.60,94.30 C227.88,94.40 228.15,94.87 228.50,96.70 C228.85,98.53 229.22,102.52 229.70,105.30 C230.18,108.08 230.83,111.10 231.40,113.40 C231.97,115.70 232.52,117.18 233.10,119.10 C233.68,121.02 234.32,123.27 234.90,124.90 C235.48,126.53 235.93,128.03 236.60,128.90 C237.27,129.77 238.52,129.90 238.90,130.10 L238.90,130.10 L221.00,130.10 Z" fill="#8ba39f" stroke="#253030" stroke-width="0.8" stroke-linejoin="round"/>
<line x1="209.50" y1="90.90" x2="209.50" y2="130.10" stroke="#444" stroke-width="0.7"/>
<line x1="209.50" y1="130.10" x2="256.00" y2="130.10" stroke="#444" stroke-width="0.8"/>
<line x1="208.00" y1="130.10" x2="209.50" y2="130.10" stroke="#333" stroke-width="0.6"/>
<text x="207.50" y="131.00" font-size="2.4" fill="#555" text-anchor="end">0</text>
<line x1="208.00" y1="122.66" x2="209.50" y2="122.66" stroke="#333" stroke-width="0.6"/>
<text x="207.50" y="123.56" font-size="2.4" fill="#555" text-anchor="end">20</text>
<line x1="208.00" y1="115.22" x2="209.50" y2="115.22" stroke="#333" stroke-width="0.6"/>
<text x="207.50" y="116.12" font-size="2.4" fill="#555" text-anchor="end">40</text>
<line x1="208.00" y1="107.78" x2="209.50" y2="107.78" stroke="#333" stroke-width="0.6"/>
<text x="207.50" y="108.68" font-size="2.4" fill="#555" text-anchor="end">60</text>
<line x1="208.00" y1="100.34" x2="209.50" y2="100.34" stroke="#333" stroke-width="0.6"/>
<text x="207.50" y="101.24" font-size="2.4" fill="#555" text-anchor="end">80</text>
<line x1="208.00" y1="92.90" x2="209.50" y2="92.90" stroke="#333" stroke-width="0.6"/>
<text x="207.50" y="93.80" font-size="2.4" fill="#555" text-anchor="end">100</text>
<line x1="216.47" y1="130.10" x2="216.47" y2="131.40" stroke="#444" stroke-width="0.5"/>
<text x="216.47" y="133.70" font-size="2.3" fill="#6a6a6a" text-anchor="middle">10</text>
<line x1="231.82" y1="130.10" x2="231.82" y2="131.40" stroke="#444" stroke-width="0.5"/>
<text x="231.82" y="133.70" font-size="2.3" fill="#6a6a6a" text-anchor="middle">10</text>
<line x1="241.12" y1="130.10" x2="241.12" y2="131.40" stroke="#444" stroke-width="0.5"/>
<text x="241.12" y="133.70" font-size="2.3" fill="#6a6a6a" text-anchor="middle">10</text>
<line x1="250.42" y1="130.10" x2="250.42" y2="131.40" stroke="#444" stroke-width="0.5"/>
<text x="250.42" y="133.70" font-size="2.3" fill="#6a6a6a" text-anchor="middle">10</text>
<line x1="234.10" y1="121.40" x2="252.50" y2="121.40" stroke="#4a4a4a" stroke-width="0.6"/>
<line x1="234.10" y1="120.60" x2="234.10" y2="122.20" stroke="#4a4a4a" stroke-width="0.6"/>
<line x1="252.50" y1="120.60" x2="252.50" y2="122.20" stroke="#4a4a4a" stroke-width="0.6"/>
<text x="244.30" y="119.80" font-size="2.4" fill="#666" text-anchor="middle">M1</text>
<text x="238.00" y="98.60" font-size="7.5" font-weight="bold" fill="#d0101e" textLength="16.80" lengthAdjust="spacingAndGlyphs">3.1%</text>
<path d="M299.40,130.10 C299.88,129.82 301.43,128.98 302.30,128.40 C303.17,127.82 303.93,127.15 304.60,126.60 C305.27,126.05 305.72,125.28 306.30,125.10 C306.88,124.92 307.52,125.50 308.10,125.50 C308.68,125.50 309.13,125.00 309.80,125.10 C310.47,125.20 311.43,126.32 312.10,126.10 C312.77,125.88 313.28,124.97 313.80,123.80 C314.32,122.63 314.77,121.60 315.20,119.10 C315.63,116.60 316.00,112.07 316.40,108.80 C316.80,105.53 317.27,101.62 317.60,99.50 C317.93,97.38 318.10,96.28 318.40,96.10 C318.70,95.92 319.05,96.28 319.40,98.40 C319.75,100.52 320.12,105.35 320.50,108.80 C320.88,112.25 321.32,116.22 321.70,119.10 C322.08,121.98 322.28,124.27 322.80,126.10 C323.32,127.93 324.47,129.43 324.80,130.10 L324.80,130.10 L299.40,130.10 Z" fill="#8ba39f" stroke="#253030" stroke-width="0.8" stroke-linejoin="round"/>
<line x1="290.20" y1="90.90" x2="290.20" y2="130.10" stroke="#444" stroke-width="0.7"/>
<line x1="290.20" y1="130.10" x2="337.20" y2="130.10" stroke="#444" stroke-width="0.8"/>
<line x1="288.70" y1="130.10" x2="290.20" y2="130.10" stroke="#333" stroke-width="0.6"/>
<text x="288.20" y="131.00" font-size="2.4" fill="#555" text-anchor="end">0</text>
<line x1="288.70" y1="122.66" x2="290.20" y2="122.66" stroke="#333" stroke-width="0.6"/>
<text x="288.20" y="123.56" font-size="2.4" fill="#555" text-anchor="end">20</text>
<line x1="288.70" y1="115.22" x2="290.20" y2="115.22" stroke="#333" stroke-width="0.6"/>
<text x="288.20" y="116.12" font-size="2.4" fill="#555" text-anchor="end">40</text>
<line x1="288.70" y1="107.78" x2="290.20" y2="107.78" stroke="#333" stroke-width="0.6"/>
<text x="288.20" y="108.68" font-size="2.4" fill="#555" text-anchor="end">60</text>
<line x1="288.70" y1="100.34" x2="290.20" y2="100.34" stroke="#333" stroke-width="0.6"/>
<text x="288.20" y="101.24" font-size="2.4" fill="#555" text-anchor="end">80</text>
<line x1="288.70" y1="92.90" x2="290.20" y2="92.90" stroke="#333" stroke-width="0.6"/>
<text x="288.20" y="93.80" font-size="2.4" fill="#555" text-anchor="end">100</text>
<line x1="297.25" y1="130.10" x2="297.25" y2="131.40" stroke="#444" stroke-width="0.5"/>
<text x="297.25" y="133.70" font-size="2.3" fill="#6a6a6a" text-anchor="middle">10</text>
<line x1="312.76" y1="130.10" x2="312.76" y2="131.40" stroke="#444" stroke-width="0.5"/>
<text x="312.76" y="133.70" font-size="2.3" fill="#6a6a6a" text-anchor="middle">10</text>
<line x1="322.16" y1="130.10" x2="322.16" y2="131.40" stroke="#444" stroke-width="0.5"/>
<text x="322.16" y="133.70" font-size="2.3" fill="#6a6a6a" text-anchor="middle">10</text>
<line x1="331.56" y1="130.10" x2="331.56" y2="131.40" stroke="#444" stroke-width="0.5"/>
<text x="331.56" y="133.70" font-size="2.3" fill="#6a6a6a" text-anchor="middle">10</text>
<line x1="315.20" y1="121.40" x2="333.20" y2="121.40" stroke="#4a4a4a" stroke-width="0.6"/>
<line x1="315.20" y1="120.60" x2="315.20" y2="122.20" stroke="#4a4a4a" stroke-width="0.6"/>
<line x1="333.20" y1="120.60" x2="333.20" y2="122.20" stroke="#4a4a4a" stroke-width="0.6"/>
<text x="325.20" y="119.80" font-size="2.4" fill="#666" text-anchor="middle">M1</text>
<text x="292.50" y="98.60" font-size="7.5" font-weight="bold" fill="#1a40c0" textLength="21.90" lengthAdjust="spacingAndGlyphs">72.6%</text>
<path d="M353.40,130.10 C353.78,129.52 355.03,127.85 355.70,126.60 C356.37,125.35 356.83,123.75 357.40,122.60 C357.97,121.45 358.58,120.37 359.10,119.70 C359.62,119.03 360.02,118.40 360.50,118.60 C360.98,118.80 361.45,120.72 362.00,120.90 C362.55,121.08 363.22,119.95 363.80,119.70 C364.38,119.45 364.93,119.68 365.50,119.40 C366.07,119.12 366.62,119.38 367.20,118.00 C367.78,116.62 368.42,113.42 369.00,111.10 C369.58,108.78 370.18,106.12 370.70,104.10 C371.22,102.08 371.68,99.67 372.10,99.00 C372.52,98.33 372.77,98.67 373.20,100.10 C373.63,101.53 374.20,104.23 374.70,107.60 C375.20,110.97 375.72,117.03 376.20,120.30 C376.68,123.57 377.08,125.57 377.60,127.20 C378.12,128.83 379.02,129.62 379.30,130.10 L379.30,130.10 L353.40,130.10 Z" fill="#8ba39f" stroke="#253030" stroke-width="0.8" stroke-linejoin="round"/>
<line x1="347.60" y1="90.90" x2="347.60" y2="130.10" stroke="#444" stroke-width="0.7"/>
<line x1="347.60" y1="130.10" x2="394.90" y2="130.10" stroke="#444" stroke-width="0.8"/>
<line x1="346.10" y1="130.10" x2="347.60" y2="130.10" stroke="#333" stroke-width="0.6"/>
<text x="345.60" y="131.00" font-size="2.4" fill="#555" text-anchor="end">0</text>
<line x1="346.10" y1="122.66" x2="347.60" y2="122.66" stroke="#333" stroke-width="0.6"/>
<text x="345.60" y="123.56" font-size="2.4" fill="#555" text-anchor="end">20</text>
<line x1="346.10" y1="115.22" x2="347.60" y2="115.22" stroke="#333" stroke-width="0.6"/>
<text x="345.60" y="116.12" font-size="2.4" fill="#555" text-anchor="end">40</text>
<line x1="346.10" y1="107.78" x2="347.60" y2="107.78" stroke="#333" stroke-width="0.6"/>
<text x="345.60" y="108.68" font-size="2.4" fill="#555" text-anchor="end">60</text>
<line x1="346.10" y1="100.34" x2="347.60" y2="100.34" stroke="#333" stroke-width="0.6"/>
<text x="345.60" y="101.24" font-size="2.4" fill="#555" text-anchor="end">80</text>
<line x1="346.10" y1="92.90" x2="347.60" y2="92.90" stroke="#333" stroke-width="0.6"/>
<text x="345.60" y="93.80" font-size="2.4" fill="#555" text-anchor="end">100</text>
<line x1="354.69" y1="130.10" x2="354.69" y2="131.40" stroke="#444" stroke-width="0.5"/>
<text x="354.69" y="133.70" font-size="2.3" fill="#6a6a6a" text-anchor="middle">10</text>
<line x1="370.30" y1="130.10" x2="370.30" y2="131.40" stroke="#444" stroke-width="0.5"/>
<text x="370.30" y="133.70" font-size="2.3" fill="#6a6a6a" text-anchor="middle">10</text>
<line x1="379.76" y1="130.10" x2="379.76" y2="131.40" stroke="#444" stroke-width="0.5"/>
<text x="379.76" y="133.70" font-size="2.3" fill="#6a6a6a" text-anchor="middle">10</text>
<line x1="389.22" y1="130.10" x2="389.22" y2="131.40" stroke="#444" stroke-width="0.5"/>
<text x="389.22" y="133.70" font-size="2.3" fill="#6a6a6a" text-anchor="middle">10</text>
<line x1="373.20" y1="121.40" x2="390.50" y2="121.40" stroke="#4a4a4a" stroke-width="0.6"/>
<line x1="373.20" y1="120.60" x2="373.20" y2="122.20" stroke="#4a4a4a" stroke-width="0.6"/>
<line x1="390.50" y1="120.60" x2="390.50" y2="122.20" stroke="#4a4a4a" stroke-width="0.6"/>
<text x="382.85" y="119.80" font-size="2.4" fill="#666" text-anchor="middle">M1</text>
<text x="373.20" y="98.60" font-size="7.5" font-weight="bold" fill="#1a40c0" textLength="21.70" lengthAdjust="spacingAndGlyphs">26.5%</text>
<line x1="453.50" y1="90.90" x2="453.50" y2="130.10" stroke="#b8b8b8" stroke-width="0.8"/>
<path d="M410.80,130.10 C411.08,129.82 411.92,129.45 412.50,128.40 C413.08,127.35 413.72,125.53 414.30,123.80 C414.88,122.07 415.43,119.45 416.00,118.00 C416.57,116.55 417.12,115.33 417.70,115.10 C418.28,114.87 418.82,116.40 419.50,116.60 C420.18,116.80 421.03,116.45 421.80,116.30 C422.57,116.15 423.43,116.28 424.10,115.70 C424.77,115.12 425.27,114.73 425.80,112.80 C426.33,110.87 426.82,106.70 427.30,104.10 C427.78,101.50 428.32,98.73 428.70,97.20 C429.08,95.67 429.32,94.70 429.60,94.90 C429.88,95.10 430.07,95.70 430.40,98.40 C430.73,101.10 431.22,107.07 431.60,111.10 C431.98,115.13 432.23,119.63 432.70,122.60 C433.17,125.57 433.92,127.65 434.40,128.90 C434.88,130.15 435.40,129.90 435.60,130.10 L435.60,130.10 L410.80,130.10 Z" fill="#8ba39f" stroke="#253030" stroke-width="0.8" stroke-linejoin="round"/>
<line x1="406.20" y1="90.90" x2="406.20" y2="130.10" stroke="#444" stroke-width="0.7"/>
<line x1="406.20" y1="130.10" x2="453.50" y2="130.10" stroke="#444" stroke-width="0.8"/>
<line x1="404.70" y1="130.10" x2="406.20" y2="130.10" stroke="#333" stroke-width="0.6"/>
<text x="404.20" y="131.00" font-size="2.4" fill="#555" text-anchor="end">0</text>
<line x1="404.70" y1="122.66" x2="406.20" y2="122.66" stroke="#333" stroke-width="0.6"/>
<text x="404.20" y="123.56" font-size="2.4" fill="#555" text-anchor="end">20</text>
<line x1="404.70" y1="115.22" x2="406.20" y2="115.22" stroke="#333" stroke-width="0.6"/>
<text x="404.20" y="116.12" font-size="2.4" fill="#555" text-anchor="end">40</text>
<line x1="404.70" y1="107.78" x2="406.20" y2="107.78" stroke="#333" stroke-width="0.6"/>
<text x="404.20" y="108.68" font-size="2.4" fill="#555" text-anchor="end">60</text>
<line x1="404.70" y1="100.34" x2="406.20" y2="100.34" stroke="#333" stroke-width="0.6"/>
<text x="404.20" y="101.24" font-size="2.4" fill="#555" text-anchor="end">80</text>
<line x1="404.70" y1="92.90" x2="406.20" y2="92.90" stroke="#333" stroke-width="0.6"/>
<text x="404.20" y="93.80" font-size="2.4" fill="#555" text-anchor="end">100</text>
<line x1="413.30" y1="130.10" x2="413.30" y2="131.40" stroke="#444" stroke-width="0.5"/>
<text x="413.30" y="133.70" font-size="2.3" fill="#6a6a6a" text-anchor="middle">10</text>
<line x1="428.90" y1="130.10" x2="428.90" y2="131.40" stroke="#444" stroke-width="0.5"/>
<text x="428.90" y="133.70" font-size="2.3" fill="#6a6a6a" text-anchor="middle">10</text>
<line x1="438.36" y1="130.10" x2="438.36" y2="131.40" stroke="#444" stroke-width="0.5"/>
<text x="438.36" y="133.70" font-size="2.3" fill="#6a6a6a" text-anchor="middle">10</text>
<line x1="447.82" y1="130.10" x2="447.82" y2="131.40" stroke="#444" stroke-width="0.5"/>
<text x="447.82" y="133.70" font-size="2.3" fill="#6a6a6a" text-anchor="middle">10</text>
<line x1="431.60" y1="121.40" x2="448.50" y2="121.40" stroke="#4a4a4a" stroke-width="0.6"/>
<line x1="431.60" y1="120.60" x2="431.60" y2="122.20" stroke="#4a4a4a" stroke-width="0.6"/>
<line x1="448.50" y1="120.60" x2="448.50" y2="122.20" stroke="#4a4a4a" stroke-width="0.6"/>
<text x="441.05" y="119.80" font-size="2.4" fill="#666" text-anchor="middle">M1</text>
<text x="435.00" y="98.60" font-size="7.5" font-weight="bold" fill="#1a40c0" textLength="17.30" lengthAdjust="spacingAndGlyphs">6.9%</text>
<path d="M467.20,130.10 C467.58,129.82 468.82,129.65 469.50,128.40 C470.18,127.15 470.75,125.10 471.30,122.60 C471.85,120.10 472.33,116.67 472.80,113.40 C473.27,110.13 473.68,105.40 474.10,103.00 C474.52,100.60 474.95,100.30 475.30,99.00 C475.65,97.70 475.92,95.12 476.20,95.20 C476.48,95.28 476.67,98.30 477.00,99.50 C477.33,100.70 477.72,101.82 478.20,102.40 C478.68,102.98 479.33,103.10 479.90,103.00 C480.47,102.90 481.07,101.70 481.60,101.80 C482.13,101.90 482.52,102.73 483.10,103.60 C483.68,104.47 484.48,105.37 485.10,107.00 C485.72,108.63 486.28,111.00 486.80,113.40 C487.32,115.80 487.77,119.10 488.20,121.40 C488.63,123.70 488.87,125.75 489.40,127.20 C489.93,128.65 491.07,129.62 491.40,130.10 L491.40,130.10 L467.20,130.10 Z" fill="#8ba39f" stroke="#253030" stroke-width="0.8" stroke-linejoin="round"/>
<line x1="464.90" y1="90.90" x2="464.90" y2="130.10" stroke="#444" stroke-width="0.7"/>
<line x1="464.90" y1="130.10" x2="511.30" y2="130.10" stroke="#444" stroke-width="0.8"/>
<line x1="463.40" y1="130.10" x2="464.90" y2="130.10" stroke="#333" stroke-width="0.6"/>
<text x="462.90" y="131.00" font-size="2.4" fill="#555" text-anchor="end">0</text>
<line x1="463.40" y1="122.66" x2="464.90" y2="122.66" stroke="#333" stroke-width="0.6"/>
<text x="462.90" y="123.56" font-size="2.4" fill="#555" text-anchor="end">20</text>
<line x1="463.40" y1="115.22" x2="464.90" y2="115.22" stroke="#333" stroke-width="0.6"/>
<text x="462.90" y="116.12" font-size="2.4" fill="#555" text-anchor="end">40</text>
<line x1="463.40" y1="107.78" x2="464.90" y2="107.78" stroke="#333" stroke-width="0.6"/>
<text x="462.90" y="108.68" font-size="2.4" fill="#555" text-anchor="end">60</text>
<line x1="463.40" y1="100.34" x2="464.90" y2="100.34" stroke="#333" stroke-width="0.6"/>
<text x="462.90" y="101.24" font-size="2.4" fill="#555" text-anchor="end">80</text>
<line x1="463.40" y1="92.90" x2="464.90" y2="92.90" stroke="#333" stroke-width="0.6"/>
<text x="462.90" y="93.80" font-size="2.4" fill="#555" text-anchor="end">100</text>
<line x1="471.86" y1="130.10" x2="471.86" y2="131.40" stroke="#444" stroke-width="0.5"/>
<text x="471.86" y="133.70" font-size="2.3" fill="#6a6a6a" text-anchor="middle">10</text>
<line x1="487.17" y1="130.10" x2="487.17" y2="131.40" stroke="#444" stroke-width="0.5"/>
<text x="487.17" y="133.70" font-size="2.3" fill="#6a6a6a" text-anchor="middle">10</text>
<line x1="496.45" y1="130.10" x2="496.45" y2="131.40" stroke="#444" stroke-width="0.5"/>
<text x="496.45" y="133.70" font-size="2.3" fill="#6a6a6a" text-anchor="middle">10</text>
<line x1="505.73" y1="130.10" x2="505.73" y2="131.40" stroke="#444" stroke-width="0.5"/>
<text x="505.73" y="133.70" font-size="2.3" fill="#6a6a6a" text-anchor="middle">10</text>
<line x1="489.40" y1="121.40" x2="507.00" y2="121.40" stroke="#4a4a4a" stroke-width="0.6"/>
<line x1="489.40" y1="120.60" x2="489.40" y2="122.20" stroke="#4a4a4a" stroke-width="0.6"/>
<line x1="507.00" y1="120.60" x2="507.00" y2="122.20" stroke="#4a4a4a" stroke-width="0.6"/>
<text x="499.20" y="119.80" font-size="2.4" fill="#666" text-anchor="middle">M1</text>
<text x="492.00" y="98.60" font-size="7.5" font-weight="bold" fill="#1a40c0" textLength="17.00" lengthAdjust="spacingAndGlyphs">0.8%</text>
<line x1="35.80" y1="146.90" x2="82.80" y2="146.90" stroke="#b8b8b8" stroke-width="0.8"/>
<line x1="82.80" y1="146.90" x2="82.80" y2="186.70" stroke="#b8b8b8" stroke-width="0.8"/>
<path d="M48.50,186.70 C48.88,186.22 50.13,185.05 50.80,183.80 C51.47,182.55 52.03,180.15 52.50,179.20 C52.97,178.25 53.22,178.13 53.60,178.10 C53.98,178.07 54.35,179.10 54.80,179.00 C55.25,178.90 55.72,179.00 56.30,177.50 C56.88,176.00 57.68,173.17 58.30,170.00 C58.92,166.83 59.48,161.38 60.00,158.50 C60.52,155.62 60.92,152.70 61.40,152.70 C61.88,152.70 62.40,155.23 62.90,158.50 C63.40,161.77 63.92,168.47 64.40,172.30 C64.88,176.13 65.28,179.10 65.80,181.50 C66.32,183.90 67.22,185.83 67.50,186.70 L67.50,186.70 L48.50,186.70 Z" fill="#8ba39f" stroke="#253030" stroke-width="0.8" stroke-linejoin="round"/>
<line x1="35.80" y1="146.90" x2="35.80" y2="186.70" stroke="#444" stroke-width="0.7"/>
<line x1="35.80" y1="186.70" x2="82.80" y2="186.70" stroke="#444" stroke-width="0.8"/>
<line x1="34.30" y1="186.70" x2="35.80" y2="186.70" stroke="#333" stroke-width="0.6"/>
<text x="33.80" y="187.60" font-size="2.4" fill="#555" text-anchor="end">0</text>
<line x1="34.30" y1="179.14" x2="35.80" y2="179.14" stroke="#333" stroke-width="0.6"/>
<text x="33.80" y="180.04" font-size="2.4" fill="#555" text-anchor="end">20</text>
<line x1="34.30" y1="171.58" x2="35.80" y2="171.58" stroke="#333" stroke-width="0.6"/>
<text x="33.80" y="172.48" font-size="2.4" fill="#555" text-anchor="end">40</text>
<line x1="34.30" y1="164.02" x2="35.80" y2="164.02" stroke="#333" stroke-width="0.6"/>
<text x="33.80" y="164.92" font-size="2.4" fill="#555" text-anchor="end">60</text>
<line x1="34.30" y1="156.46" x2="35.80" y2="156.46" stroke="#333" stroke-width="0.6"/>
<text x="33.80" y="157.36" font-size="2.4" fill="#555" text-anchor="end">80</text>
<line x1="34.30" y1="148.90" x2="35.80" y2="148.90" stroke="#333" stroke-width="0.6"/>
<text x="33.80" y="149.80" font-size="2.4" fill="#555" text-anchor="end">100</text>
<line x1="42.85" y1="186.70" x2="42.85" y2="188.00" stroke="#444" stroke-width="0.5"/>
<text x="42.85" y="190.30" font-size="2.3" fill="#6a6a6a" text-anchor="middle">10</text>
<line x1="58.36" y1="186.70" x2="58.36" y2="188.00" stroke="#444" stroke-width="0.5"/>
<text x="58.36" y="190.30" font-size="2.3" fill="#6a6a6a" text-anchor="middle">10</text>
<line x1="67.76" y1="186.70" x2="67.76" y2="188.00" stroke="#444" stroke-width="0.5"/>
<text x="67.76" y="190.30" font-size="2.3" fill="#6a6a6a" text-anchor="middle">10</text>
<line x1="77.16" y1="186.70" x2="77.16" y2="188.00" stroke="#444" stroke-width="0.5"/>
<text x="77.16" y="190.30" font-size="2.3" fill="#6a6a6a" text-anchor="middle">10</text>
<line x1="58.30" y1="177.10" x2="79.00" y2="177.10" stroke="#4a4a4a" stroke-width="0.6"/>
<line x1="58.30" y1="176.30" x2="58.30" y2="177.90" stroke="#4a4a4a" stroke-width="0.6"/>
<line x1="79.00" y1="176.30" x2="79.00" y2="177.90" stroke="#4a4a4a" stroke-width="0.6"/>
<text x="69.65" y="175.50" font-size="2.4" fill="#666" text-anchor="middle">M1</text>
<text x="59.30" y="194.00" font-size="2.4" fill="#888" text-anchor="middle">p-HCK APC</text>
<text x="36.70" y="155.20" font-size="7.5" font-weight="bold" fill="#d0101e" textLength="21.60" lengthAdjust="spacingAndGlyphs">71.0%</text>
<line x1="93.20" y1="146.90" x2="140.80" y2="146.90" stroke="#b8b8b8" stroke-width="0.8"/>
<line x1="140.80" y1="146.90" x2="140.80" y2="186.70" stroke="#b8b8b8" stroke-width="0.8"/>
<path d="M102.40,186.70 C102.68,186.03 103.52,184.72 104.10,182.70 C104.68,180.68 105.35,177.10 105.90,174.60 C106.45,172.10 106.98,169.08 107.40,167.70 C107.82,166.32 108.02,165.92 108.40,166.30 C108.78,166.68 109.25,168.82 109.70,170.00 C110.15,171.18 110.58,173.22 111.10,173.40 C111.62,173.58 112.23,173.58 112.80,171.10 C113.37,168.62 113.92,161.57 114.50,158.50 C115.08,155.43 115.82,153.87 116.30,152.70 C116.78,151.53 117.02,151.32 117.40,151.50 C117.78,151.68 118.12,151.30 118.60,153.80 C119.08,156.30 119.73,162.27 120.30,166.50 C120.87,170.73 121.42,176.12 122.00,179.20 C122.58,182.28 123.22,183.75 123.80,185.00 C124.38,186.25 125.22,186.42 125.50,186.70 L125.50,186.70 L102.40,186.70 Z" fill="#8ba39f" stroke="#253030" stroke-width="0.8" stroke-linejoin="round"/>
<line x1="93.20" y1="146.90" x2="93.20" y2="186.70" stroke="#444" stroke-width="0.7"/>
<line x1="93.20" y1="186.70" x2="140.80" y2="186.70" stroke="#444" stroke-width="0.8"/>
<line x1="91.70" y1="186.70" x2="93.20" y2="186.70" stroke="#333" stroke-width="0.6"/>
<text x="91.20" y="187.60" font-size="2.4" fill="#555" text-anchor="end">0</text>
<line x1="91.70" y1="179.14" x2="93.20" y2="179.14" stroke="#333" stroke-width="0.6"/>
<text x="91.20" y="180.04" font-size="2.4" fill="#555" text-anchor="end">20</text>
<line x1="91.70" y1="171.58" x2="93.20" y2="171.58" stroke="#333" stroke-width="0.6"/>
<text x="91.20" y="172.48" font-size="2.4" fill="#555" text-anchor="end">40</text>
<line x1="91.70" y1="164.02" x2="93.20" y2="164.02" stroke="#333" stroke-width="0.6"/>
<text x="91.20" y="164.92" font-size="2.4" fill="#555" text-anchor="end">60</text>
<line x1="91.70" y1="156.46" x2="93.20" y2="156.46" stroke="#333" stroke-width="0.6"/>
<text x="91.20" y="157.36" font-size="2.4" fill="#555" text-anchor="end">80</text>
<line x1="91.70" y1="148.90" x2="93.20" y2="148.90" stroke="#333" stroke-width="0.6"/>
<text x="91.20" y="149.80" font-size="2.4" fill="#555" text-anchor="end">100</text>
<line x1="100.34" y1="186.70" x2="100.34" y2="188.00" stroke="#444" stroke-width="0.5"/>
<text x="100.34" y="190.30" font-size="2.3" fill="#6a6a6a" text-anchor="middle">10</text>
<line x1="116.05" y1="186.70" x2="116.05" y2="188.00" stroke="#444" stroke-width="0.5"/>
<text x="116.05" y="190.30" font-size="2.3" fill="#6a6a6a" text-anchor="middle">10</text>
<line x1="125.57" y1="186.70" x2="125.57" y2="188.00" stroke="#444" stroke-width="0.5"/>
<text x="125.57" y="190.30" font-size="2.3" fill="#6a6a6a" text-anchor="middle">10</text>
<line x1="135.09" y1="186.70" x2="135.09" y2="188.00" stroke="#444" stroke-width="0.5"/>
<text x="135.09" y="190.30" font-size="2.3" fill="#6a6a6a" text-anchor="middle">10</text>
<line x1="118.20" y1="177.10" x2="135.90" y2="177.10" stroke="#4a4a4a" stroke-width="0.6"/>
<line x1="118.20" y1="176.30" x2="118.20" y2="177.90" stroke="#4a4a4a" stroke-width="0.6"/>
<line x1="135.90" y1="176.30" x2="135.90" y2="177.90" stroke="#4a4a4a" stroke-width="0.6"/>
<text x="128.05" y="175.50" font-size="2.4" fill="#666" text-anchor="middle">M1</text>
<text x="117.00" y="194.00" font-size="2.4" fill="#888" text-anchor="middle">p-HCK APC</text>
<text x="118.90" y="155.20" font-size="7.5" font-weight="bold" fill="#d0101e" textLength="21.60" lengthAdjust="spacingAndGlyphs">22.6%</text>
<line x1="151.20" y1="146.90" x2="198.50" y2="146.90" stroke="#b8b8b8" stroke-width="0.8"/>
<line x1="198.50" y1="146.90" x2="198.50" y2="186.70" stroke="#b8b8b8" stroke-width="0.8"/>
<path d="M159.30,186.70 C159.68,186.03 160.93,185.10 161.60,182.70 C162.27,180.30 162.78,175.87 163.30,172.30 C163.82,168.73 164.17,163.52 164.70,161.30 C165.23,159.08 165.97,158.70 166.50,159.00 C167.03,159.30 167.47,161.08 167.90,163.10 C168.33,165.12 168.67,168.83 169.10,171.10 C169.53,173.37 170.02,176.50 170.50,176.70 C170.98,176.90 171.50,175.15 172.00,172.30 C172.50,169.45 173.03,162.87 173.50,159.60 C173.97,156.33 174.42,154.05 174.80,152.70 C175.18,151.35 175.45,150.93 175.80,151.50 C176.15,152.07 176.45,153.02 176.90,156.10 C177.35,159.18 177.98,165.95 178.50,170.00 C179.02,174.05 179.45,177.80 180.00,180.40 C180.55,183.00 181.22,184.55 181.80,185.60 C182.38,186.65 183.22,186.52 183.50,186.70 L183.50,186.70 L159.30,186.70 Z" fill="#8ba39f" stroke="#253030" stroke-width="0.8" stroke-linejoin="round"/>
<line x1="151.20" y1="146.90" x2="151.20" y2="186.70" stroke="#444" stroke-width="0.7"/>
<line x1="151.20" y1="186.70" x2="198.50" y2="186.70" stroke="#444" stroke-width="0.8"/>
<line x1="149.70" y1="186.70" x2="151.20" y2="186.70" stroke="#333" stroke-width="0.6"/>
<text x="149.20" y="187.60" font-size="2.4" fill="#555" text-anchor="end">0</text>
<line x1="149.70" y1="179.14" x2="151.20" y2="179.14" stroke="#333" stroke-width="0.6"/>
<text x="149.20" y="180.04" font-size="2.4" fill="#555" text-anchor="end">20</text>
<line x1="149.70" y1="171.58" x2="151.20" y2="171.58" stroke="#333" stroke-width="0.6"/>
<text x="149.20" y="172.48" font-size="2.4" fill="#555" text-anchor="end">40</text>
<line x1="149.70" y1="164.02" x2="151.20" y2="164.02" stroke="#333" stroke-width="0.6"/>
<text x="149.20" y="164.92" font-size="2.4" fill="#555" text-anchor="end">60</text>
<line x1="149.70" y1="156.46" x2="151.20" y2="156.46" stroke="#333" stroke-width="0.6"/>
<text x="149.20" y="157.36" font-size="2.4" fill="#555" text-anchor="end">80</text>
<line x1="149.70" y1="148.90" x2="151.20" y2="148.90" stroke="#333" stroke-width="0.6"/>
<text x="149.20" y="149.80" font-size="2.4" fill="#555" text-anchor="end">100</text>
<line x1="158.29" y1="186.70" x2="158.29" y2="188.00" stroke="#444" stroke-width="0.5"/>
<text x="158.29" y="190.30" font-size="2.3" fill="#6a6a6a" text-anchor="middle">10</text>
<line x1="173.90" y1="186.70" x2="173.90" y2="188.00" stroke="#444" stroke-width="0.5"/>
<text x="173.90" y="190.30" font-size="2.3" fill="#6a6a6a" text-anchor="middle">10</text>
<line x1="183.36" y1="186.70" x2="183.36" y2="188.00" stroke="#444" stroke-width="0.5"/>
<text x="183.36" y="190.30" font-size="2.3" fill="#6a6a6a" text-anchor="middle">10</text>
<line x1="192.82" y1="186.70" x2="192.82" y2="188.00" stroke="#444" stroke-width="0.5"/>
<text x="192.82" y="190.30" font-size="2.3" fill="#6a6a6a" text-anchor="middle">10</text>
<line x1="176.20" y1="177.10" x2="193.90" y2="177.10" stroke="#4a4a4a" stroke-width="0.6"/>
<line x1="176.20" y1="176.30" x2="176.20" y2="177.90" stroke="#4a4a4a" stroke-width="0.6"/>
<line x1="193.90" y1="176.30" x2="193.90" y2="177.90" stroke="#4a4a4a" stroke-width="0.6"/>
<text x="186.05" y="175.50" font-size="2.4" fill="#666" text-anchor="middle">M1</text>
<text x="174.85" y="194.00" font-size="2.4" fill="#888" text-anchor="middle">p-HCK APC</text>
<text x="176.60" y="155.20" font-size="7.5" font-weight="bold" fill="#d0101e" textLength="21.30" lengthAdjust="spacingAndGlyphs">20.2%</text>
<line x1="209.50" y1="147.50" x2="256.00" y2="147.50" stroke="#b8b8b8" stroke-width="0.8"/>
<line x1="256.00" y1="147.50" x2="256.00" y2="186.70" stroke="#b8b8b8" stroke-width="0.8"/>
<path d="M220.50,186.70 C220.78,186.22 221.67,185.82 222.20,183.80 C222.73,181.78 223.22,178.05 223.70,174.60 C224.18,171.15 224.68,165.98 225.10,163.10 C225.52,160.22 225.82,158.85 226.20,157.30 C226.58,155.75 227.02,154.60 227.40,153.80 C227.78,153.00 228.02,152.30 228.50,152.50 C228.98,152.70 229.68,153.72 230.30,155.00 C230.92,156.28 231.57,158.47 232.20,160.20 C232.83,161.93 233.57,163.00 234.10,165.40 C234.63,167.80 234.88,171.72 235.40,174.60 C235.92,177.48 236.52,180.78 237.20,182.70 C237.88,184.62 238.83,185.43 239.50,186.10 C240.17,186.77 240.92,186.60 241.20,186.70 L241.20,186.70 L220.50,186.70 Z" fill="#8ba39f" stroke="#253030" stroke-width="0.8" stroke-linejoin="round"/>
<line x1="209.50" y1="147.50" x2="209.50" y2="186.70" stroke="#444" stroke-width="0.7"/>
<line x1="209.50" y1="186.70" x2="256.00" y2="186.70" stroke="#444" stroke-width="0.8"/>
<line x1="208.00" y1="186.70" x2="209.50" y2="186.70" stroke="#333" stroke-width="0.6"/>
<text x="207.50" y="187.60" font-size="2.4" fill="#555" text-anchor="end">0</text>
<line x1="208.00" y1="179.26" x2="209.50" y2="179.26" stroke="#333" stroke-width="0.6"/>
<text x="207.50" y="180.16" font-size="2.4" fill="#555" text-anchor="end">20</text>
<line x1="208.00" y1="171.82" x2="209.50" y2="171.82" stroke="#333" stroke-width="0.6"/>
<text x="207.50" y="172.72" font-size="2.4" fill="#555" text-anchor="end">40</text>
<line x1="208.00" y1="164.38" x2="209.50" y2="164.38" stroke="#333" stroke-width="0.6"/>
<text x="207.50" y="165.28" font-size="2.4" fill="#555" text-anchor="end">60</text>
<line x1="208.00" y1="156.94" x2="209.50" y2="156.94" stroke="#333" stroke-width="0.6"/>
<text x="207.50" y="157.84" font-size="2.4" fill="#555" text-anchor="end">80</text>
<line x1="208.00" y1="149.50" x2="209.50" y2="149.50" stroke="#333" stroke-width="0.6"/>
<text x="207.50" y="150.40" font-size="2.4" fill="#555" text-anchor="end">100</text>
<line x1="216.47" y1="186.70" x2="216.47" y2="188.00" stroke="#444" stroke-width="0.5"/>
<text x="216.47" y="190.30" font-size="2.3" fill="#6a6a6a" text-anchor="middle">10</text>
<line x1="231.82" y1="186.70" x2="231.82" y2="188.00" stroke="#444" stroke-width="0.5"/>
<text x="231.82" y="190.30" font-size="2.3" fill="#6a6a6a" text-anchor="middle">10</text>
<line x1="241.12" y1="186.70" x2="241.12" y2="188.00" stroke="#444" stroke-width="0.5"/>
<text x="241.12" y="190.30" font-size="2.3" fill="#6a6a6a" text-anchor="middle">10</text>
<line x1="250.42" y1="186.70" x2="250.42" y2="188.00" stroke="#444" stroke-width="0.5"/>
<text x="250.42" y="190.30" font-size="2.3" fill="#6a6a6a" text-anchor="middle">10</text>
<line x1="235.40" y1="176.90" x2="252.20" y2="176.90" stroke="#4a4a4a" stroke-width="0.6"/>
<line x1="235.40" y1="176.10" x2="235.40" y2="177.70" stroke="#4a4a4a" stroke-width="0.6"/>
<line x1="252.20" y1="176.10" x2="252.20" y2="177.70" stroke="#4a4a4a" stroke-width="0.6"/>
<text x="244.80" y="175.30" font-size="2.4" fill="#666" text-anchor="middle">M1</text>
<text x="232.75" y="194.00" font-size="2.4" fill="#888" text-anchor="middle">p-HCK APC</text>
<text x="238.00" y="155.20" font-size="7.5" font-weight="bold" fill="#d0101e" textLength="17.00" lengthAdjust="spacingAndGlyphs">8.6%</text>
<path d="M298.80,186.70 C299.18,186.22 300.42,184.57 301.10,183.80 C301.78,183.03 302.28,182.52 302.90,182.10 C303.52,181.68 304.13,181.35 304.80,181.30 C305.47,181.25 306.17,181.80 306.90,181.80 C307.63,181.80 308.43,181.53 309.20,181.30 C309.97,181.07 310.77,180.85 311.50,180.40 C312.23,179.95 312.98,179.57 313.60,178.60 C314.22,177.63 314.73,176.80 315.20,174.60 C315.67,172.40 315.95,168.48 316.40,165.40 C316.85,162.32 317.40,158.50 317.90,156.10 C318.40,153.70 318.97,151.77 319.40,151.00 C319.83,150.23 320.12,149.48 320.50,151.50 C320.88,153.52 321.32,158.67 321.70,163.10 C322.08,167.53 322.38,174.65 322.80,178.10 C323.22,181.55 323.73,182.37 324.20,183.80 C324.67,185.23 325.37,186.22 325.60,186.70 L325.60,186.70 L298.80,186.70 Z" fill="#8ba39f" stroke="#253030" stroke-width="0.8" stroke-linejoin="round"/>
<line x1="290.50" y1="146.90" x2="290.50" y2="186.70" stroke="#444" stroke-width="0.7"/>
<line x1="290.50" y1="186.70" x2="337.50" y2="186.70" stroke="#444" stroke-width="0.8"/>
<line x1="289.00" y1="186.70" x2="290.50" y2="186.70" stroke="#333" stroke-width="0.6"/>
<text x="288.50" y="187.60" font-size="2.4" fill="#555" text-anchor="end">0</text>
<line x1="289.00" y1="179.14" x2="290.50" y2="179.14" stroke="#333" stroke-width="0.6"/>
<text x="288.50" y="180.04" font-size="2.4" fill="#555" text-anchor="end">20</text>
<line x1="289.00" y1="171.58" x2="290.50" y2="171.58" stroke="#333" stroke-width="0.6"/>
<text x="288.50" y="172.48" font-size="2.4" fill="#555" text-anchor="end">40</text>
<line x1="289.00" y1="164.02" x2="290.50" y2="164.02" stroke="#333" stroke-width="0.6"/>
<text x="288.50" y="164.92" font-size="2.4" fill="#555" text-anchor="end">60</text>
<line x1="289.00" y1="156.46" x2="290.50" y2="156.46" stroke="#333" stroke-width="0.6"/>
<text x="288.50" y="157.36" font-size="2.4" fill="#555" text-anchor="end">80</text>
<line x1="289.00" y1="148.90" x2="290.50" y2="148.90" stroke="#333" stroke-width="0.6"/>
<text x="288.50" y="149.80" font-size="2.4" fill="#555" text-anchor="end">100</text>
<line x1="297.55" y1="186.70" x2="297.55" y2="188.00" stroke="#444" stroke-width="0.5"/>
<text x="297.55" y="190.30" font-size="2.3" fill="#6a6a6a" text-anchor="middle">10</text>
<line x1="313.06" y1="186.70" x2="313.06" y2="188.00" stroke="#444" stroke-width="0.5"/>
<text x="313.06" y="190.30" font-size="2.3" fill="#6a6a6a" text-anchor="middle">10</text>
<line x1="322.46" y1="186.70" x2="322.46" y2="188.00" stroke="#444" stroke-width="0.5"/>
<text x="322.46" y="190.30" font-size="2.3" fill="#6a6a6a" text-anchor="middle">10</text>
<line x1="331.86" y1="186.70" x2="331.86" y2="188.00" stroke="#444" stroke-width="0.5"/>
<text x="331.86" y="190.30" font-size="2.3" fill="#6a6a6a" text-anchor="middle">10</text>
<line x1="314.40" y1="177.80" x2="332.90" y2="177.80" stroke="#4a4a4a" stroke-width="0.6"/>
<line x1="314.40" y1="177.00" x2="314.40" y2="178.60" stroke="#4a4a4a" stroke-width="0.6"/>
<line x1="332.90" y1="177.00" x2="332.90" y2="178.60" stroke="#4a4a4a" stroke-width="0.6"/>
<text x="324.65" y="176.20" font-size="2.4" fill="#666" text-anchor="middle">M1</text>
<text x="314.00" y="194.00" font-size="2.4" fill="#888" text-anchor="middle">p-HCK APC</text>
<text x="292.80" y="155.20" font-size="7.5" font-weight="bold" fill="#1a40c0" textLength="22.20" lengthAdjust="spacingAndGlyphs">69.5%</text>
<path d="M355.70,186.70 C355.98,186.22 356.87,185.05 357.40,183.80 C357.93,182.55 358.42,180.63 358.90,179.20 C359.38,177.77 359.87,176.20 360.30,175.20 C360.73,174.20 361.08,173.10 361.50,173.20 C361.92,173.30 362.23,174.70 362.80,175.80 C363.37,176.90 364.27,178.93 364.90,179.80 C365.53,180.67 366.07,181.10 366.60,181.00 C367.13,180.90 367.57,180.47 368.10,179.20 C368.63,177.93 369.27,176.08 369.80,173.40 C370.33,170.72 370.87,165.98 371.30,163.10 C371.73,160.22 372.08,157.55 372.40,156.10 C372.72,154.65 372.87,154.20 373.20,154.40 C373.53,154.60 373.95,154.90 374.40,157.30 C374.85,159.70 375.40,164.95 375.90,168.80 C376.40,172.65 376.92,177.60 377.40,180.40 C377.88,183.20 378.28,184.55 378.80,185.60 C379.32,186.65 380.22,186.52 380.50,186.70 L380.50,186.70 L355.70,186.70 Z" fill="#8ba39f" stroke="#253030" stroke-width="0.8" stroke-linejoin="round"/>
<line x1="347.60" y1="146.90" x2="347.60" y2="186.70" stroke="#444" stroke-width="0.7"/>
<line x1="347.60" y1="186.70" x2="394.90" y2="186.70" stroke="#444" stroke-width="0.8"/>
<line x1="346.10" y1="186.70" x2="347.60" y2="186.70" stroke="#333" stroke-width="0.6"/>
<text x="345.60" y="187.60" font-size="2.4" fill="#555" text-anchor="end">0</text>
<line x1="346.10" y1="179.14" x2="347.60" y2="179.14" stroke="#333" stroke-width="0.6"/>
<text x="345.60" y="180.04" font-size="2.4" fill="#555" text-anchor="end">20</text>
<line x1="346.10" y1="171.58" x2="347.60" y2="171.58" stroke="#333" stroke-width="0.6"/>
<text x="345.60" y="172.48" font-size="2.4" fill="#555" text-anchor="end">40</text>
<line x1="346.10" y1="164.02" x2="347.60" y2="164.02" stroke="#333" stroke-width="0.6"/>
<text x="345.60" y="164.92" font-size="2.4" fill="#555" text-anchor="end">60</text>
<line x1="346.10" y1="156.46" x2="347.60" y2="156.46" stroke="#333" stroke-width="0.6"/>
<text x="345.60" y="157.36" font-size="2.4" fill="#555" text-anchor="end">80</text>
<line x1="346.10" y1="148.90" x2="347.60" y2="148.90" stroke="#333" stroke-width="0.6"/>
<text x="345.60" y="149.80" font-size="2.4" fill="#555" text-anchor="end">100</text>
<line x1="354.69" y1="186.70" x2="354.69" y2="188.00" stroke="#444" stroke-width="0.5"/>
<text x="354.69" y="190.30" font-size="2.3" fill="#6a6a6a" text-anchor="middle">10</text>
<line x1="370.30" y1="186.70" x2="370.30" y2="188.00" stroke="#444" stroke-width="0.5"/>
<text x="370.30" y="190.30" font-size="2.3" fill="#6a6a6a" text-anchor="middle">10</text>
<line x1="379.76" y1="186.70" x2="379.76" y2="188.00" stroke="#444" stroke-width="0.5"/>
<text x="379.76" y="190.30" font-size="2.3" fill="#6a6a6a" text-anchor="middle">10</text>
<line x1="389.22" y1="186.70" x2="389.22" y2="188.00" stroke="#444" stroke-width="0.5"/>
<text x="389.22" y="190.30" font-size="2.3" fill="#6a6a6a" text-anchor="middle">10</text>
<line x1="373.20" y1="176.30" x2="390.50" y2="176.30" stroke="#4a4a4a" stroke-width="0.6"/>
<line x1="373.20" y1="175.50" x2="373.20" y2="177.10" stroke="#4a4a4a" stroke-width="0.6"/>
<line x1="390.50" y1="175.50" x2="390.50" y2="177.10" stroke="#4a4a4a" stroke-width="0.6"/>
<text x="382.85" y="174.70" font-size="2.4" fill="#666" text-anchor="middle">M1</text>
<text x="371.25" y="194.00" font-size="2.4" fill="#888" text-anchor="middle">p-HCK APC</text>
<text x="373.20" y="155.20" font-size="7.5" font-weight="bold" fill="#1a40c0" textLength="21.70" lengthAdjust="spacingAndGlyphs">37.1%</text>
<line x1="453.50" y1="146.90" x2="453.50" y2="186.70" stroke="#b8b8b8" stroke-width="0.8"/>
<path d="M411.40,186.70 C411.68,186.22 412.53,185.43 413.10,183.80 C413.67,182.17 414.28,178.72 414.80,176.90 C415.32,175.08 415.65,174.02 416.20,172.90 C416.75,171.78 417.52,170.30 418.10,170.20 C418.68,170.10 419.08,171.18 419.70,172.30 C420.32,173.42 421.07,175.75 421.80,176.90 C422.53,178.05 423.33,178.72 424.10,179.20 C424.87,179.68 425.78,180.57 426.40,179.80 C427.02,179.03 427.32,177.38 427.80,174.60 C428.28,171.82 428.87,166.18 429.30,163.10 C429.73,160.02 430.02,156.87 430.40,156.10 C430.78,155.33 431.22,156.77 431.60,158.50 C431.98,160.23 432.27,163.23 432.70,166.50 C433.13,169.77 433.72,175.12 434.20,178.10 C434.68,181.08 435.08,182.97 435.60,184.40 C436.12,185.83 437.02,186.32 437.30,186.70 L437.30,186.70 L411.40,186.70 Z" fill="#8ba39f" stroke="#253030" stroke-width="0.8" stroke-linejoin="round"/>
<line x1="406.20" y1="146.90" x2="406.20" y2="186.70" stroke="#444" stroke-width="0.7"/>
<line x1="406.20" y1="186.70" x2="453.50" y2="186.70" stroke="#444" stroke-width="0.8"/>
<line x1="404.70" y1="186.70" x2="406.20" y2="186.70" stroke="#333" stroke-width="0.6"/>
<text x="404.20" y="187.60" font-size="2.4" fill="#555" text-anchor="end">0</text>
<line x1="404.70" y1="179.14" x2="406.20" y2="179.14" stroke="#333" stroke-width="0.6"/>
<text x="404.20" y="180.04" font-size="2.4" fill="#555" text-anchor="end">20</text>
<line x1="404.70" y1="171.58" x2="406.20" y2="171.58" stroke="#333" stroke-width="0.6"/>
<text x="404.20" y="172.48" font-size="2.4" fill="#555" text-anchor="end">40</text>
<line x1="404.70" y1="164.02" x2="406.20" y2="164.02" stroke="#333" stroke-width="0.6"/>
<text x="404.20" y="164.92" font-size="2.4" fill="#555" text-anchor="end">60</text>
<line x1="404.70" y1="156.46" x2="406.20" y2="156.46" stroke="#333" stroke-width="0.6"/>
<text x="404.20" y="157.36" font-size="2.4" fill="#555" text-anchor="end">80</text>
<line x1="404.70" y1="148.90" x2="406.20" y2="148.90" stroke="#333" stroke-width="0.6"/>
<text x="404.20" y="149.80" font-size="2.4" fill="#555" text-anchor="end">100</text>
<line x1="413.30" y1="186.70" x2="413.30" y2="188.00" stroke="#444" stroke-width="0.5"/>
<text x="413.30" y="190.30" font-size="2.3" fill="#6a6a6a" text-anchor="middle">10</text>
<line x1="428.90" y1="186.70" x2="428.90" y2="188.00" stroke="#444" stroke-width="0.5"/>
<text x="428.90" y="190.30" font-size="2.3" fill="#6a6a6a" text-anchor="middle">10</text>
<line x1="438.36" y1="186.70" x2="438.36" y2="188.00" stroke="#444" stroke-width="0.5"/>
<text x="438.36" y="190.30" font-size="2.3" fill="#6a6a6a" text-anchor="middle">10</text>
<line x1="447.82" y1="186.70" x2="447.82" y2="188.00" stroke="#444" stroke-width="0.5"/>
<text x="447.82" y="190.30" font-size="2.3" fill="#6a6a6a" text-anchor="middle">10</text>
<line x1="431.20" y1="176.70" x2="448.50" y2="176.70" stroke="#4a4a4a" stroke-width="0.6"/>
<line x1="431.20" y1="175.90" x2="431.20" y2="177.50" stroke="#4a4a4a" stroke-width="0.6"/>
<line x1="448.50" y1="175.90" x2="448.50" y2="177.50" stroke="#4a4a4a" stroke-width="0.6"/>
<text x="440.85" y="175.10" font-size="2.4" fill="#666" text-anchor="middle">M1</text>
<text x="429.85" y="194.00" font-size="2.4" fill="#888" text-anchor="middle">p-HCK APC</text>
<text x="431.20" y="155.20" font-size="7.5" font-weight="bold" fill="#1a40c0" textLength="21.10" lengthAdjust="spacingAndGlyphs">29.0%</text>
<path d="M472.40,186.70 C472.68,186.22 473.58,184.75 474.10,183.80 C474.62,182.85 475.07,182.15 475.50,181.00 C475.93,179.85 476.25,177.77 476.70,176.90 C477.15,176.03 477.77,176.57 478.20,175.80 C478.63,175.03 478.92,172.60 479.30,172.30 C479.68,172.00 480.12,173.47 480.50,174.00 C480.88,174.53 481.17,175.68 481.60,175.50 C482.03,175.32 482.62,174.58 483.10,172.90 C483.58,171.22 484.07,168.20 484.50,165.40 C484.93,162.60 485.35,158.32 485.70,156.10 C486.05,153.88 486.25,152.48 486.60,152.10 C486.95,151.72 487.47,151.97 487.80,153.80 C488.13,155.63 488.28,159.83 488.60,163.10 C488.92,166.37 489.32,170.33 489.70,173.40 C490.08,176.47 490.52,179.47 490.90,181.50 C491.28,183.53 491.52,184.73 492.00,185.60 C492.48,186.47 493.50,186.52 493.80,186.70 L493.80,186.70 L472.40,186.70 Z" fill="#8ba39f" stroke="#253030" stroke-width="0.8" stroke-linejoin="round"/>
<line x1="464.90" y1="146.90" x2="464.90" y2="186.70" stroke="#444" stroke-width="0.7"/>
<line x1="464.90" y1="186.70" x2="511.30" y2="186.70" stroke="#444" stroke-width="0.8"/>
<line x1="463.40" y1="186.70" x2="464.90" y2="186.70" stroke="#333" stroke-width="0.6"/>
<text x="462.90" y="187.60" font-size="2.4" fill="#555" text-anchor="end">0</text>
<line x1="463.40" y1="179.14" x2="464.90" y2="179.14" stroke="#333" stroke-width="0.6"/>
<text x="462.90" y="180.04" font-size="2.4" fill="#555" text-anchor="end">20</text>
<line x1="463.40" y1="171.58" x2="464.90" y2="171.58" stroke="#333" stroke-width="0.6"/>
<text x="462.90" y="172.48" font-size="2.4" fill="#555" text-anchor="end">40</text>
<line x1="463.40" y1="164.02" x2="464.90" y2="164.02" stroke="#333" stroke-width="0.6"/>
<text x="462.90" y="164.92" font-size="2.4" fill="#555" text-anchor="end">60</text>
<line x1="463.40" y1="156.46" x2="464.90" y2="156.46" stroke="#333" stroke-width="0.6"/>
<text x="462.90" y="157.36" font-size="2.4" fill="#555" text-anchor="end">80</text>
<line x1="463.40" y1="148.90" x2="464.90" y2="148.90" stroke="#333" stroke-width="0.6"/>
<text x="462.90" y="149.80" font-size="2.4" fill="#555" text-anchor="end">100</text>
<line x1="471.86" y1="186.70" x2="471.86" y2="188.00" stroke="#444" stroke-width="0.5"/>
<text x="471.86" y="190.30" font-size="2.3" fill="#6a6a6a" text-anchor="middle">10</text>
<line x1="487.17" y1="186.70" x2="487.17" y2="188.00" stroke="#444" stroke-width="0.5"/>
<text x="487.17" y="190.30" font-size="2.3" fill="#6a6a6a" text-anchor="middle">10</text>
<line x1="496.45" y1="186.70" x2="496.45" y2="188.00" stroke="#444" stroke-width="0.5"/>
<text x="496.45" y="190.30" font-size="2.3" fill="#6a6a6a" text-anchor="middle">10</text>
<line x1="505.73" y1="186.70" x2="505.73" y2="188.00" stroke="#444" stroke-width="0.5"/>
<text x="505.73" y="190.30" font-size="2.3" fill="#6a6a6a" text-anchor="middle">10</text>
<line x1="489.40" y1="176.70" x2="507.00" y2="176.70" stroke="#4a4a4a" stroke-width="0.6"/>
<line x1="489.40" y1="175.90" x2="489.40" y2="177.50" stroke="#4a4a4a" stroke-width="0.6"/>
<line x1="507.00" y1="175.90" x2="507.00" y2="177.50" stroke="#4a4a4a" stroke-width="0.6"/>
<text x="499.20" y="175.10" font-size="2.4" fill="#666" text-anchor="middle">M1</text>
<text x="488.10" y="194.00" font-size="2.4" fill="#888" text-anchor="middle">p-HCK APC</text>
<text x="492.00" y="155.20" font-size="7.5" font-weight="bold" fill="#1a40c0" textLength="16.80" lengthAdjust="spacingAndGlyphs">6.2%</text>
<text x="59.20" y="88.00" font-size="8.1" text-anchor="middle">Vehicle</text>
<text x="59.20" y="143.60" font-size="8.1" text-anchor="middle">Vehicle</text>
<text x="116.70" y="88.00" font-size="8.1" text-anchor="middle">12.5mg/kg</text>
<text x="116.70" y="143.60" font-size="8.1" text-anchor="middle">12.5mg/kg</text>
<text x="175.10" y="88.00" font-size="8.1" text-anchor="middle">25mg/kg</text>
<text x="175.10" y="143.60" font-size="8.1" text-anchor="middle">25mg/kg</text>
<text x="232.90" y="88.00" font-size="8.1" text-anchor="middle">50mg/kg</text>
<text x="232.90" y="143.60" font-size="8.1" text-anchor="middle">50mg/kg</text>
<text x="314.10" y="88.00" font-size="8.1" text-anchor="middle">Vehicle</text>
<text x="314.10" y="143.60" font-size="8.1" text-anchor="middle">Vehicle</text>
<text x="372.00" y="88.00" font-size="8.1" text-anchor="middle">12.5mg/kg</text>
<text x="372.00" y="143.60" font-size="8.1" text-anchor="middle">12.5mg/kg</text>
<text x="429.90" y="88.00" font-size="8.1" text-anchor="middle">25mg/kg</text>
<text x="429.90" y="143.60" font-size="8.1" text-anchor="middle">25mg/kg</text>
<text x="488.10" y="88.00" font-size="8.1" text-anchor="middle">50mg/kg</text>
<text x="488.10" y="143.60" font-size="8.1" text-anchor="middle">50mg/kg</text>
<text x="0" y="0" font-size="9.6" text-anchor="middle" textLength="16.70" lengthAdjust="spacingAndGlyphs" transform="translate(26.80,109.90) rotate(-90)">6 hrs</text>
<text x="0" y="0" font-size="9.6" text-anchor="middle" textLength="21.30" lengthAdjust="spacingAndGlyphs" transform="translate(26.80,167.00) rotate(-90)">24 hrs</text>
<text x="0" y="0" font-size="9.6" text-anchor="middle" textLength="16.80" lengthAdjust="spacingAndGlyphs" transform="translate(281.20,109.30) rotate(-90)">6 hrs</text>
<text x="0" y="0" font-size="9.6" text-anchor="middle" textLength="21.20" lengthAdjust="spacingAndGlyphs" transform="translate(281.20,166.90) rotate(-90)">24 hrs</text>
<line x1="35.80" y1="196.40" x2="252.00" y2="196.40" stroke="#000" stroke-width="1.3"/>
<path d="M250.6,194.0 L256.0,196.4 L250.6,198.8 Z" fill="#000" stroke="none" stroke-width="1"/>
<line x1="291.20" y1="196.60" x2="507.50" y2="196.60" stroke="#000" stroke-width="1.3"/>
<path d="M506.5,194.2 L511.9,196.6 L506.5,199.0 Z" fill="#000" stroke="none" stroke-width="1"/>
<text x="135.90" y="207.00" font-size="8.8" textLength="20.50" lengthAdjust="spacingAndGlyphs">p-HCK</text>
<text x="392.10" y="207.00" font-size="8.8" textLength="18.30" lengthAdjust="spacingAndGlyphs">p-BTK</text>
<text x="7.10" y="17.90" font-size="11.3" font-weight="bold" textLength="7.90" lengthAdjust="spacingAndGlyphs">A</text>
<text x="263.60" y="18.40" font-size="11.3" font-weight="bold" textLength="6.80" lengthAdjust="spacingAndGlyphs">B</text>
<text x="7.10" y="378.40" font-size="11.3" font-weight="bold" textLength="7.20" lengthAdjust="spacingAndGlyphs">C</text>
<text x="318.80" y="378.30" font-size="11.3" font-weight="bold">D</text>
<text x="7.20" y="535.20" font-size="11.3" font-weight="bold">E</text>
<rect x="0.00" y="0.00" width="520.00" height="1.20" fill="#000"/>
<rect x="0.00" y="0.00" width="1.30" height="686.00" fill="#000"/>
<rect x="518.60" y="0.00" width="1.40" height="686.00" fill="#000"/>
<rect x="0.00" y="684.60" width="520.00" height="1.40" fill="#000"/>
</svg>
</body></html>
